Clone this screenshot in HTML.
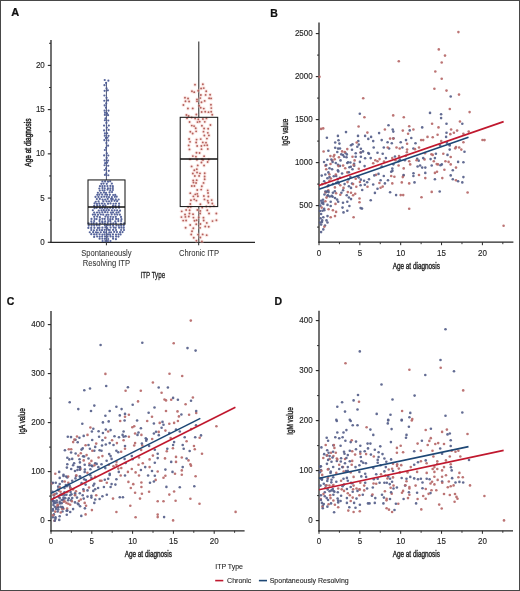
<!DOCTYPE html>
<html><head><meta charset="utf-8"><style>
html,body{margin:0;padding:0;background:#fff;}
body{width:520px;height:591px;overflow:hidden;}
svg{display:block;font-family:"Liberation Sans", sans-serif;filter:blur(0.3px);}
</style></head><body>
<svg width="520" height="591" viewBox="0 0 520 591">
<rect x="0" y="0" width="520" height="591" fill="#fff"/>
<text x="15.20" y="16.30" font-size="11" text-anchor="middle" fill="#111" stroke="#111" stroke-width="0.22" font-weight="bold">A</text>
<line x1="51.00" y1="40.00" x2="51.00" y2="242.95" stroke="#262626" stroke-width="1.3" stroke-linecap="butt"/>
<line x1="50.35" y1="242.30" x2="255.00" y2="242.30" stroke="#262626" stroke-width="1.3" stroke-linecap="butt"/>
<line x1="47.80" y1="242.30" x2="51.00" y2="242.30" stroke="#262626" stroke-width="1.1" stroke-linecap="butt"/>
<text x="0" y="0" transform="translate(44.80,244.80) rotate(0) scale(0.9,1)" font-size="8.9" text-anchor="end" fill="#262626" stroke="#262626" stroke-width="0.15" font-weight="normal">0</text>
<line x1="47.80" y1="198.08" x2="51.00" y2="198.08" stroke="#262626" stroke-width="1.1" stroke-linecap="butt"/>
<text x="0" y="0" transform="translate(44.80,200.58) rotate(0) scale(0.9,1)" font-size="8.9" text-anchor="end" fill="#262626" stroke="#262626" stroke-width="0.15" font-weight="normal">5</text>
<line x1="47.80" y1="153.85" x2="51.00" y2="153.85" stroke="#262626" stroke-width="1.1" stroke-linecap="butt"/>
<text x="0" y="0" transform="translate(44.80,156.35) rotate(0) scale(0.9,1)" font-size="8.9" text-anchor="end" fill="#262626" stroke="#262626" stroke-width="0.15" font-weight="normal">10</text>
<line x1="47.80" y1="109.62" x2="51.00" y2="109.62" stroke="#262626" stroke-width="1.1" stroke-linecap="butt"/>
<text x="0" y="0" transform="translate(44.80,112.12) rotate(0) scale(0.9,1)" font-size="8.9" text-anchor="end" fill="#262626" stroke="#262626" stroke-width="0.15" font-weight="normal">15</text>
<line x1="47.80" y1="65.40" x2="51.00" y2="65.40" stroke="#262626" stroke-width="1.1" stroke-linecap="butt"/>
<text x="0" y="0" transform="translate(44.80,67.90) rotate(0) scale(0.9,1)" font-size="8.9" text-anchor="end" fill="#262626" stroke="#262626" stroke-width="0.15" font-weight="normal">20</text>
<line x1="49.00" y1="220.19" x2="51.00" y2="220.19" stroke="#262626" stroke-width="0.9" stroke-linecap="butt"/>
<line x1="49.00" y1="175.96" x2="51.00" y2="175.96" stroke="#262626" stroke-width="0.9" stroke-linecap="butt"/>
<line x1="49.00" y1="131.74" x2="51.00" y2="131.74" stroke="#262626" stroke-width="0.9" stroke-linecap="butt"/>
<line x1="49.00" y1="87.51" x2="51.00" y2="87.51" stroke="#262626" stroke-width="0.9" stroke-linecap="butt"/>
<line x1="49.00" y1="43.29" x2="51.00" y2="43.29" stroke="#262626" stroke-width="0.9" stroke-linecap="butt"/>
<text x="0" y="0" transform="translate(30.60,142.60) rotate(-90) scale(0.74,1)" font-size="8.8" text-anchor="middle" fill="#262626" stroke="#262626" stroke-width="0.5" font-weight="normal">Age at diagnosis</text>
<line x1="106.40" y1="242.30" x2="106.40" y2="245.30" stroke="#262626" stroke-width="1.0" stroke-linecap="butt"/>
<line x1="198.70" y1="242.30" x2="198.70" y2="245.30" stroke="#262626" stroke-width="1.0" stroke-linecap="butt"/>
<text x="0" y="0" transform="translate(106.40,256.30) rotate(0) scale(0.93,1)" font-size="8.2" text-anchor="middle" fill="#333" stroke="#333" stroke-width="0.05" font-weight="normal">Spontaneously</text>
<text x="0" y="0" transform="translate(106.40,265.50) rotate(0) scale(0.93,1)" font-size="8.2" text-anchor="middle" fill="#333" stroke="#333" stroke-width="0.05" font-weight="normal">Resolving ITP</text>
<text x="0" y="0" transform="translate(199.00,256.00) rotate(0) scale(0.93,1)" font-size="8.2" text-anchor="middle" fill="#333" stroke="#333" stroke-width="0.05" font-weight="normal">Chronic ITP</text>
<text x="0" y="0" transform="translate(152.80,277.60) rotate(0) scale(0.7,1)" font-size="8.9" text-anchor="middle" fill="#262626" stroke="#262626" stroke-width="0.3" font-weight="normal">ITP Type</text>
<line x1="106.40" y1="224.17" x2="106.40" y2="242.30" stroke="#4a5478" stroke-width="1.0" stroke-linecap="butt"/>
<line x1="106.40" y1="179.94" x2="106.40" y2="82.00" stroke="#4a5478" stroke-width="1.0" stroke-linecap="butt"/>
<line x1="198.70" y1="206.57" x2="198.70" y2="242.30" stroke="#606060" stroke-width="1.45" stroke-linecap="butt"/>
<line x1="198.70" y1="117.32" x2="198.70" y2="41.50" stroke="#606060" stroke-width="1.45" stroke-linecap="butt"/>
<circle cx="102.60" cy="241.06" r="1.1" fill="#4d5c96" fill-opacity="0.95"/>
<circle cx="105.32" cy="241.08" r="1.1" fill="#4d5c96" fill-opacity="0.95"/>
<circle cx="107.92" cy="241.07" r="1.1" fill="#4d5c96" fill-opacity="0.95"/>
<circle cx="110.46" cy="241.10" r="1.1" fill="#4d5c96" fill-opacity="0.95"/>
<circle cx="99.60" cy="238.71" r="1.1" fill="#4d5c96" fill-opacity="0.95"/>
<circle cx="102.36" cy="238.75" r="1.1" fill="#4d5c96" fill-opacity="0.95"/>
<circle cx="104.97" cy="238.80" r="1.1" fill="#4d5c96" fill-opacity="0.95"/>
<circle cx="108.14" cy="238.98" r="1.1" fill="#4d5c96" fill-opacity="0.95"/>
<circle cx="113.10" cy="238.72" r="1.1" fill="#4d5c96" fill-opacity="0.95"/>
<circle cx="115.92" cy="239.18" r="1.1" fill="#4d5c96" fill-opacity="0.95"/>
<circle cx="94.14" cy="236.97" r="1.1" fill="#4d5c96" fill-opacity="0.95"/>
<circle cx="97.15" cy="236.51" r="1.1" fill="#4d5c96" fill-opacity="0.95"/>
<circle cx="99.70" cy="236.62" r="1.1" fill="#4d5c96" fill-opacity="0.95"/>
<circle cx="102.15" cy="236.59" r="1.1" fill="#4d5c96" fill-opacity="0.95"/>
<circle cx="105.02" cy="236.62" r="1.1" fill="#4d5c96" fill-opacity="0.95"/>
<circle cx="107.60" cy="236.71" r="1.1" fill="#4d5c96" fill-opacity="0.95"/>
<circle cx="110.55" cy="236.45" r="1.1" fill="#4d5c96" fill-opacity="0.95"/>
<circle cx="113.00" cy="236.76" r="1.1" fill="#4d5c96" fill-opacity="0.95"/>
<circle cx="116.12" cy="236.60" r="1.1" fill="#4d5c96" fill-opacity="0.95"/>
<circle cx="118.46" cy="236.61" r="1.1" fill="#4d5c96" fill-opacity="0.95"/>
<circle cx="91.26" cy="234.20" r="1.1" fill="#4d5c96" fill-opacity="0.95"/>
<circle cx="94.11" cy="234.44" r="1.1" fill="#4d5c96" fill-opacity="0.95"/>
<circle cx="96.46" cy="234.45" r="1.1" fill="#4d5c96" fill-opacity="0.95"/>
<circle cx="99.56" cy="234.25" r="1.1" fill="#4d5c96" fill-opacity="0.95"/>
<circle cx="102.43" cy="234.56" r="1.1" fill="#4d5c96" fill-opacity="0.95"/>
<circle cx="104.61" cy="234.38" r="1.1" fill="#4d5c96" fill-opacity="0.95"/>
<circle cx="107.98" cy="234.43" r="1.1" fill="#4d5c96" fill-opacity="0.95"/>
<circle cx="110.09" cy="234.56" r="1.1" fill="#4d5c96" fill-opacity="0.95"/>
<circle cx="112.96" cy="234.40" r="1.1" fill="#4d5c96" fill-opacity="0.95"/>
<circle cx="115.99" cy="234.56" r="1.1" fill="#4d5c96" fill-opacity="0.95"/>
<circle cx="118.52" cy="234.35" r="1.1" fill="#4d5c96" fill-opacity="0.95"/>
<circle cx="120.57" cy="234.38" r="1.1" fill="#4d5c96" fill-opacity="0.95"/>
<circle cx="89.77" cy="232.26" r="1.1" fill="#4d5c96" fill-opacity="0.95"/>
<circle cx="93.16" cy="232.18" r="1.1" fill="#4d5c96" fill-opacity="0.95"/>
<circle cx="95.97" cy="232.27" r="1.1" fill="#4d5c96" fill-opacity="0.95"/>
<circle cx="97.85" cy="232.52" r="1.1" fill="#4d5c96" fill-opacity="0.95"/>
<circle cx="100.79" cy="232.23" r="1.1" fill="#4d5c96" fill-opacity="0.95"/>
<circle cx="103.96" cy="232.21" r="1.1" fill="#4d5c96" fill-opacity="0.95"/>
<circle cx="106.19" cy="232.28" r="1.1" fill="#4d5c96" fill-opacity="0.95"/>
<circle cx="109.30" cy="232.47" r="1.1" fill="#4d5c96" fill-opacity="0.95"/>
<circle cx="111.06" cy="232.31" r="1.1" fill="#4d5c96" fill-opacity="0.95"/>
<circle cx="114.20" cy="231.97" r="1.1" fill="#4d5c96" fill-opacity="0.95"/>
<circle cx="116.95" cy="232.11" r="1.1" fill="#4d5c96" fill-opacity="0.95"/>
<circle cx="120.06" cy="232.13" r="1.1" fill="#4d5c96" fill-opacity="0.95"/>
<circle cx="122.55" cy="232.05" r="1.1" fill="#4d5c96" fill-opacity="0.95"/>
<circle cx="91.26" cy="230.00" r="1.1" fill="#4d5c96" fill-opacity="0.95"/>
<circle cx="93.92" cy="230.26" r="1.1" fill="#4d5c96" fill-opacity="0.95"/>
<circle cx="96.93" cy="230.09" r="1.1" fill="#4d5c96" fill-opacity="0.95"/>
<circle cx="99.58" cy="230.08" r="1.1" fill="#4d5c96" fill-opacity="0.95"/>
<circle cx="102.00" cy="230.15" r="1.1" fill="#4d5c96" fill-opacity="0.95"/>
<circle cx="104.73" cy="229.84" r="1.1" fill="#4d5c96" fill-opacity="0.95"/>
<circle cx="108.24" cy="229.79" r="1.1" fill="#4d5c96" fill-opacity="0.95"/>
<circle cx="109.81" cy="230.00" r="1.1" fill="#4d5c96" fill-opacity="0.95"/>
<circle cx="113.08" cy="229.89" r="1.1" fill="#4d5c96" fill-opacity="0.95"/>
<circle cx="116.06" cy="230.12" r="1.1" fill="#4d5c96" fill-opacity="0.95"/>
<circle cx="121.07" cy="229.98" r="1.1" fill="#4d5c96" fill-opacity="0.95"/>
<circle cx="123.98" cy="229.99" r="1.1" fill="#4d5c96" fill-opacity="0.95"/>
<circle cx="88.35" cy="227.95" r="1.1" fill="#4d5c96" fill-opacity="0.95"/>
<circle cx="91.20" cy="227.91" r="1.1" fill="#4d5c96" fill-opacity="0.95"/>
<circle cx="94.40" cy="227.83" r="1.1" fill="#4d5c96" fill-opacity="0.95"/>
<circle cx="97.81" cy="227.96" r="1.1" fill="#4d5c96" fill-opacity="0.95"/>
<circle cx="99.42" cy="227.82" r="1.1" fill="#4d5c96" fill-opacity="0.95"/>
<circle cx="102.40" cy="227.72" r="1.1" fill="#4d5c96" fill-opacity="0.95"/>
<circle cx="105.34" cy="227.31" r="1.1" fill="#4d5c96" fill-opacity="0.95"/>
<circle cx="107.26" cy="228.00" r="1.1" fill="#4d5c96" fill-opacity="0.95"/>
<circle cx="110.61" cy="227.61" r="1.1" fill="#4d5c96" fill-opacity="0.95"/>
<circle cx="113.76" cy="227.61" r="1.1" fill="#4d5c96" fill-opacity="0.95"/>
<circle cx="115.65" cy="227.80" r="1.1" fill="#4d5c96" fill-opacity="0.95"/>
<circle cx="119.11" cy="227.63" r="1.1" fill="#4d5c96" fill-opacity="0.95"/>
<circle cx="121.40" cy="227.68" r="1.1" fill="#4d5c96" fill-opacity="0.95"/>
<circle cx="123.78" cy="227.78" r="1.1" fill="#4d5c96" fill-opacity="0.95"/>
<circle cx="88.72" cy="225.56" r="1.1" fill="#4d5c96" fill-opacity="0.95"/>
<circle cx="91.57" cy="225.55" r="1.1" fill="#4d5c96" fill-opacity="0.95"/>
<circle cx="94.15" cy="225.58" r="1.1" fill="#4d5c96" fill-opacity="0.95"/>
<circle cx="96.79" cy="225.37" r="1.1" fill="#4d5c96" fill-opacity="0.95"/>
<circle cx="99.31" cy="225.47" r="1.1" fill="#4d5c96" fill-opacity="0.95"/>
<circle cx="104.93" cy="225.24" r="1.1" fill="#4d5c96" fill-opacity="0.95"/>
<circle cx="107.83" cy="225.35" r="1.1" fill="#4d5c96" fill-opacity="0.95"/>
<circle cx="110.24" cy="225.40" r="1.1" fill="#4d5c96" fill-opacity="0.95"/>
<circle cx="113.10" cy="225.64" r="1.1" fill="#4d5c96" fill-opacity="0.95"/>
<circle cx="116.39" cy="225.49" r="1.1" fill="#4d5c96" fill-opacity="0.95"/>
<circle cx="118.74" cy="225.54" r="1.1" fill="#4d5c96" fill-opacity="0.95"/>
<circle cx="121.15" cy="225.59" r="1.1" fill="#4d5c96" fill-opacity="0.95"/>
<circle cx="123.73" cy="225.72" r="1.1" fill="#4d5c96" fill-opacity="0.95"/>
<circle cx="88.59" cy="223.41" r="1.1" fill="#4d5c96" fill-opacity="0.95"/>
<circle cx="91.48" cy="223.24" r="1.1" fill="#4d5c96" fill-opacity="0.95"/>
<circle cx="93.72" cy="223.21" r="1.1" fill="#4d5c96" fill-opacity="0.95"/>
<circle cx="96.54" cy="223.41" r="1.1" fill="#4d5c96" fill-opacity="0.95"/>
<circle cx="99.92" cy="223.24" r="1.1" fill="#4d5c96" fill-opacity="0.95"/>
<circle cx="102.45" cy="222.96" r="1.1" fill="#4d5c96" fill-opacity="0.95"/>
<circle cx="104.84" cy="223.27" r="1.1" fill="#4d5c96" fill-opacity="0.95"/>
<circle cx="107.74" cy="223.08" r="1.1" fill="#4d5c96" fill-opacity="0.95"/>
<circle cx="110.71" cy="223.32" r="1.1" fill="#4d5c96" fill-opacity="0.95"/>
<circle cx="113.30" cy="223.24" r="1.1" fill="#4d5c96" fill-opacity="0.95"/>
<circle cx="115.91" cy="223.28" r="1.1" fill="#4d5c96" fill-opacity="0.95"/>
<circle cx="120.99" cy="223.58" r="1.1" fill="#4d5c96" fill-opacity="0.95"/>
<circle cx="124.18" cy="223.42" r="1.1" fill="#4d5c96" fill-opacity="0.95"/>
<circle cx="91.32" cy="221.32" r="1.1" fill="#4d5c96" fill-opacity="0.95"/>
<circle cx="94.16" cy="221.09" r="1.1" fill="#4d5c96" fill-opacity="0.95"/>
<circle cx="99.51" cy="221.07" r="1.1" fill="#4d5c96" fill-opacity="0.95"/>
<circle cx="102.26" cy="221.46" r="1.1" fill="#4d5c96" fill-opacity="0.95"/>
<circle cx="105.15" cy="221.37" r="1.1" fill="#4d5c96" fill-opacity="0.95"/>
<circle cx="108.18" cy="221.09" r="1.1" fill="#4d5c96" fill-opacity="0.95"/>
<circle cx="110.34" cy="221.18" r="1.1" fill="#4d5c96" fill-opacity="0.95"/>
<circle cx="115.35" cy="221.45" r="1.1" fill="#4d5c96" fill-opacity="0.95"/>
<circle cx="118.36" cy="221.04" r="1.1" fill="#4d5c96" fill-opacity="0.95"/>
<circle cx="121.18" cy="221.01" r="1.1" fill="#4d5c96" fill-opacity="0.95"/>
<circle cx="91.49" cy="218.91" r="1.1" fill="#4d5c96" fill-opacity="0.95"/>
<circle cx="94.59" cy="219.00" r="1.1" fill="#4d5c96" fill-opacity="0.95"/>
<circle cx="96.55" cy="219.11" r="1.1" fill="#4d5c96" fill-opacity="0.95"/>
<circle cx="99.80" cy="219.29" r="1.1" fill="#4d5c96" fill-opacity="0.95"/>
<circle cx="102.43" cy="218.80" r="1.1" fill="#4d5c96" fill-opacity="0.95"/>
<circle cx="104.66" cy="218.91" r="1.1" fill="#4d5c96" fill-opacity="0.95"/>
<circle cx="107.93" cy="219.01" r="1.1" fill="#4d5c96" fill-opacity="0.95"/>
<circle cx="110.28" cy="219.16" r="1.1" fill="#4d5c96" fill-opacity="0.95"/>
<circle cx="112.64" cy="219.15" r="1.1" fill="#4d5c96" fill-opacity="0.95"/>
<circle cx="116.11" cy="218.94" r="1.1" fill="#4d5c96" fill-opacity="0.95"/>
<circle cx="118.23" cy="219.10" r="1.1" fill="#4d5c96" fill-opacity="0.95"/>
<circle cx="121.45" cy="219.18" r="1.1" fill="#4d5c96" fill-opacity="0.95"/>
<circle cx="94.23" cy="216.81" r="1.1" fill="#4d5c96" fill-opacity="0.95"/>
<circle cx="97.16" cy="216.58" r="1.1" fill="#4d5c96" fill-opacity="0.95"/>
<circle cx="99.87" cy="217.18" r="1.1" fill="#4d5c96" fill-opacity="0.95"/>
<circle cx="105.45" cy="216.56" r="1.1" fill="#4d5c96" fill-opacity="0.95"/>
<circle cx="107.91" cy="216.98" r="1.1" fill="#4d5c96" fill-opacity="0.95"/>
<circle cx="110.61" cy="216.82" r="1.1" fill="#4d5c96" fill-opacity="0.95"/>
<circle cx="113.15" cy="216.98" r="1.1" fill="#4d5c96" fill-opacity="0.95"/>
<circle cx="115.79" cy="216.78" r="1.1" fill="#4d5c96" fill-opacity="0.95"/>
<circle cx="121.02" cy="216.92" r="1.1" fill="#4d5c96" fill-opacity="0.95"/>
<circle cx="92.87" cy="214.55" r="1.1" fill="#4d5c96" fill-opacity="0.95"/>
<circle cx="95.09" cy="214.63" r="1.1" fill="#4d5c96" fill-opacity="0.95"/>
<circle cx="98.04" cy="214.73" r="1.1" fill="#4d5c96" fill-opacity="0.95"/>
<circle cx="100.83" cy="214.51" r="1.1" fill="#4d5c96" fill-opacity="0.95"/>
<circle cx="103.22" cy="214.70" r="1.1" fill="#4d5c96" fill-opacity="0.95"/>
<circle cx="106.51" cy="214.81" r="1.1" fill="#4d5c96" fill-opacity="0.95"/>
<circle cx="108.42" cy="214.74" r="1.1" fill="#4d5c96" fill-opacity="0.95"/>
<circle cx="111.70" cy="214.39" r="1.1" fill="#4d5c96" fill-opacity="0.95"/>
<circle cx="114.76" cy="214.47" r="1.1" fill="#4d5c96" fill-opacity="0.95"/>
<circle cx="117.24" cy="214.57" r="1.1" fill="#4d5c96" fill-opacity="0.95"/>
<circle cx="119.84" cy="214.71" r="1.1" fill="#4d5c96" fill-opacity="0.95"/>
<circle cx="94.15" cy="212.58" r="1.1" fill="#4d5c96" fill-opacity="0.95"/>
<circle cx="97.04" cy="212.48" r="1.1" fill="#4d5c96" fill-opacity="0.95"/>
<circle cx="99.50" cy="212.71" r="1.1" fill="#4d5c96" fill-opacity="0.95"/>
<circle cx="102.29" cy="212.28" r="1.1" fill="#4d5c96" fill-opacity="0.95"/>
<circle cx="105.06" cy="212.20" r="1.1" fill="#4d5c96" fill-opacity="0.95"/>
<circle cx="107.58" cy="212.28" r="1.1" fill="#4d5c96" fill-opacity="0.95"/>
<circle cx="110.86" cy="212.56" r="1.1" fill="#4d5c96" fill-opacity="0.95"/>
<circle cx="113.02" cy="212.41" r="1.1" fill="#4d5c96" fill-opacity="0.95"/>
<circle cx="116.49" cy="212.56" r="1.1" fill="#4d5c96" fill-opacity="0.95"/>
<circle cx="118.56" cy="212.31" r="1.1" fill="#4d5c96" fill-opacity="0.95"/>
<circle cx="92.84" cy="210.24" r="1.1" fill="#4d5c96" fill-opacity="0.95"/>
<circle cx="98.71" cy="210.52" r="1.1" fill="#4d5c96" fill-opacity="0.95"/>
<circle cx="101.48" cy="210.33" r="1.1" fill="#4d5c96" fill-opacity="0.95"/>
<circle cx="103.78" cy="210.20" r="1.1" fill="#4d5c96" fill-opacity="0.95"/>
<circle cx="106.34" cy="210.23" r="1.1" fill="#4d5c96" fill-opacity="0.95"/>
<circle cx="108.83" cy="210.20" r="1.1" fill="#4d5c96" fill-opacity="0.95"/>
<circle cx="111.88" cy="210.31" r="1.1" fill="#4d5c96" fill-opacity="0.95"/>
<circle cx="114.59" cy="210.31" r="1.1" fill="#4d5c96" fill-opacity="0.95"/>
<circle cx="117.13" cy="210.29" r="1.1" fill="#4d5c96" fill-opacity="0.95"/>
<circle cx="120.02" cy="210.66" r="1.1" fill="#4d5c96" fill-opacity="0.95"/>
<circle cx="94.55" cy="208.23" r="1.1" fill="#4d5c96" fill-opacity="0.95"/>
<circle cx="96.70" cy="207.79" r="1.1" fill="#4d5c96" fill-opacity="0.95"/>
<circle cx="99.98" cy="208.05" r="1.1" fill="#4d5c96" fill-opacity="0.95"/>
<circle cx="102.24" cy="208.10" r="1.1" fill="#4d5c96" fill-opacity="0.95"/>
<circle cx="104.92" cy="208.04" r="1.1" fill="#4d5c96" fill-opacity="0.95"/>
<circle cx="107.34" cy="208.39" r="1.1" fill="#4d5c96" fill-opacity="0.95"/>
<circle cx="110.13" cy="207.78" r="1.1" fill="#4d5c96" fill-opacity="0.95"/>
<circle cx="112.88" cy="208.12" r="1.1" fill="#4d5c96" fill-opacity="0.95"/>
<circle cx="115.93" cy="207.76" r="1.1" fill="#4d5c96" fill-opacity="0.95"/>
<circle cx="119.05" cy="207.77" r="1.1" fill="#4d5c96" fill-opacity="0.95"/>
<circle cx="94.20" cy="205.95" r="1.1" fill="#4d5c96" fill-opacity="0.95"/>
<circle cx="97.17" cy="205.61" r="1.1" fill="#4d5c96" fill-opacity="0.95"/>
<circle cx="99.82" cy="205.51" r="1.1" fill="#4d5c96" fill-opacity="0.95"/>
<circle cx="103.04" cy="205.66" r="1.1" fill="#4d5c96" fill-opacity="0.95"/>
<circle cx="105.47" cy="205.53" r="1.1" fill="#4d5c96" fill-opacity="0.95"/>
<circle cx="112.98" cy="205.91" r="1.1" fill="#4d5c96" fill-opacity="0.95"/>
<circle cx="115.48" cy="205.90" r="1.1" fill="#4d5c96" fill-opacity="0.95"/>
<circle cx="118.91" cy="205.98" r="1.1" fill="#4d5c96" fill-opacity="0.95"/>
<circle cx="94.55" cy="203.43" r="1.1" fill="#4d5c96" fill-opacity="0.95"/>
<circle cx="96.92" cy="203.80" r="1.1" fill="#4d5c96" fill-opacity="0.95"/>
<circle cx="99.32" cy="203.62" r="1.1" fill="#4d5c96" fill-opacity="0.95"/>
<circle cx="102.01" cy="203.50" r="1.1" fill="#4d5c96" fill-opacity="0.95"/>
<circle cx="104.60" cy="203.77" r="1.1" fill="#4d5c96" fill-opacity="0.95"/>
<circle cx="107.99" cy="203.64" r="1.1" fill="#4d5c96" fill-opacity="0.95"/>
<circle cx="110.52" cy="203.47" r="1.1" fill="#4d5c96" fill-opacity="0.95"/>
<circle cx="113.46" cy="203.77" r="1.1" fill="#4d5c96" fill-opacity="0.95"/>
<circle cx="115.90" cy="203.61" r="1.1" fill="#4d5c96" fill-opacity="0.95"/>
<circle cx="119.09" cy="203.63" r="1.1" fill="#4d5c96" fill-opacity="0.95"/>
<circle cx="95.72" cy="201.74" r="1.1" fill="#4d5c96" fill-opacity="0.95"/>
<circle cx="98.56" cy="201.41" r="1.1" fill="#4d5c96" fill-opacity="0.95"/>
<circle cx="103.33" cy="201.38" r="1.1" fill="#4d5c96" fill-opacity="0.95"/>
<circle cx="106.61" cy="201.34" r="1.1" fill="#4d5c96" fill-opacity="0.95"/>
<circle cx="109.02" cy="201.27" r="1.1" fill="#4d5c96" fill-opacity="0.95"/>
<circle cx="111.53" cy="200.91" r="1.1" fill="#4d5c96" fill-opacity="0.95"/>
<circle cx="114.53" cy="200.85" r="1.1" fill="#4d5c96" fill-opacity="0.95"/>
<circle cx="117.10" cy="201.14" r="1.1" fill="#4d5c96" fill-opacity="0.95"/>
<circle cx="96.81" cy="199.10" r="1.1" fill="#4d5c96" fill-opacity="0.95"/>
<circle cx="99.76" cy="198.92" r="1.1" fill="#4d5c96" fill-opacity="0.95"/>
<circle cx="102.56" cy="199.54" r="1.1" fill="#4d5c96" fill-opacity="0.95"/>
<circle cx="105.14" cy="199.53" r="1.1" fill="#4d5c96" fill-opacity="0.95"/>
<circle cx="107.66" cy="198.95" r="1.1" fill="#4d5c96" fill-opacity="0.95"/>
<circle cx="111.10" cy="198.94" r="1.1" fill="#4d5c96" fill-opacity="0.95"/>
<circle cx="112.73" cy="199.22" r="1.1" fill="#4d5c96" fill-opacity="0.95"/>
<circle cx="115.78" cy="199.33" r="1.1" fill="#4d5c96" fill-opacity="0.95"/>
<circle cx="118.68" cy="199.51" r="1.1" fill="#4d5c96" fill-opacity="0.95"/>
<circle cx="95.51" cy="196.88" r="1.1" fill="#4d5c96" fill-opacity="0.95"/>
<circle cx="98.44" cy="196.94" r="1.1" fill="#4d5c96" fill-opacity="0.95"/>
<circle cx="101.55" cy="196.96" r="1.1" fill="#4d5c96" fill-opacity="0.95"/>
<circle cx="104.21" cy="196.66" r="1.1" fill="#4d5c96" fill-opacity="0.95"/>
<circle cx="106.69" cy="196.84" r="1.1" fill="#4d5c96" fill-opacity="0.95"/>
<circle cx="108.99" cy="197.12" r="1.1" fill="#4d5c96" fill-opacity="0.95"/>
<circle cx="111.92" cy="197.11" r="1.1" fill="#4d5c96" fill-opacity="0.95"/>
<circle cx="114.83" cy="196.87" r="1.1" fill="#4d5c96" fill-opacity="0.95"/>
<circle cx="116.67" cy="196.71" r="1.1" fill="#4d5c96" fill-opacity="0.95"/>
<circle cx="97.26" cy="194.83" r="1.1" fill="#4d5c96" fill-opacity="0.95"/>
<circle cx="99.33" cy="194.70" r="1.1" fill="#4d5c96" fill-opacity="0.95"/>
<circle cx="102.18" cy="194.54" r="1.1" fill="#4d5c96" fill-opacity="0.95"/>
<circle cx="105.36" cy="194.41" r="1.1" fill="#4d5c96" fill-opacity="0.95"/>
<circle cx="107.11" cy="194.83" r="1.1" fill="#4d5c96" fill-opacity="0.95"/>
<circle cx="109.82" cy="194.82" r="1.1" fill="#4d5c96" fill-opacity="0.95"/>
<circle cx="113.18" cy="195.01" r="1.1" fill="#4d5c96" fill-opacity="0.95"/>
<circle cx="115.20" cy="194.89" r="1.1" fill="#4d5c96" fill-opacity="0.95"/>
<circle cx="97.86" cy="192.74" r="1.1" fill="#4d5c96" fill-opacity="0.95"/>
<circle cx="100.84" cy="192.76" r="1.1" fill="#4d5c96" fill-opacity="0.95"/>
<circle cx="103.89" cy="192.43" r="1.1" fill="#4d5c96" fill-opacity="0.95"/>
<circle cx="106.07" cy="192.87" r="1.1" fill="#4d5c96" fill-opacity="0.95"/>
<circle cx="109.53" cy="192.45" r="1.1" fill="#4d5c96" fill-opacity="0.95"/>
<circle cx="112.05" cy="192.11" r="1.1" fill="#4d5c96" fill-opacity="0.95"/>
<circle cx="99.79" cy="190.58" r="1.1" fill="#4d5c96" fill-opacity="0.95"/>
<circle cx="102.52" cy="190.27" r="1.1" fill="#4d5c96" fill-opacity="0.95"/>
<circle cx="104.54" cy="190.30" r="1.1" fill="#4d5c96" fill-opacity="0.95"/>
<circle cx="107.56" cy="189.76" r="1.1" fill="#4d5c96" fill-opacity="0.95"/>
<circle cx="110.29" cy="190.45" r="1.1" fill="#4d5c96" fill-opacity="0.95"/>
<circle cx="112.89" cy="189.98" r="1.1" fill="#4d5c96" fill-opacity="0.95"/>
<circle cx="99.32" cy="188.50" r="1.1" fill="#4d5c96" fill-opacity="0.95"/>
<circle cx="102.43" cy="188.10" r="1.1" fill="#4d5c96" fill-opacity="0.95"/>
<circle cx="104.70" cy="188.25" r="1.1" fill="#4d5c96" fill-opacity="0.95"/>
<circle cx="107.91" cy="188.37" r="1.1" fill="#4d5c96" fill-opacity="0.95"/>
<circle cx="110.33" cy="188.39" r="1.1" fill="#4d5c96" fill-opacity="0.95"/>
<circle cx="112.88" cy="188.09" r="1.1" fill="#4d5c96" fill-opacity="0.95"/>
<circle cx="99.94" cy="186.17" r="1.1" fill="#4d5c96" fill-opacity="0.95"/>
<circle cx="102.34" cy="186.05" r="1.1" fill="#4d5c96" fill-opacity="0.95"/>
<circle cx="104.70" cy="186.08" r="1.1" fill="#4d5c96" fill-opacity="0.95"/>
<circle cx="107.42" cy="186.11" r="1.1" fill="#4d5c96" fill-opacity="0.95"/>
<circle cx="110.40" cy="185.89" r="1.1" fill="#4d5c96" fill-opacity="0.95"/>
<circle cx="112.82" cy="186.17" r="1.1" fill="#4d5c96" fill-opacity="0.95"/>
<circle cx="101.36" cy="183.82" r="1.1" fill="#4d5c96" fill-opacity="0.95"/>
<circle cx="103.59" cy="183.59" r="1.1" fill="#4d5c96" fill-opacity="0.95"/>
<circle cx="106.76" cy="183.86" r="1.1" fill="#4d5c96" fill-opacity="0.95"/>
<circle cx="111.86" cy="183.54" r="1.1" fill="#4d5c96" fill-opacity="0.95"/>
<circle cx="102.41" cy="181.50" r="1.1" fill="#4d5c96" fill-opacity="0.95"/>
<circle cx="105.10" cy="181.45" r="1.1" fill="#4d5c96" fill-opacity="0.95"/>
<circle cx="107.98" cy="181.64" r="1.1" fill="#4d5c96" fill-opacity="0.95"/>
<circle cx="110.15" cy="181.28" r="1.1" fill="#4d5c96" fill-opacity="0.95"/>
<circle cx="104.95" cy="174.96" r="1.1" fill="#4d5c96" fill-opacity="0.95"/>
<circle cx="108.29" cy="175.26" r="1.1" fill="#4d5c96" fill-opacity="0.95"/>
<circle cx="106.33" cy="173.25" r="1.1" fill="#4d5c96" fill-opacity="0.95"/>
<circle cx="104.69" cy="169.99" r="1.1" fill="#4d5c96" fill-opacity="0.95"/>
<circle cx="108.77" cy="170.79" r="1.1" fill="#4d5c96" fill-opacity="0.95"/>
<circle cx="106.09" cy="168.39" r="1.1" fill="#4d5c96" fill-opacity="0.95"/>
<circle cx="104.56" cy="165.25" r="1.1" fill="#4d5c96" fill-opacity="0.95"/>
<circle cx="108.26" cy="165.77" r="1.1" fill="#4d5c96" fill-opacity="0.95"/>
<circle cx="105.17" cy="163.14" r="1.1" fill="#4d5c96" fill-opacity="0.95"/>
<circle cx="107.14" cy="162.65" r="1.1" fill="#4d5c96" fill-opacity="0.95"/>
<circle cx="104.66" cy="160.45" r="1.1" fill="#4d5c96" fill-opacity="0.95"/>
<circle cx="108.10" cy="160.57" r="1.1" fill="#4d5c96" fill-opacity="0.95"/>
<circle cx="106.70" cy="157.90" r="1.1" fill="#4d5c96" fill-opacity="0.95"/>
<circle cx="104.19" cy="155.41" r="1.1" fill="#4d5c96" fill-opacity="0.95"/>
<circle cx="108.27" cy="155.52" r="1.1" fill="#4d5c96" fill-opacity="0.95"/>
<circle cx="106.80" cy="153.43" r="1.1" fill="#4d5c96" fill-opacity="0.95"/>
<circle cx="104.85" cy="149.98" r="1.1" fill="#4d5c96" fill-opacity="0.95"/>
<circle cx="106.09" cy="147.78" r="1.1" fill="#4d5c96" fill-opacity="0.95"/>
<circle cx="108.11" cy="145.70" r="1.1" fill="#4d5c96" fill-opacity="0.95"/>
<circle cx="106.41" cy="142.99" r="1.1" fill="#4d5c96" fill-opacity="0.95"/>
<circle cx="104.35" cy="140.19" r="1.1" fill="#4d5c96" fill-opacity="0.95"/>
<circle cx="108.27" cy="140.46" r="1.1" fill="#4d5c96" fill-opacity="0.95"/>
<circle cx="105.83" cy="137.92" r="1.1" fill="#4d5c96" fill-opacity="0.95"/>
<circle cx="107.46" cy="137.75" r="1.1" fill="#4d5c96" fill-opacity="0.95"/>
<circle cx="104.78" cy="135.71" r="1.1" fill="#4d5c96" fill-opacity="0.95"/>
<circle cx="108.52" cy="135.82" r="1.1" fill="#4d5c96" fill-opacity="0.95"/>
<circle cx="104.89" cy="133.28" r="1.1" fill="#4d5c96" fill-opacity="0.95"/>
<circle cx="107.15" cy="133.27" r="1.1" fill="#4d5c96" fill-opacity="0.95"/>
<circle cx="104.07" cy="130.47" r="1.1" fill="#4d5c96" fill-opacity="0.95"/>
<circle cx="108.60" cy="129.93" r="1.1" fill="#4d5c96" fill-opacity="0.95"/>
<circle cx="106.83" cy="127.67" r="1.1" fill="#4d5c96" fill-opacity="0.95"/>
<circle cx="104.08" cy="125.58" r="1.1" fill="#4d5c96" fill-opacity="0.95"/>
<circle cx="108.82" cy="125.62" r="1.1" fill="#4d5c96" fill-opacity="0.95"/>
<circle cx="106.40" cy="122.94" r="1.1" fill="#4d5c96" fill-opacity="0.95"/>
<circle cx="104.88" cy="120.23" r="1.1" fill="#4d5c96" fill-opacity="0.95"/>
<circle cx="108.28" cy="120.48" r="1.1" fill="#4d5c96" fill-opacity="0.95"/>
<circle cx="105.51" cy="118.40" r="1.1" fill="#4d5c96" fill-opacity="0.95"/>
<circle cx="104.87" cy="114.90" r="1.1" fill="#4d5c96" fill-opacity="0.95"/>
<circle cx="108.09" cy="115.14" r="1.1" fill="#4d5c96" fill-opacity="0.95"/>
<circle cx="105.01" cy="112.87" r="1.1" fill="#4d5c96" fill-opacity="0.95"/>
<circle cx="107.11" cy="113.40" r="1.1" fill="#4d5c96" fill-opacity="0.95"/>
<circle cx="104.60" cy="110.71" r="1.1" fill="#4d5c96" fill-opacity="0.95"/>
<circle cx="108.47" cy="110.56" r="1.1" fill="#4d5c96" fill-opacity="0.95"/>
<circle cx="105.97" cy="107.69" r="1.1" fill="#4d5c96" fill-opacity="0.95"/>
<circle cx="104.66" cy="105.44" r="1.1" fill="#4d5c96" fill-opacity="0.95"/>
<circle cx="106.23" cy="103.45" r="1.1" fill="#4d5c96" fill-opacity="0.95"/>
<circle cx="104.32" cy="100.76" r="1.1" fill="#4d5c96" fill-opacity="0.95"/>
<circle cx="108.04" cy="100.47" r="1.1" fill="#4d5c96" fill-opacity="0.95"/>
<circle cx="106.56" cy="97.79" r="1.1" fill="#4d5c96" fill-opacity="0.95"/>
<circle cx="104.39" cy="95.48" r="1.1" fill="#4d5c96" fill-opacity="0.95"/>
<circle cx="104.63" cy="90.83" r="1.1" fill="#4d5c96" fill-opacity="0.95"/>
<circle cx="107.86" cy="90.35" r="1.1" fill="#4d5c96" fill-opacity="0.95"/>
<circle cx="106.57" cy="88.24" r="1.1" fill="#4d5c96" fill-opacity="0.95"/>
<circle cx="104.47" cy="85.20" r="1.1" fill="#4d5c96" fill-opacity="0.95"/>
<circle cx="106.07" cy="82.88" r="1.1" fill="#4d5c96" fill-opacity="0.95"/>
<circle cx="104.73" cy="79.99" r="1.1" fill="#4d5c96" fill-opacity="0.95"/>
<circle cx="108.38" cy="80.69" r="1.1" fill="#4d5c96" fill-opacity="0.95"/>
<circle cx="196.46" cy="240.81" r="2.0" fill="#f4c8c0" fill-opacity="0.4"/>
<circle cx="201.90" cy="241.51" r="2.0" fill="#f4c8c0" fill-opacity="0.4"/>
<circle cx="193.73" cy="237.73" r="2.0" fill="#f4c8c0" fill-opacity="0.4"/>
<circle cx="200.32" cy="237.45" r="2.0" fill="#f4c8c0" fill-opacity="0.4"/>
<circle cx="191.23" cy="234.45" r="2.0" fill="#f4c8c0" fill-opacity="0.4"/>
<circle cx="198.03" cy="234.58" r="2.0" fill="#f4c8c0" fill-opacity="0.4"/>
<circle cx="202.65" cy="234.38" r="2.0" fill="#f4c8c0" fill-opacity="0.4"/>
<circle cx="206.69" cy="235.13" r="2.0" fill="#f4c8c0" fill-opacity="0.4"/>
<circle cx="192.02" cy="231.18" r="2.0" fill="#f4c8c0" fill-opacity="0.4"/>
<circle cx="185.62" cy="227.79" r="2.0" fill="#f4c8c0" fill-opacity="0.4"/>
<circle cx="193.33" cy="228.21" r="2.0" fill="#f4c8c0" fill-opacity="0.4"/>
<circle cx="200.13" cy="227.84" r="2.0" fill="#f4c8c0" fill-opacity="0.4"/>
<circle cx="205.24" cy="226.56" r="2.0" fill="#f4c8c0" fill-opacity="0.4"/>
<circle cx="208.73" cy="226.76" r="2.0" fill="#f4c8c0" fill-opacity="0.4"/>
<circle cx="190.20" cy="225.07" r="2.0" fill="#f4c8c0" fill-opacity="0.4"/>
<circle cx="196.27" cy="224.29" r="2.0" fill="#f4c8c0" fill-opacity="0.4"/>
<circle cx="200.42" cy="223.95" r="2.0" fill="#f4c8c0" fill-opacity="0.4"/>
<circle cx="206.80" cy="222.90" r="2.0" fill="#f4c8c0" fill-opacity="0.4"/>
<circle cx="183.18" cy="220.60" r="2.0" fill="#f4c8c0" fill-opacity="0.4"/>
<circle cx="186.11" cy="220.57" r="2.0" fill="#f4c8c0" fill-opacity="0.4"/>
<circle cx="194.48" cy="220.76" r="2.0" fill="#f4c8c0" fill-opacity="0.4"/>
<circle cx="196.64" cy="220.29" r="2.0" fill="#f4c8c0" fill-opacity="0.4"/>
<circle cx="203.68" cy="220.54" r="2.0" fill="#f4c8c0" fill-opacity="0.4"/>
<circle cx="212.51" cy="221.11" r="2.0" fill="#f4c8c0" fill-opacity="0.4"/>
<circle cx="216.42" cy="220.30" r="2.0" fill="#f4c8c0" fill-opacity="0.4"/>
<circle cx="181.42" cy="217.10" r="2.0" fill="#f4c8c0" fill-opacity="0.4"/>
<circle cx="185.42" cy="216.88" r="2.0" fill="#f4c8c0" fill-opacity="0.4"/>
<circle cx="188.83" cy="216.49" r="2.0" fill="#f4c8c0" fill-opacity="0.4"/>
<circle cx="193.45" cy="217.61" r="2.0" fill="#f4c8c0" fill-opacity="0.4"/>
<circle cx="198.69" cy="217.34" r="2.0" fill="#f4c8c0" fill-opacity="0.4"/>
<circle cx="203.46" cy="217.64" r="2.0" fill="#f4c8c0" fill-opacity="0.4"/>
<circle cx="185.02" cy="214.56" r="2.0" fill="#f4c8c0" fill-opacity="0.4"/>
<circle cx="189.48" cy="213.46" r="2.0" fill="#f4c8c0" fill-opacity="0.4"/>
<circle cx="193.03" cy="214.13" r="2.0" fill="#f4c8c0" fill-opacity="0.4"/>
<circle cx="200.14" cy="213.56" r="2.0" fill="#f4c8c0" fill-opacity="0.4"/>
<circle cx="209.04" cy="213.53" r="2.0" fill="#f4c8c0" fill-opacity="0.4"/>
<circle cx="216.34" cy="213.44" r="2.0" fill="#f4c8c0" fill-opacity="0.4"/>
<circle cx="181.72" cy="211.33" r="2.0" fill="#f4c8c0" fill-opacity="0.4"/>
<circle cx="186.13" cy="209.98" r="2.0" fill="#f4c8c0" fill-opacity="0.4"/>
<circle cx="189.60" cy="210.23" r="2.0" fill="#f4c8c0" fill-opacity="0.4"/>
<circle cx="197.35" cy="210.00" r="2.0" fill="#f4c8c0" fill-opacity="0.4"/>
<circle cx="200.33" cy="210.89" r="2.0" fill="#f4c8c0" fill-opacity="0.4"/>
<circle cx="207.28" cy="210.18" r="2.0" fill="#f4c8c0" fill-opacity="0.4"/>
<circle cx="188.09" cy="206.96" r="2.0" fill="#f4c8c0" fill-opacity="0.4"/>
<circle cx="190.70" cy="206.91" r="2.0" fill="#f4c8c0" fill-opacity="0.4"/>
<circle cx="202.21" cy="207.43" r="2.0" fill="#f4c8c0" fill-opacity="0.4"/>
<circle cx="206.27" cy="206.55" r="2.0" fill="#f4c8c0" fill-opacity="0.4"/>
<circle cx="210.06" cy="206.60" r="2.0" fill="#f4c8c0" fill-opacity="0.4"/>
<circle cx="213.88" cy="206.11" r="2.0" fill="#f4c8c0" fill-opacity="0.4"/>
<circle cx="190.30" cy="203.96" r="2.0" fill="#f4c8c0" fill-opacity="0.4"/>
<circle cx="200.37" cy="204.29" r="2.0" fill="#f4c8c0" fill-opacity="0.4"/>
<circle cx="208.38" cy="202.69" r="2.0" fill="#f4c8c0" fill-opacity="0.4"/>
<circle cx="212.30" cy="203.52" r="2.0" fill="#f4c8c0" fill-opacity="0.4"/>
<circle cx="190.92" cy="200.29" r="2.0" fill="#f4c8c0" fill-opacity="0.4"/>
<circle cx="194.23" cy="199.35" r="2.0" fill="#f4c8c0" fill-opacity="0.4"/>
<circle cx="196.41" cy="200.62" r="2.0" fill="#f4c8c0" fill-opacity="0.4"/>
<circle cx="204.48" cy="199.42" r="2.0" fill="#f4c8c0" fill-opacity="0.4"/>
<circle cx="207.71" cy="200.78" r="2.0" fill="#f4c8c0" fill-opacity="0.4"/>
<circle cx="211.70" cy="200.09" r="2.0" fill="#f4c8c0" fill-opacity="0.4"/>
<circle cx="193.36" cy="196.36" r="2.0" fill="#f4c8c0" fill-opacity="0.4"/>
<circle cx="197.87" cy="196.21" r="2.0" fill="#f4c8c0" fill-opacity="0.4"/>
<circle cx="203.88" cy="195.94" r="2.0" fill="#f4c8c0" fill-opacity="0.4"/>
<circle cx="208.37" cy="196.53" r="2.0" fill="#f4c8c0" fill-opacity="0.4"/>
<circle cx="190.29" cy="193.14" r="2.0" fill="#f4c8c0" fill-opacity="0.4"/>
<circle cx="195.28" cy="194.36" r="2.0" fill="#f4c8c0" fill-opacity="0.4"/>
<circle cx="197.29" cy="193.83" r="2.0" fill="#f4c8c0" fill-opacity="0.4"/>
<circle cx="208.03" cy="193.06" r="2.0" fill="#f4c8c0" fill-opacity="0.4"/>
<circle cx="197.24" cy="190.04" r="2.0" fill="#f4c8c0" fill-opacity="0.4"/>
<circle cx="201.18" cy="189.62" r="2.0" fill="#f4c8c0" fill-opacity="0.4"/>
<circle cx="207.70" cy="190.34" r="2.0" fill="#f4c8c0" fill-opacity="0.4"/>
<circle cx="191.78" cy="186.07" r="2.0" fill="#f4c8c0" fill-opacity="0.4"/>
<circle cx="194.43" cy="186.04" r="2.0" fill="#f4c8c0" fill-opacity="0.4"/>
<circle cx="201.83" cy="186.26" r="2.0" fill="#f4c8c0" fill-opacity="0.4"/>
<circle cx="193.48" cy="182.62" r="2.0" fill="#f4c8c0" fill-opacity="0.4"/>
<circle cx="196.08" cy="182.98" r="2.0" fill="#f4c8c0" fill-opacity="0.4"/>
<circle cx="203.53" cy="182.89" r="2.0" fill="#f4c8c0" fill-opacity="0.4"/>
<circle cx="193.20" cy="180.49" r="2.0" fill="#f4c8c0" fill-opacity="0.4"/>
<circle cx="196.66" cy="180.13" r="2.0" fill="#f4c8c0" fill-opacity="0.4"/>
<circle cx="204.66" cy="179.19" r="2.0" fill="#f4c8c0" fill-opacity="0.4"/>
<circle cx="194.84" cy="176.06" r="2.0" fill="#f4c8c0" fill-opacity="0.4"/>
<circle cx="199.10" cy="175.92" r="2.0" fill="#f4c8c0" fill-opacity="0.4"/>
<circle cx="204.63" cy="176.54" r="2.0" fill="#f4c8c0" fill-opacity="0.4"/>
<circle cx="192.85" cy="173.52" r="2.0" fill="#f4c8c0" fill-opacity="0.4"/>
<circle cx="197.05" cy="172.48" r="2.0" fill="#f4c8c0" fill-opacity="0.4"/>
<circle cx="199.97" cy="173.34" r="2.0" fill="#f4c8c0" fill-opacity="0.4"/>
<circle cx="204.70" cy="173.22" r="2.0" fill="#f4c8c0" fill-opacity="0.4"/>
<circle cx="194.30" cy="170.20" r="2.0" fill="#f4c8c0" fill-opacity="0.4"/>
<circle cx="196.82" cy="169.15" r="2.0" fill="#f4c8c0" fill-opacity="0.4"/>
<circle cx="191.61" cy="166.40" r="2.0" fill="#f4c8c0" fill-opacity="0.4"/>
<circle cx="197.74" cy="165.42" r="2.0" fill="#f4c8c0" fill-opacity="0.4"/>
<circle cx="204.06" cy="165.44" r="2.0" fill="#f4c8c0" fill-opacity="0.4"/>
<circle cx="201.45" cy="162.53" r="2.0" fill="#f4c8c0" fill-opacity="0.4"/>
<circle cx="207.63" cy="161.99" r="2.0" fill="#f4c8c0" fill-opacity="0.4"/>
<circle cx="190.02" cy="159.36" r="2.0" fill="#f4c8c0" fill-opacity="0.4"/>
<circle cx="196.96" cy="159.73" r="2.0" fill="#f4c8c0" fill-opacity="0.4"/>
<circle cx="201.98" cy="159.31" r="2.0" fill="#f4c8c0" fill-opacity="0.4"/>
<circle cx="203.04" cy="159.92" r="2.0" fill="#f4c8c0" fill-opacity="0.4"/>
<circle cx="208.71" cy="159.61" r="2.0" fill="#f4c8c0" fill-opacity="0.4"/>
<circle cx="192.87" cy="156.12" r="2.0" fill="#f4c8c0" fill-opacity="0.4"/>
<circle cx="195.92" cy="156.65" r="2.0" fill="#f4c8c0" fill-opacity="0.4"/>
<circle cx="204.10" cy="156.14" r="2.0" fill="#f4c8c0" fill-opacity="0.4"/>
<circle cx="196.48" cy="152.73" r="2.0" fill="#f4c8c0" fill-opacity="0.4"/>
<circle cx="199.57" cy="153.02" r="2.0" fill="#f4c8c0" fill-opacity="0.4"/>
<circle cx="189.46" cy="149.40" r="2.0" fill="#f4c8c0" fill-opacity="0.4"/>
<circle cx="201.49" cy="149.15" r="2.0" fill="#f4c8c0" fill-opacity="0.4"/>
<circle cx="207.81" cy="149.00" r="2.0" fill="#f4c8c0" fill-opacity="0.4"/>
<circle cx="188.71" cy="145.42" r="2.0" fill="#f4c8c0" fill-opacity="0.4"/>
<circle cx="197.14" cy="145.94" r="2.0" fill="#f4c8c0" fill-opacity="0.4"/>
<circle cx="201.37" cy="146.04" r="2.0" fill="#f4c8c0" fill-opacity="0.4"/>
<circle cx="204.50" cy="145.37" r="2.0" fill="#f4c8c0" fill-opacity="0.4"/>
<circle cx="207.21" cy="145.24" r="2.0" fill="#f4c8c0" fill-opacity="0.4"/>
<circle cx="190.06" cy="141.84" r="2.0" fill="#f4c8c0" fill-opacity="0.4"/>
<circle cx="196.13" cy="142.57" r="2.0" fill="#f4c8c0" fill-opacity="0.4"/>
<circle cx="202.79" cy="142.42" r="2.0" fill="#f4c8c0" fill-opacity="0.4"/>
<circle cx="206.02" cy="142.65" r="2.0" fill="#f4c8c0" fill-opacity="0.4"/>
<circle cx="189.10" cy="139.05" r="2.0" fill="#f4c8c0" fill-opacity="0.4"/>
<circle cx="196.58" cy="139.61" r="2.0" fill="#f4c8c0" fill-opacity="0.4"/>
<circle cx="200.73" cy="139.08" r="2.0" fill="#f4c8c0" fill-opacity="0.4"/>
<circle cx="206.90" cy="138.62" r="2.0" fill="#f4c8c0" fill-opacity="0.4"/>
<circle cx="204.35" cy="135.50" r="2.0" fill="#f4c8c0" fill-opacity="0.4"/>
<circle cx="208.93" cy="135.38" r="2.0" fill="#f4c8c0" fill-opacity="0.4"/>
<circle cx="190.31" cy="131.73" r="2.0" fill="#f4c8c0" fill-opacity="0.4"/>
<circle cx="192.66" cy="133.43" r="2.0" fill="#f4c8c0" fill-opacity="0.4"/>
<circle cx="196.14" cy="131.34" r="2.0" fill="#f4c8c0" fill-opacity="0.4"/>
<circle cx="203.50" cy="131.65" r="2.0" fill="#f4c8c0" fill-opacity="0.4"/>
<circle cx="207.80" cy="132.85" r="2.0" fill="#f4c8c0" fill-opacity="0.4"/>
<circle cx="195.71" cy="128.23" r="2.0" fill="#f4c8c0" fill-opacity="0.4"/>
<circle cx="204.10" cy="128.56" r="2.0" fill="#f4c8c0" fill-opacity="0.4"/>
<circle cx="208.16" cy="128.70" r="2.0" fill="#f4c8c0" fill-opacity="0.4"/>
<circle cx="191.77" cy="125.61" r="2.0" fill="#f4c8c0" fill-opacity="0.4"/>
<circle cx="194.09" cy="126.08" r="2.0" fill="#f4c8c0" fill-opacity="0.4"/>
<circle cx="201.91" cy="125.78" r="2.0" fill="#f4c8c0" fill-opacity="0.4"/>
<circle cx="210.43" cy="125.04" r="2.0" fill="#f4c8c0" fill-opacity="0.4"/>
<circle cx="189.57" cy="122.05" r="2.0" fill="#f4c8c0" fill-opacity="0.4"/>
<circle cx="197.48" cy="122.12" r="2.0" fill="#f4c8c0" fill-opacity="0.4"/>
<circle cx="199.70" cy="121.67" r="2.0" fill="#f4c8c0" fill-opacity="0.4"/>
<circle cx="204.76" cy="121.84" r="2.0" fill="#f4c8c0" fill-opacity="0.4"/>
<circle cx="187.00" cy="118.26" r="2.0" fill="#f4c8c0" fill-opacity="0.4"/>
<circle cx="191.65" cy="117.51" r="2.0" fill="#f4c8c0" fill-opacity="0.4"/>
<circle cx="195.13" cy="118.44" r="2.0" fill="#f4c8c0" fill-opacity="0.4"/>
<circle cx="198.29" cy="119.22" r="2.0" fill="#f4c8c0" fill-opacity="0.4"/>
<circle cx="202.93" cy="118.96" r="2.0" fill="#f4c8c0" fill-opacity="0.4"/>
<circle cx="206.43" cy="118.40" r="2.0" fill="#f4c8c0" fill-opacity="0.4"/>
<circle cx="186.41" cy="115.02" r="2.0" fill="#f4c8c0" fill-opacity="0.4"/>
<circle cx="188.60" cy="116.01" r="2.0" fill="#f4c8c0" fill-opacity="0.4"/>
<circle cx="196.33" cy="114.51" r="2.0" fill="#f4c8c0" fill-opacity="0.4"/>
<circle cx="212.23" cy="114.77" r="2.0" fill="#f4c8c0" fill-opacity="0.4"/>
<circle cx="201.66" cy="111.94" r="2.0" fill="#f4c8c0" fill-opacity="0.4"/>
<circle cx="205.19" cy="111.71" r="2.0" fill="#f4c8c0" fill-opacity="0.4"/>
<circle cx="208.50" cy="112.15" r="2.0" fill="#f4c8c0" fill-opacity="0.4"/>
<circle cx="211.19" cy="111.82" r="2.0" fill="#f4c8c0" fill-opacity="0.4"/>
<circle cx="187.93" cy="108.44" r="2.0" fill="#f4c8c0" fill-opacity="0.4"/>
<circle cx="192.73" cy="108.38" r="2.0" fill="#f4c8c0" fill-opacity="0.4"/>
<circle cx="200.70" cy="107.76" r="2.0" fill="#f4c8c0" fill-opacity="0.4"/>
<circle cx="203.80" cy="108.58" r="2.0" fill="#f4c8c0" fill-opacity="0.4"/>
<circle cx="211.27" cy="108.12" r="2.0" fill="#f4c8c0" fill-opacity="0.4"/>
<circle cx="183.40" cy="104.99" r="2.0" fill="#f4c8c0" fill-opacity="0.4"/>
<circle cx="199.10" cy="105.72" r="2.0" fill="#f4c8c0" fill-opacity="0.4"/>
<circle cx="210.95" cy="104.79" r="2.0" fill="#f4c8c0" fill-opacity="0.4"/>
<circle cx="185.48" cy="101.20" r="2.0" fill="#f4c8c0" fill-opacity="0.4"/>
<circle cx="189.09" cy="101.53" r="2.0" fill="#f4c8c0" fill-opacity="0.4"/>
<circle cx="197.02" cy="101.35" r="2.0" fill="#f4c8c0" fill-opacity="0.4"/>
<circle cx="201.48" cy="102.24" r="2.0" fill="#f4c8c0" fill-opacity="0.4"/>
<circle cx="204.67" cy="100.91" r="2.0" fill="#f4c8c0" fill-opacity="0.4"/>
<circle cx="184.97" cy="97.82" r="2.0" fill="#f4c8c0" fill-opacity="0.4"/>
<circle cx="188.03" cy="98.49" r="2.0" fill="#f4c8c0" fill-opacity="0.4"/>
<circle cx="196.99" cy="99.38" r="2.0" fill="#f4c8c0" fill-opacity="0.4"/>
<circle cx="200.31" cy="98.09" r="2.0" fill="#f4c8c0" fill-opacity="0.4"/>
<circle cx="209.14" cy="98.30" r="2.0" fill="#f4c8c0" fill-opacity="0.4"/>
<circle cx="211.12" cy="98.38" r="2.0" fill="#f4c8c0" fill-opacity="0.4"/>
<circle cx="200.84" cy="94.98" r="2.0" fill="#f4c8c0" fill-opacity="0.4"/>
<circle cx="205.64" cy="94.90" r="2.0" fill="#f4c8c0" fill-opacity="0.4"/>
<circle cx="210.10" cy="94.73" r="2.0" fill="#f4c8c0" fill-opacity="0.4"/>
<circle cx="191.95" cy="91.32" r="2.0" fill="#f4c8c0" fill-opacity="0.4"/>
<circle cx="194.23" cy="92.16" r="2.0" fill="#f4c8c0" fill-opacity="0.4"/>
<circle cx="198.24" cy="90.77" r="2.0" fill="#f4c8c0" fill-opacity="0.4"/>
<circle cx="206.22" cy="91.21" r="2.0" fill="#f4c8c0" fill-opacity="0.4"/>
<circle cx="201.09" cy="88.57" r="2.0" fill="#f4c8c0" fill-opacity="0.4"/>
<circle cx="203.77" cy="88.09" r="2.0" fill="#f4c8c0" fill-opacity="0.4"/>
<circle cx="195.00" cy="84.66" r="2.0" fill="#f4c8c0" fill-opacity="0.4"/>
<circle cx="202.87" cy="84.28" r="2.0" fill="#f4c8c0" fill-opacity="0.4"/>
<circle cx="196.46" cy="240.81" r="0.95" fill="#b05a55" fill-opacity="0.95"/>
<circle cx="201.90" cy="241.51" r="0.95" fill="#b05a55" fill-opacity="0.95"/>
<circle cx="193.73" cy="237.73" r="0.95" fill="#b05a55" fill-opacity="0.95"/>
<circle cx="200.32" cy="237.45" r="0.95" fill="#b05a55" fill-opacity="0.95"/>
<circle cx="191.23" cy="234.45" r="0.95" fill="#b05a55" fill-opacity="0.95"/>
<circle cx="198.03" cy="234.58" r="0.95" fill="#b05a55" fill-opacity="0.95"/>
<circle cx="202.65" cy="234.38" r="0.95" fill="#b05a55" fill-opacity="0.95"/>
<circle cx="206.69" cy="235.13" r="0.95" fill="#b05a55" fill-opacity="0.95"/>
<circle cx="192.02" cy="231.18" r="0.95" fill="#b05a55" fill-opacity="0.95"/>
<circle cx="185.62" cy="227.79" r="0.95" fill="#b05a55" fill-opacity="0.95"/>
<circle cx="193.33" cy="228.21" r="0.95" fill="#b05a55" fill-opacity="0.95"/>
<circle cx="200.13" cy="227.84" r="0.95" fill="#b05a55" fill-opacity="0.95"/>
<circle cx="205.24" cy="226.56" r="0.95" fill="#b05a55" fill-opacity="0.95"/>
<circle cx="208.73" cy="226.76" r="0.95" fill="#b05a55" fill-opacity="0.95"/>
<circle cx="190.20" cy="225.07" r="0.95" fill="#b05a55" fill-opacity="0.95"/>
<circle cx="196.27" cy="224.29" r="0.95" fill="#b05a55" fill-opacity="0.95"/>
<circle cx="200.42" cy="223.95" r="0.95" fill="#b05a55" fill-opacity="0.95"/>
<circle cx="206.80" cy="222.90" r="0.95" fill="#b05a55" fill-opacity="0.95"/>
<circle cx="183.18" cy="220.60" r="0.95" fill="#b05a55" fill-opacity="0.95"/>
<circle cx="186.11" cy="220.57" r="0.95" fill="#b05a55" fill-opacity="0.95"/>
<circle cx="194.48" cy="220.76" r="0.95" fill="#b05a55" fill-opacity="0.95"/>
<circle cx="196.64" cy="220.29" r="0.95" fill="#b05a55" fill-opacity="0.95"/>
<circle cx="203.68" cy="220.54" r="0.95" fill="#b05a55" fill-opacity="0.95"/>
<circle cx="212.51" cy="221.11" r="0.95" fill="#b05a55" fill-opacity="0.95"/>
<circle cx="216.42" cy="220.30" r="0.95" fill="#b05a55" fill-opacity="0.95"/>
<circle cx="181.42" cy="217.10" r="0.95" fill="#b05a55" fill-opacity="0.95"/>
<circle cx="185.42" cy="216.88" r="0.95" fill="#b05a55" fill-opacity="0.95"/>
<circle cx="188.83" cy="216.49" r="0.95" fill="#b05a55" fill-opacity="0.95"/>
<circle cx="193.45" cy="217.61" r="0.95" fill="#b05a55" fill-opacity="0.95"/>
<circle cx="198.69" cy="217.34" r="0.95" fill="#b05a55" fill-opacity="0.95"/>
<circle cx="203.46" cy="217.64" r="0.95" fill="#b05a55" fill-opacity="0.95"/>
<circle cx="185.02" cy="214.56" r="0.95" fill="#b05a55" fill-opacity="0.95"/>
<circle cx="189.48" cy="213.46" r="0.95" fill="#b05a55" fill-opacity="0.95"/>
<circle cx="193.03" cy="214.13" r="0.95" fill="#b05a55" fill-opacity="0.95"/>
<circle cx="200.14" cy="213.56" r="0.95" fill="#b05a55" fill-opacity="0.95"/>
<circle cx="209.04" cy="213.53" r="0.95" fill="#b05a55" fill-opacity="0.95"/>
<circle cx="216.34" cy="213.44" r="0.95" fill="#b05a55" fill-opacity="0.95"/>
<circle cx="181.72" cy="211.33" r="0.95" fill="#b05a55" fill-opacity="0.95"/>
<circle cx="186.13" cy="209.98" r="0.95" fill="#b05a55" fill-opacity="0.95"/>
<circle cx="189.60" cy="210.23" r="0.95" fill="#b05a55" fill-opacity="0.95"/>
<circle cx="197.35" cy="210.00" r="0.95" fill="#b05a55" fill-opacity="0.95"/>
<circle cx="200.33" cy="210.89" r="0.95" fill="#b05a55" fill-opacity="0.95"/>
<circle cx="207.28" cy="210.18" r="0.95" fill="#b05a55" fill-opacity="0.95"/>
<circle cx="188.09" cy="206.96" r="0.95" fill="#b05a55" fill-opacity="0.95"/>
<circle cx="190.70" cy="206.91" r="0.95" fill="#b05a55" fill-opacity="0.95"/>
<circle cx="202.21" cy="207.43" r="0.95" fill="#b05a55" fill-opacity="0.95"/>
<circle cx="206.27" cy="206.55" r="0.95" fill="#b05a55" fill-opacity="0.95"/>
<circle cx="210.06" cy="206.60" r="0.95" fill="#b05a55" fill-opacity="0.95"/>
<circle cx="213.88" cy="206.11" r="0.95" fill="#b05a55" fill-opacity="0.95"/>
<circle cx="190.30" cy="203.96" r="0.95" fill="#b05a55" fill-opacity="0.95"/>
<circle cx="200.37" cy="204.29" r="0.95" fill="#b05a55" fill-opacity="0.95"/>
<circle cx="208.38" cy="202.69" r="0.95" fill="#b05a55" fill-opacity="0.95"/>
<circle cx="212.30" cy="203.52" r="0.95" fill="#b05a55" fill-opacity="0.95"/>
<circle cx="190.92" cy="200.29" r="0.95" fill="#b05a55" fill-opacity="0.95"/>
<circle cx="194.23" cy="199.35" r="0.95" fill="#b05a55" fill-opacity="0.95"/>
<circle cx="196.41" cy="200.62" r="0.95" fill="#b05a55" fill-opacity="0.95"/>
<circle cx="204.48" cy="199.42" r="0.95" fill="#b05a55" fill-opacity="0.95"/>
<circle cx="207.71" cy="200.78" r="0.95" fill="#b05a55" fill-opacity="0.95"/>
<circle cx="211.70" cy="200.09" r="0.95" fill="#b05a55" fill-opacity="0.95"/>
<circle cx="193.36" cy="196.36" r="0.95" fill="#b05a55" fill-opacity="0.95"/>
<circle cx="197.87" cy="196.21" r="0.95" fill="#b05a55" fill-opacity="0.95"/>
<circle cx="203.88" cy="195.94" r="0.95" fill="#b05a55" fill-opacity="0.95"/>
<circle cx="208.37" cy="196.53" r="0.95" fill="#b05a55" fill-opacity="0.95"/>
<circle cx="190.29" cy="193.14" r="0.95" fill="#b05a55" fill-opacity="0.95"/>
<circle cx="195.28" cy="194.36" r="0.95" fill="#b05a55" fill-opacity="0.95"/>
<circle cx="197.29" cy="193.83" r="0.95" fill="#b05a55" fill-opacity="0.95"/>
<circle cx="208.03" cy="193.06" r="0.95" fill="#b05a55" fill-opacity="0.95"/>
<circle cx="197.24" cy="190.04" r="0.95" fill="#b05a55" fill-opacity="0.95"/>
<circle cx="201.18" cy="189.62" r="0.95" fill="#b05a55" fill-opacity="0.95"/>
<circle cx="207.70" cy="190.34" r="0.95" fill="#b05a55" fill-opacity="0.95"/>
<circle cx="191.78" cy="186.07" r="0.95" fill="#b05a55" fill-opacity="0.95"/>
<circle cx="194.43" cy="186.04" r="0.95" fill="#b05a55" fill-opacity="0.95"/>
<circle cx="201.83" cy="186.26" r="0.95" fill="#b05a55" fill-opacity="0.95"/>
<circle cx="193.48" cy="182.62" r="0.95" fill="#b05a55" fill-opacity="0.95"/>
<circle cx="196.08" cy="182.98" r="0.95" fill="#b05a55" fill-opacity="0.95"/>
<circle cx="203.53" cy="182.89" r="0.95" fill="#b05a55" fill-opacity="0.95"/>
<circle cx="193.20" cy="180.49" r="0.95" fill="#b05a55" fill-opacity="0.95"/>
<circle cx="196.66" cy="180.13" r="0.95" fill="#b05a55" fill-opacity="0.95"/>
<circle cx="204.66" cy="179.19" r="0.95" fill="#b05a55" fill-opacity="0.95"/>
<circle cx="194.84" cy="176.06" r="0.95" fill="#b05a55" fill-opacity="0.95"/>
<circle cx="199.10" cy="175.92" r="0.95" fill="#b05a55" fill-opacity="0.95"/>
<circle cx="204.63" cy="176.54" r="0.95" fill="#b05a55" fill-opacity="0.95"/>
<circle cx="192.85" cy="173.52" r="0.95" fill="#b05a55" fill-opacity="0.95"/>
<circle cx="197.05" cy="172.48" r="0.95" fill="#b05a55" fill-opacity="0.95"/>
<circle cx="199.97" cy="173.34" r="0.95" fill="#b05a55" fill-opacity="0.95"/>
<circle cx="204.70" cy="173.22" r="0.95" fill="#b05a55" fill-opacity="0.95"/>
<circle cx="194.30" cy="170.20" r="0.95" fill="#b05a55" fill-opacity="0.95"/>
<circle cx="196.82" cy="169.15" r="0.95" fill="#b05a55" fill-opacity="0.95"/>
<circle cx="191.61" cy="166.40" r="0.95" fill="#b05a55" fill-opacity="0.95"/>
<circle cx="197.74" cy="165.42" r="0.95" fill="#b05a55" fill-opacity="0.95"/>
<circle cx="204.06" cy="165.44" r="0.95" fill="#b05a55" fill-opacity="0.95"/>
<circle cx="201.45" cy="162.53" r="0.95" fill="#b05a55" fill-opacity="0.95"/>
<circle cx="207.63" cy="161.99" r="0.95" fill="#b05a55" fill-opacity="0.95"/>
<circle cx="190.02" cy="159.36" r="0.95" fill="#b05a55" fill-opacity="0.95"/>
<circle cx="196.96" cy="159.73" r="0.95" fill="#b05a55" fill-opacity="0.95"/>
<circle cx="201.98" cy="159.31" r="0.95" fill="#b05a55" fill-opacity="0.95"/>
<circle cx="203.04" cy="159.92" r="0.95" fill="#b05a55" fill-opacity="0.95"/>
<circle cx="208.71" cy="159.61" r="0.95" fill="#b05a55" fill-opacity="0.95"/>
<circle cx="192.87" cy="156.12" r="0.95" fill="#b05a55" fill-opacity="0.95"/>
<circle cx="195.92" cy="156.65" r="0.95" fill="#b05a55" fill-opacity="0.95"/>
<circle cx="204.10" cy="156.14" r="0.95" fill="#b05a55" fill-opacity="0.95"/>
<circle cx="196.48" cy="152.73" r="0.95" fill="#b05a55" fill-opacity="0.95"/>
<circle cx="199.57" cy="153.02" r="0.95" fill="#b05a55" fill-opacity="0.95"/>
<circle cx="189.46" cy="149.40" r="0.95" fill="#b05a55" fill-opacity="0.95"/>
<circle cx="201.49" cy="149.15" r="0.95" fill="#b05a55" fill-opacity="0.95"/>
<circle cx="207.81" cy="149.00" r="0.95" fill="#b05a55" fill-opacity="0.95"/>
<circle cx="188.71" cy="145.42" r="0.95" fill="#b05a55" fill-opacity="0.95"/>
<circle cx="197.14" cy="145.94" r="0.95" fill="#b05a55" fill-opacity="0.95"/>
<circle cx="201.37" cy="146.04" r="0.95" fill="#b05a55" fill-opacity="0.95"/>
<circle cx="204.50" cy="145.37" r="0.95" fill="#b05a55" fill-opacity="0.95"/>
<circle cx="207.21" cy="145.24" r="0.95" fill="#b05a55" fill-opacity="0.95"/>
<circle cx="190.06" cy="141.84" r="0.95" fill="#b05a55" fill-opacity="0.95"/>
<circle cx="196.13" cy="142.57" r="0.95" fill="#b05a55" fill-opacity="0.95"/>
<circle cx="202.79" cy="142.42" r="0.95" fill="#b05a55" fill-opacity="0.95"/>
<circle cx="206.02" cy="142.65" r="0.95" fill="#b05a55" fill-opacity="0.95"/>
<circle cx="189.10" cy="139.05" r="0.95" fill="#b05a55" fill-opacity="0.95"/>
<circle cx="196.58" cy="139.61" r="0.95" fill="#b05a55" fill-opacity="0.95"/>
<circle cx="200.73" cy="139.08" r="0.95" fill="#b05a55" fill-opacity="0.95"/>
<circle cx="206.90" cy="138.62" r="0.95" fill="#b05a55" fill-opacity="0.95"/>
<circle cx="204.35" cy="135.50" r="0.95" fill="#b05a55" fill-opacity="0.95"/>
<circle cx="208.93" cy="135.38" r="0.95" fill="#b05a55" fill-opacity="0.95"/>
<circle cx="190.31" cy="131.73" r="0.95" fill="#b05a55" fill-opacity="0.95"/>
<circle cx="192.66" cy="133.43" r="0.95" fill="#b05a55" fill-opacity="0.95"/>
<circle cx="196.14" cy="131.34" r="0.95" fill="#b05a55" fill-opacity="0.95"/>
<circle cx="203.50" cy="131.65" r="0.95" fill="#b05a55" fill-opacity="0.95"/>
<circle cx="207.80" cy="132.85" r="0.95" fill="#b05a55" fill-opacity="0.95"/>
<circle cx="195.71" cy="128.23" r="0.95" fill="#b05a55" fill-opacity="0.95"/>
<circle cx="204.10" cy="128.56" r="0.95" fill="#b05a55" fill-opacity="0.95"/>
<circle cx="208.16" cy="128.70" r="0.95" fill="#b05a55" fill-opacity="0.95"/>
<circle cx="191.77" cy="125.61" r="0.95" fill="#b05a55" fill-opacity="0.95"/>
<circle cx="194.09" cy="126.08" r="0.95" fill="#b05a55" fill-opacity="0.95"/>
<circle cx="201.91" cy="125.78" r="0.95" fill="#b05a55" fill-opacity="0.95"/>
<circle cx="210.43" cy="125.04" r="0.95" fill="#b05a55" fill-opacity="0.95"/>
<circle cx="189.57" cy="122.05" r="0.95" fill="#b05a55" fill-opacity="0.95"/>
<circle cx="197.48" cy="122.12" r="0.95" fill="#b05a55" fill-opacity="0.95"/>
<circle cx="199.70" cy="121.67" r="0.95" fill="#b05a55" fill-opacity="0.95"/>
<circle cx="204.76" cy="121.84" r="0.95" fill="#b05a55" fill-opacity="0.95"/>
<circle cx="187.00" cy="118.26" r="0.95" fill="#b05a55" fill-opacity="0.95"/>
<circle cx="191.65" cy="117.51" r="0.95" fill="#b05a55" fill-opacity="0.95"/>
<circle cx="195.13" cy="118.44" r="0.95" fill="#b05a55" fill-opacity="0.95"/>
<circle cx="198.29" cy="119.22" r="0.95" fill="#b05a55" fill-opacity="0.95"/>
<circle cx="202.93" cy="118.96" r="0.95" fill="#b05a55" fill-opacity="0.95"/>
<circle cx="206.43" cy="118.40" r="0.95" fill="#b05a55" fill-opacity="0.95"/>
<circle cx="186.41" cy="115.02" r="0.95" fill="#b05a55" fill-opacity="0.95"/>
<circle cx="188.60" cy="116.01" r="0.95" fill="#b05a55" fill-opacity="0.95"/>
<circle cx="196.33" cy="114.51" r="0.95" fill="#b05a55" fill-opacity="0.95"/>
<circle cx="212.23" cy="114.77" r="0.95" fill="#b05a55" fill-opacity="0.95"/>
<circle cx="201.66" cy="111.94" r="0.95" fill="#b05a55" fill-opacity="0.95"/>
<circle cx="205.19" cy="111.71" r="0.95" fill="#b05a55" fill-opacity="0.95"/>
<circle cx="208.50" cy="112.15" r="0.95" fill="#b05a55" fill-opacity="0.95"/>
<circle cx="211.19" cy="111.82" r="0.95" fill="#b05a55" fill-opacity="0.95"/>
<circle cx="187.93" cy="108.44" r="0.95" fill="#b05a55" fill-opacity="0.95"/>
<circle cx="192.73" cy="108.38" r="0.95" fill="#b05a55" fill-opacity="0.95"/>
<circle cx="200.70" cy="107.76" r="0.95" fill="#b05a55" fill-opacity="0.95"/>
<circle cx="203.80" cy="108.58" r="0.95" fill="#b05a55" fill-opacity="0.95"/>
<circle cx="211.27" cy="108.12" r="0.95" fill="#b05a55" fill-opacity="0.95"/>
<circle cx="183.40" cy="104.99" r="0.95" fill="#b05a55" fill-opacity="0.95"/>
<circle cx="199.10" cy="105.72" r="0.95" fill="#b05a55" fill-opacity="0.95"/>
<circle cx="210.95" cy="104.79" r="0.95" fill="#b05a55" fill-opacity="0.95"/>
<circle cx="185.48" cy="101.20" r="0.95" fill="#b05a55" fill-opacity="0.95"/>
<circle cx="189.09" cy="101.53" r="0.95" fill="#b05a55" fill-opacity="0.95"/>
<circle cx="197.02" cy="101.35" r="0.95" fill="#b05a55" fill-opacity="0.95"/>
<circle cx="201.48" cy="102.24" r="0.95" fill="#b05a55" fill-opacity="0.95"/>
<circle cx="204.67" cy="100.91" r="0.95" fill="#b05a55" fill-opacity="0.95"/>
<circle cx="184.97" cy="97.82" r="0.95" fill="#b05a55" fill-opacity="0.95"/>
<circle cx="188.03" cy="98.49" r="0.95" fill="#b05a55" fill-opacity="0.95"/>
<circle cx="196.99" cy="99.38" r="0.95" fill="#b05a55" fill-opacity="0.95"/>
<circle cx="200.31" cy="98.09" r="0.95" fill="#b05a55" fill-opacity="0.95"/>
<circle cx="209.14" cy="98.30" r="0.95" fill="#b05a55" fill-opacity="0.95"/>
<circle cx="211.12" cy="98.38" r="0.95" fill="#b05a55" fill-opacity="0.95"/>
<circle cx="200.84" cy="94.98" r="0.95" fill="#b05a55" fill-opacity="0.95"/>
<circle cx="205.64" cy="94.90" r="0.95" fill="#b05a55" fill-opacity="0.95"/>
<circle cx="210.10" cy="94.73" r="0.95" fill="#b05a55" fill-opacity="0.95"/>
<circle cx="191.95" cy="91.32" r="0.95" fill="#b05a55" fill-opacity="0.95"/>
<circle cx="194.23" cy="92.16" r="0.95" fill="#b05a55" fill-opacity="0.95"/>
<circle cx="198.24" cy="90.77" r="0.95" fill="#b05a55" fill-opacity="0.95"/>
<circle cx="206.22" cy="91.21" r="0.95" fill="#b05a55" fill-opacity="0.95"/>
<circle cx="201.09" cy="88.57" r="0.95" fill="#b05a55" fill-opacity="0.95"/>
<circle cx="203.77" cy="88.09" r="0.95" fill="#b05a55" fill-opacity="0.95"/>
<circle cx="195.00" cy="84.66" r="0.95" fill="#b05a55" fill-opacity="0.95"/>
<circle cx="202.87" cy="84.28" r="0.95" fill="#b05a55" fill-opacity="0.95"/>
<rect x="88.00" y="179.94" width="37.00" height="44.22" fill="none" stroke="#1a1a1a" stroke-width="1.05"/>
<line x1="88.00" y1="206.92" x2="125.00" y2="206.92" stroke="#111" stroke-width="1.5" stroke-linecap="butt"/>
<rect x="180.20" y="117.32" width="37.50" height="89.25" fill="none" stroke="#1a1a1a" stroke-width="1.05"/>
<line x1="180.20" y1="158.89" x2="217.70" y2="158.89" stroke="#111" stroke-width="1.5" stroke-linecap="butt"/>
<text x="274.00" y="17.30" font-size="10.5" text-anchor="middle" fill="#111" stroke="#111" stroke-width="0.22" font-weight="bold">B</text>
<line x1="319.00" y1="22.60" x2="319.00" y2="242.85" stroke="#262626" stroke-width="1.3" stroke-linecap="butt"/>
<line x1="318.35" y1="242.20" x2="513.40" y2="242.20" stroke="#262626" stroke-width="1.3" stroke-linecap="butt"/>
<line x1="315.80" y1="205.60" x2="319.00" y2="205.60" stroke="#262626" stroke-width="1.1" stroke-linecap="butt"/>
<text x="0" y="0" transform="translate(312.70,208.10) rotate(0) scale(0.9,1)" font-size="8.9" text-anchor="end" fill="#262626" stroke="#262626" stroke-width="0.15" font-weight="normal">500</text>
<line x1="315.80" y1="162.60" x2="319.00" y2="162.60" stroke="#262626" stroke-width="1.1" stroke-linecap="butt"/>
<text x="0" y="0" transform="translate(312.70,165.10) rotate(0) scale(0.9,1)" font-size="8.9" text-anchor="end" fill="#262626" stroke="#262626" stroke-width="0.15" font-weight="normal">1000</text>
<line x1="315.80" y1="119.60" x2="319.00" y2="119.60" stroke="#262626" stroke-width="1.1" stroke-linecap="butt"/>
<text x="0" y="0" transform="translate(312.70,122.10) rotate(0) scale(0.9,1)" font-size="8.9" text-anchor="end" fill="#262626" stroke="#262626" stroke-width="0.15" font-weight="normal">1500</text>
<line x1="315.80" y1="76.60" x2="319.00" y2="76.60" stroke="#262626" stroke-width="1.1" stroke-linecap="butt"/>
<text x="0" y="0" transform="translate(312.70,79.10) rotate(0) scale(0.9,1)" font-size="8.9" text-anchor="end" fill="#262626" stroke="#262626" stroke-width="0.15" font-weight="normal">2000</text>
<line x1="315.80" y1="33.60" x2="319.00" y2="33.60" stroke="#262626" stroke-width="1.1" stroke-linecap="butt"/>
<text x="0" y="0" transform="translate(312.70,36.10) rotate(0) scale(0.9,1)" font-size="8.9" text-anchor="end" fill="#262626" stroke="#262626" stroke-width="0.15" font-weight="normal">2500</text>
<line x1="317.00" y1="227.10" x2="319.00" y2="227.10" stroke="#262626" stroke-width="0.9" stroke-linecap="butt"/>
<line x1="317.00" y1="184.10" x2="319.00" y2="184.10" stroke="#262626" stroke-width="0.9" stroke-linecap="butt"/>
<line x1="317.00" y1="141.10" x2="319.00" y2="141.10" stroke="#262626" stroke-width="0.9" stroke-linecap="butt"/>
<line x1="317.00" y1="98.10" x2="319.00" y2="98.10" stroke="#262626" stroke-width="0.9" stroke-linecap="butt"/>
<line x1="317.00" y1="55.10" x2="319.00" y2="55.10" stroke="#262626" stroke-width="0.9" stroke-linecap="butt"/>
<line x1="319.00" y1="242.20" x2="319.00" y2="245.20" stroke="#262626" stroke-width="1.0" stroke-linecap="butt"/>
<text x="0" y="0" transform="translate(319.00,255.80) rotate(0) scale(0.9,1)" font-size="8.9" text-anchor="middle" fill="#262626" stroke="#262626" stroke-width="0.15" font-weight="normal">0</text>
<line x1="359.85" y1="242.20" x2="359.85" y2="245.20" stroke="#262626" stroke-width="1.0" stroke-linecap="butt"/>
<text x="0" y="0" transform="translate(359.85,255.80) rotate(0) scale(0.9,1)" font-size="8.9" text-anchor="middle" fill="#262626" stroke="#262626" stroke-width="0.15" font-weight="normal">5</text>
<line x1="400.70" y1="242.20" x2="400.70" y2="245.20" stroke="#262626" stroke-width="1.0" stroke-linecap="butt"/>
<text x="0" y="0" transform="translate(400.70,255.80) rotate(0) scale(0.9,1)" font-size="8.9" text-anchor="middle" fill="#262626" stroke="#262626" stroke-width="0.15" font-weight="normal">10</text>
<line x1="441.55" y1="242.20" x2="441.55" y2="245.20" stroke="#262626" stroke-width="1.0" stroke-linecap="butt"/>
<text x="0" y="0" transform="translate(441.55,255.80) rotate(0) scale(0.9,1)" font-size="8.9" text-anchor="middle" fill="#262626" stroke="#262626" stroke-width="0.15" font-weight="normal">15</text>
<line x1="482.40" y1="242.20" x2="482.40" y2="245.20" stroke="#262626" stroke-width="1.0" stroke-linecap="butt"/>
<text x="0" y="0" transform="translate(482.40,255.80) rotate(0) scale(0.9,1)" font-size="8.9" text-anchor="middle" fill="#262626" stroke="#262626" stroke-width="0.15" font-weight="normal">20</text>
<line x1="339.43" y1="242.20" x2="339.43" y2="244.20" stroke="#262626" stroke-width="0.9" stroke-linecap="butt"/>
<line x1="380.27" y1="242.20" x2="380.27" y2="244.20" stroke="#262626" stroke-width="0.9" stroke-linecap="butt"/>
<line x1="421.12" y1="242.20" x2="421.12" y2="244.20" stroke="#262626" stroke-width="0.9" stroke-linecap="butt"/>
<line x1="461.98" y1="242.20" x2="461.98" y2="244.20" stroke="#262626" stroke-width="0.9" stroke-linecap="butt"/>
<line x1="502.82" y1="242.20" x2="502.82" y2="244.20" stroke="#262626" stroke-width="0.9" stroke-linecap="butt"/>
<text x="0" y="0" transform="translate(288.20,132.20) rotate(-90) scale(0.72,1)" font-size="8.8" text-anchor="middle" fill="#262626" stroke="#262626" stroke-width="0.4" font-weight="normal">IgG value</text>
<text x="0" y="0" transform="translate(416.30,268.50) rotate(0) scale(0.727,1)" font-size="8.8" text-anchor="middle" fill="#262626" stroke="#262626" stroke-width="0.4" font-weight="normal">Age at diagnosis</text>
<circle cx="434.90" cy="158.10" r="1.3" fill="#56608a" fill-opacity="0.92"/>
<circle cx="326.90" cy="137.80" r="1.3" fill="#56608a" fill-opacity="0.92"/>
<circle cx="503.60" cy="225.70" r="1.3" fill="#b66868" fill-opacity="0.92"/>
<circle cx="368.30" cy="153.00" r="1.3" fill="#56608a" fill-opacity="0.92"/>
<circle cx="352.04" cy="183.47" r="1.3" fill="#56608a" fill-opacity="0.92"/>
<circle cx="364.40" cy="117.30" r="1.3" fill="#b66868" fill-opacity="0.92"/>
<circle cx="392.30" cy="168.60" r="1.3" fill="#56608a" fill-opacity="0.92"/>
<circle cx="343.05" cy="155.12" r="1.3" fill="#56608a" fill-opacity="0.92"/>
<circle cx="391.20" cy="171.80" r="1.3" fill="#56608a" fill-opacity="0.92"/>
<circle cx="458.10" cy="161.90" r="1.3" fill="#56608a" fill-opacity="0.92"/>
<circle cx="413.40" cy="148.50" r="1.3" fill="#56608a" fill-opacity="0.92"/>
<circle cx="339.40" cy="143.60" r="1.3" fill="#56608a" fill-opacity="0.92"/>
<circle cx="446.10" cy="136.90" r="1.3" fill="#56608a" fill-opacity="0.92"/>
<circle cx="362.00" cy="208.60" r="1.3" fill="#56608a" fill-opacity="0.92"/>
<circle cx="346.00" cy="132.10" r="1.3" fill="#56608a" fill-opacity="0.92"/>
<circle cx="327.50" cy="195.90" r="1.3" fill="#56608a" fill-opacity="0.92"/>
<circle cx="417.17" cy="158.80" r="1.3" fill="#56608a" fill-opacity="0.92"/>
<circle cx="337.30" cy="152.00" r="1.3" fill="#56608a" fill-opacity="0.92"/>
<circle cx="359.90" cy="161.90" r="1.3" fill="#56608a" fill-opacity="0.92"/>
<circle cx="413.40" cy="176.00" r="1.3" fill="#56608a" fill-opacity="0.92"/>
<circle cx="328.37" cy="190.30" r="1.3" fill="#b66868" fill-opacity="0.92"/>
<circle cx="360.90" cy="148.80" r="1.3" fill="#56608a" fill-opacity="0.92"/>
<circle cx="338.25" cy="171.39" r="1.3" fill="#56608a" fill-opacity="0.92"/>
<circle cx="446.50" cy="132.70" r="1.3" fill="#56608a" fill-opacity="0.92"/>
<circle cx="393.36" cy="164.36" r="1.3" fill="#56608a" fill-opacity="0.92"/>
<circle cx="348.42" cy="179.38" r="1.3" fill="#56608a" fill-opacity="0.92"/>
<circle cx="362.20" cy="190.00" r="1.3" fill="#56608a" fill-opacity="0.92"/>
<circle cx="322.99" cy="199.68" r="1.3" fill="#56608a" fill-opacity="0.92"/>
<circle cx="459.94" cy="121.48" r="1.3" fill="#b66868" fill-opacity="0.92"/>
<circle cx="353.10" cy="195.30" r="1.3" fill="#b66868" fill-opacity="0.92"/>
<circle cx="321.70" cy="207.60" r="1.3" fill="#b66868" fill-opacity="0.92"/>
<circle cx="330.70" cy="201.70" r="1.3" fill="#56608a" fill-opacity="0.92"/>
<circle cx="374.90" cy="192.90" r="1.3" fill="#56608a" fill-opacity="0.92"/>
<circle cx="380.60" cy="187.70" r="1.3" fill="#b66868" fill-opacity="0.92"/>
<circle cx="319.50" cy="76.70" r="1.3" fill="#b66868" fill-opacity="0.92"/>
<circle cx="399.70" cy="148.50" r="1.3" fill="#b66868" fill-opacity="0.92"/>
<circle cx="403.60" cy="175.45" r="1.3" fill="#b66868" fill-opacity="0.92"/>
<circle cx="452.80" cy="179.20" r="1.3" fill="#56608a" fill-opacity="0.92"/>
<circle cx="338.90" cy="157.20" r="1.3" fill="#b66868" fill-opacity="0.92"/>
<circle cx="351.00" cy="199.10" r="1.3" fill="#56608a" fill-opacity="0.92"/>
<circle cx="395.40" cy="160.20" r="1.3" fill="#b66868" fill-opacity="0.92"/>
<circle cx="337.75" cy="181.75" r="1.3" fill="#56608a" fill-opacity="0.92"/>
<circle cx="373.20" cy="141.10" r="1.3" fill="#56608a" fill-opacity="0.92"/>
<circle cx="449.70" cy="149.60" r="1.3" fill="#56608a" fill-opacity="0.92"/>
<circle cx="323.30" cy="217.20" r="1.3" fill="#56608a" fill-opacity="0.92"/>
<circle cx="388.50" cy="125.30" r="1.3" fill="#56608a" fill-opacity="0.92"/>
<circle cx="341.40" cy="192.70" r="1.3" fill="#56608a" fill-opacity="0.92"/>
<circle cx="328.60" cy="209.20" r="1.3" fill="#b66868" fill-opacity="0.92"/>
<circle cx="367.40" cy="132.60" r="1.3" fill="#b66868" fill-opacity="0.92"/>
<circle cx="340.50" cy="160.40" r="1.3" fill="#56608a" fill-opacity="0.92"/>
<circle cx="324.30" cy="210.30" r="1.3" fill="#56608a" fill-opacity="0.92"/>
<circle cx="453.90" cy="132.70" r="1.3" fill="#b66868" fill-opacity="0.92"/>
<circle cx="327.62" cy="186.33" r="1.3" fill="#b66868" fill-opacity="0.92"/>
<circle cx="363.00" cy="151.40" r="1.3" fill="#56608a" fill-opacity="0.92"/>
<circle cx="354.20" cy="165.66" r="1.3" fill="#56608a" fill-opacity="0.92"/>
<circle cx="325.40" cy="191.60" r="1.3" fill="#56608a" fill-opacity="0.92"/>
<circle cx="321.10" cy="214.00" r="1.3" fill="#56608a" fill-opacity="0.92"/>
<circle cx="445.00" cy="55.60" r="1.3" fill="#b66868" fill-opacity="0.92"/>
<circle cx="336.10" cy="193.20" r="1.3" fill="#b66868" fill-opacity="0.92"/>
<circle cx="369.00" cy="153.80" r="1.3" fill="#56608a" fill-opacity="0.92"/>
<circle cx="424.55" cy="159.40" r="1.3" fill="#b66868" fill-opacity="0.92"/>
<circle cx="385.90" cy="158.10" r="1.3" fill="#56608a" fill-opacity="0.92"/>
<circle cx="369.00" cy="179.20" r="1.3" fill="#56608a" fill-opacity="0.92"/>
<circle cx="381.70" cy="166.50" r="1.3" fill="#56608a" fill-opacity="0.92"/>
<circle cx="320.10" cy="222.50" r="1.3" fill="#56608a" fill-opacity="0.92"/>
<circle cx="450.70" cy="157.00" r="1.3" fill="#b66868" fill-opacity="0.92"/>
<circle cx="343.10" cy="165.60" r="1.3" fill="#b66868" fill-opacity="0.92"/>
<circle cx="355.70" cy="153.30" r="1.3" fill="#56608a" fill-opacity="0.92"/>
<circle cx="325.56" cy="192.53" r="1.3" fill="#b66868" fill-opacity="0.92"/>
<circle cx="405.83" cy="155.85" r="1.3" fill="#b66868" fill-opacity="0.92"/>
<circle cx="482.50" cy="140.00" r="1.3" fill="#b66868" fill-opacity="0.92"/>
<circle cx="359.92" cy="181.97" r="1.3" fill="#b66868" fill-opacity="0.92"/>
<circle cx="332.90" cy="210.30" r="1.3" fill="#b66868" fill-opacity="0.92"/>
<circle cx="353.10" cy="184.10" r="1.3" fill="#b66868" fill-opacity="0.92"/>
<circle cx="383.80" cy="147.50" r="1.3" fill="#56608a" fill-opacity="0.92"/>
<circle cx="343.50" cy="212.40" r="1.3" fill="#56608a" fill-opacity="0.92"/>
<circle cx="400.70" cy="195.10" r="1.3" fill="#b66868" fill-opacity="0.92"/>
<circle cx="358.30" cy="141.00" r="1.3" fill="#56608a" fill-opacity="0.92"/>
<circle cx="332.90" cy="192.70" r="1.3" fill="#56608a" fill-opacity="0.92"/>
<circle cx="338.13" cy="148.60" r="1.3" fill="#56608a" fill-opacity="0.92"/>
<circle cx="402.80" cy="130.60" r="1.3" fill="#b66868" fill-opacity="0.92"/>
<circle cx="352.50" cy="156.70" r="1.3" fill="#b66868" fill-opacity="0.92"/>
<circle cx="332.26" cy="160.46" r="1.3" fill="#b66868" fill-opacity="0.92"/>
<circle cx="343.00" cy="202.80" r="1.3" fill="#56608a" fill-opacity="0.92"/>
<circle cx="425.30" cy="167.60" r="1.3" fill="#56608a" fill-opacity="0.92"/>
<circle cx="441.70" cy="78.70" r="1.3" fill="#b66868" fill-opacity="0.92"/>
<circle cx="445.40" cy="161.20" r="1.3" fill="#b66868" fill-opacity="0.92"/>
<circle cx="396.50" cy="147.50" r="1.3" fill="#b66868" fill-opacity="0.92"/>
<circle cx="373.20" cy="163.30" r="1.3" fill="#b66868" fill-opacity="0.92"/>
<circle cx="359.50" cy="202.30" r="1.3" fill="#b66868" fill-opacity="0.92"/>
<circle cx="325.00" cy="225.52" r="1.3" fill="#56608a" fill-opacity="0.92"/>
<circle cx="404.90" cy="160.20" r="1.3" fill="#56608a" fill-opacity="0.92"/>
<circle cx="327.91" cy="195.18" r="1.3" fill="#56608a" fill-opacity="0.92"/>
<circle cx="332.90" cy="184.10" r="1.3" fill="#56608a" fill-opacity="0.92"/>
<circle cx="391.20" cy="176.00" r="1.3" fill="#b66868" fill-opacity="0.92"/>
<circle cx="373.20" cy="184.50" r="1.3" fill="#56608a" fill-opacity="0.92"/>
<circle cx="350.83" cy="166.80" r="1.3" fill="#56608a" fill-opacity="0.92"/>
<circle cx="342.10" cy="151.40" r="1.3" fill="#b66868" fill-opacity="0.92"/>
<circle cx="330.70" cy="206.00" r="1.3" fill="#56608a" fill-opacity="0.92"/>
<circle cx="464.50" cy="151.70" r="1.3" fill="#56608a" fill-opacity="0.92"/>
<circle cx="377.50" cy="161.20" r="1.3" fill="#b66868" fill-opacity="0.92"/>
<circle cx="338.20" cy="201.70" r="1.3" fill="#56608a" fill-opacity="0.92"/>
<circle cx="468.70" cy="131.60" r="1.3" fill="#b66868" fill-opacity="0.92"/>
<circle cx="322.45" cy="210.78" r="1.3" fill="#56608a" fill-opacity="0.92"/>
<circle cx="467.60" cy="192.50" r="1.3" fill="#b66868" fill-opacity="0.92"/>
<circle cx="321.74" cy="175.60" r="1.3" fill="#56608a" fill-opacity="0.92"/>
<circle cx="359.80" cy="113.80" r="1.3" fill="#56608a" fill-opacity="0.92"/>
<circle cx="410.20" cy="164.40" r="1.3" fill="#b66868" fill-opacity="0.92"/>
<circle cx="358.80" cy="144.60" r="1.3" fill="#56608a" fill-opacity="0.92"/>
<circle cx="456.00" cy="180.30" r="1.3" fill="#b66868" fill-opacity="0.92"/>
<circle cx="323.30" cy="203.90" r="1.3" fill="#56608a" fill-opacity="0.92"/>
<circle cx="347.52" cy="182.09" r="1.3" fill="#b66868" fill-opacity="0.92"/>
<circle cx="434.90" cy="172.90" r="1.3" fill="#b66868" fill-opacity="0.92"/>
<circle cx="378.50" cy="173.90" r="1.3" fill="#56608a" fill-opacity="0.92"/>
<circle cx="321.10" cy="232.10" r="1.3" fill="#56608a" fill-opacity="0.92"/>
<circle cx="391.80" cy="143.30" r="1.3" fill="#56608a" fill-opacity="0.92"/>
<circle cx="463.40" cy="162.30" r="1.3" fill="#56608a" fill-opacity="0.92"/>
<circle cx="458.40" cy="32.10" r="1.3" fill="#b66868" fill-opacity="0.92"/>
<circle cx="349.40" cy="167.20" r="1.3" fill="#56608a" fill-opacity="0.92"/>
<circle cx="347.30" cy="172.40" r="1.3" fill="#b66868" fill-opacity="0.92"/>
<circle cx="321.10" cy="224.60" r="1.3" fill="#56608a" fill-opacity="0.92"/>
<circle cx="370.70" cy="200.30" r="1.3" fill="#56608a" fill-opacity="0.92"/>
<circle cx="323.30" cy="229.40" r="1.3" fill="#56608a" fill-opacity="0.92"/>
<circle cx="394.40" cy="176.70" r="1.3" fill="#b66868" fill-opacity="0.92"/>
<circle cx="419.00" cy="147.50" r="1.3" fill="#b66868" fill-opacity="0.92"/>
<circle cx="326.50" cy="220.40" r="1.3" fill="#56608a" fill-opacity="0.92"/>
<circle cx="414.50" cy="182.40" r="1.3" fill="#56608a" fill-opacity="0.92"/>
<circle cx="450.32" cy="134.14" r="1.3" fill="#b66868" fill-opacity="0.92"/>
<circle cx="336.10" cy="211.90" r="1.3" fill="#b66868" fill-opacity="0.92"/>
<circle cx="334.70" cy="159.30" r="1.3" fill="#b66868" fill-opacity="0.92"/>
<circle cx="332.64" cy="196.70" r="1.3" fill="#56608a" fill-opacity="0.92"/>
<circle cx="431.39" cy="154.19" r="1.3" fill="#b66868" fill-opacity="0.92"/>
<circle cx="403.69" cy="168.40" r="1.3" fill="#b66868" fill-opacity="0.92"/>
<circle cx="446.50" cy="123.80" r="1.3" fill="#56608a" fill-opacity="0.92"/>
<circle cx="330.93" cy="178.55" r="1.3" fill="#b66868" fill-opacity="0.92"/>
<circle cx="450.70" cy="96.50" r="1.3" fill="#56608a" fill-opacity="0.92"/>
<circle cx="343.05" cy="190.18" r="1.3" fill="#56608a" fill-opacity="0.92"/>
<circle cx="408.10" cy="133.70" r="1.3" fill="#b66868" fill-opacity="0.92"/>
<circle cx="421.10" cy="140.10" r="1.3" fill="#b66868" fill-opacity="0.92"/>
<circle cx="352.00" cy="149.70" r="1.3" fill="#56608a" fill-opacity="0.92"/>
<circle cx="364.80" cy="184.70" r="1.3" fill="#56608a" fill-opacity="0.92"/>
<circle cx="350.40" cy="177.10" r="1.3" fill="#56608a" fill-opacity="0.92"/>
<circle cx="384.90" cy="183.40" r="1.3" fill="#56608a" fill-opacity="0.92"/>
<circle cx="322.20" cy="184.10" r="1.3" fill="#b66868" fill-opacity="0.92"/>
<circle cx="432.10" cy="123.80" r="1.3" fill="#b66868" fill-opacity="0.92"/>
<circle cx="422.20" cy="167.60" r="1.3" fill="#56608a" fill-opacity="0.92"/>
<circle cx="351.00" cy="187.90" r="1.3" fill="#56608a" fill-opacity="0.92"/>
<circle cx="409.71" cy="130.42" r="1.3" fill="#56608a" fill-opacity="0.92"/>
<circle cx="329.37" cy="174.33" r="1.3" fill="#b66868" fill-opacity="0.92"/>
<circle cx="360.90" cy="156.70" r="1.3" fill="#56608a" fill-opacity="0.92"/>
<circle cx="446.50" cy="90.60" r="1.3" fill="#b66868" fill-opacity="0.92"/>
<circle cx="387.60" cy="142.20" r="1.3" fill="#56608a" fill-opacity="0.92"/>
<circle cx="345.37" cy="152.85" r="1.3" fill="#56608a" fill-opacity="0.92"/>
<circle cx="354.60" cy="160.40" r="1.3" fill="#b66868" fill-opacity="0.92"/>
<circle cx="434.90" cy="179.20" r="1.3" fill="#56608a" fill-opacity="0.92"/>
<circle cx="382.70" cy="186.60" r="1.3" fill="#b66868" fill-opacity="0.92"/>
<circle cx="456.00" cy="147.10" r="1.3" fill="#b66868" fill-opacity="0.92"/>
<circle cx="377.50" cy="152.80" r="1.3" fill="#56608a" fill-opacity="0.92"/>
<circle cx="418.74" cy="160.65" r="1.3" fill="#56608a" fill-opacity="0.92"/>
<circle cx="452.80" cy="170.30" r="1.3" fill="#56608a" fill-opacity="0.92"/>
<circle cx="331.80" cy="195.90" r="1.3" fill="#56608a" fill-opacity="0.92"/>
<circle cx="324.15" cy="208.80" r="1.3" fill="#56608a" fill-opacity="0.92"/>
<circle cx="364.10" cy="180.80" r="1.3" fill="#56608a" fill-opacity="0.92"/>
<circle cx="392.46" cy="170.87" r="1.3" fill="#56608a" fill-opacity="0.92"/>
<circle cx="346.70" cy="195.30" r="1.3" fill="#56608a" fill-opacity="0.92"/>
<circle cx="458.10" cy="181.30" r="1.3" fill="#56608a" fill-opacity="0.92"/>
<circle cx="336.17" cy="175.88" r="1.3" fill="#56608a" fill-opacity="0.92"/>
<circle cx="376.10" cy="174.87" r="1.3" fill="#b66868" fill-opacity="0.92"/>
<circle cx="409.20" cy="161.20" r="1.3" fill="#b66868" fill-opacity="0.92"/>
<circle cx="330.70" cy="217.20" r="1.3" fill="#b66868" fill-opacity="0.92"/>
<circle cx="330.40" cy="156.11" r="1.3" fill="#b66868" fill-opacity="0.92"/>
<circle cx="321.96" cy="222.09" r="1.3" fill="#56608a" fill-opacity="0.92"/>
<circle cx="390.10" cy="192.30" r="1.3" fill="#56608a" fill-opacity="0.92"/>
<circle cx="425.30" cy="178.10" r="1.3" fill="#b66868" fill-opacity="0.92"/>
<circle cx="351.00" cy="192.70" r="1.3" fill="#b66868" fill-opacity="0.92"/>
<circle cx="351.00" cy="145.20" r="1.3" fill="#56608a" fill-opacity="0.92"/>
<circle cx="335.50" cy="203.90" r="1.3" fill="#b66868" fill-opacity="0.92"/>
<circle cx="377.50" cy="188.70" r="1.3" fill="#56608a" fill-opacity="0.92"/>
<circle cx="340.00" cy="148.50" r="1.3" fill="#56608a" fill-opacity="0.92"/>
<circle cx="336.10" cy="183.10" r="1.3" fill="#56608a" fill-opacity="0.92"/>
<circle cx="333.77" cy="176.24" r="1.3" fill="#56608a" fill-opacity="0.92"/>
<circle cx="400.70" cy="142.20" r="1.3" fill="#56608a" fill-opacity="0.92"/>
<circle cx="360.51" cy="152.57" r="1.3" fill="#b66868" fill-opacity="0.92"/>
<circle cx="432.70" cy="154.90" r="1.3" fill="#b66868" fill-opacity="0.92"/>
<circle cx="415.50" cy="143.30" r="1.3" fill="#56608a" fill-opacity="0.92"/>
<circle cx="329.44" cy="180.85" r="1.3" fill="#b66868" fill-opacity="0.92"/>
<circle cx="356.70" cy="142.50" r="1.3" fill="#b66868" fill-opacity="0.92"/>
<circle cx="342.50" cy="207.60" r="1.3" fill="#56608a" fill-opacity="0.92"/>
<circle cx="367.50" cy="186.80" r="1.3" fill="#b66868" fill-opacity="0.92"/>
<circle cx="423.20" cy="158.10" r="1.3" fill="#56608a" fill-opacity="0.92"/>
<circle cx="451.10" cy="129.50" r="1.3" fill="#b66868" fill-opacity="0.92"/>
<circle cx="409.20" cy="208.80" r="1.3" fill="#b66868" fill-opacity="0.92"/>
<circle cx="340.30" cy="185.20" r="1.3" fill="#b66868" fill-opacity="0.92"/>
<circle cx="423.20" cy="140.10" r="1.3" fill="#b66868" fill-opacity="0.92"/>
<circle cx="337.92" cy="164.87" r="1.3" fill="#56608a" fill-opacity="0.92"/>
<circle cx="327.50" cy="204.90" r="1.3" fill="#56608a" fill-opacity="0.92"/>
<circle cx="327.40" cy="178.20" r="1.3" fill="#56608a" fill-opacity="0.92"/>
<circle cx="432.70" cy="137.30" r="1.3" fill="#b66868" fill-opacity="0.92"/>
<circle cx="441.80" cy="164.40" r="1.3" fill="#56608a" fill-opacity="0.92"/>
<circle cx="321.10" cy="128.90" r="1.3" fill="#b66868" fill-opacity="0.92"/>
<circle cx="325.30" cy="174.50" r="1.3" fill="#56608a" fill-opacity="0.92"/>
<circle cx="441.10" cy="118.10" r="1.3" fill="#56608a" fill-opacity="0.92"/>
<circle cx="399.03" cy="155.93" r="1.3" fill="#b66868" fill-opacity="0.92"/>
<circle cx="328.60" cy="185.20" r="1.3" fill="#56608a" fill-opacity="0.92"/>
<circle cx="323.08" cy="202.30" r="1.3" fill="#56608a" fill-opacity="0.92"/>
<circle cx="448.60" cy="161.90" r="1.3" fill="#b66868" fill-opacity="0.92"/>
<circle cx="345.20" cy="168.20" r="1.3" fill="#b66868" fill-opacity="0.92"/>
<circle cx="323.20" cy="128.40" r="1.3" fill="#b66868" fill-opacity="0.92"/>
<circle cx="389.10" cy="148.50" r="1.3" fill="#56608a" fill-opacity="0.92"/>
<circle cx="431.70" cy="165.50" r="1.3" fill="#56608a" fill-opacity="0.92"/>
<circle cx="407.10" cy="143.70" r="1.3" fill="#b66868" fill-opacity="0.92"/>
<circle cx="431.70" cy="191.90" r="1.3" fill="#b66868" fill-opacity="0.92"/>
<circle cx="384.03" cy="161.54" r="1.3" fill="#b66868" fill-opacity="0.92"/>
<circle cx="449.30" cy="144.62" r="1.3" fill="#56608a" fill-opacity="0.92"/>
<circle cx="456.00" cy="167.60" r="1.3" fill="#b66868" fill-opacity="0.92"/>
<circle cx="399.90" cy="159.57" r="1.3" fill="#56608a" fill-opacity="0.92"/>
<circle cx="346.52" cy="157.29" r="1.3" fill="#56608a" fill-opacity="0.92"/>
<circle cx="331.37" cy="159.44" r="1.3" fill="#56608a" fill-opacity="0.92"/>
<circle cx="359.50" cy="198.50" r="1.3" fill="#b66868" fill-opacity="0.92"/>
<circle cx="461.30" cy="149.60" r="1.3" fill="#b66868" fill-opacity="0.92"/>
<circle cx="352.50" cy="144.30" r="1.3" fill="#56608a" fill-opacity="0.92"/>
<circle cx="438.50" cy="127.40" r="1.3" fill="#b66868" fill-opacity="0.92"/>
<circle cx="402.80" cy="177.10" r="1.3" fill="#b66868" fill-opacity="0.92"/>
<circle cx="342.10" cy="173.50" r="1.3" fill="#56608a" fill-opacity="0.92"/>
<circle cx="358.80" cy="168.70" r="1.3" fill="#b66868" fill-opacity="0.92"/>
<circle cx="403.20" cy="195.10" r="1.3" fill="#b66868" fill-opacity="0.92"/>
<circle cx="353.60" cy="217.20" r="1.3" fill="#b66868" fill-opacity="0.92"/>
<circle cx="332.60" cy="161.90" r="1.3" fill="#56608a" fill-opacity="0.92"/>
<circle cx="394.96" cy="156.50" r="1.3" fill="#56608a" fill-opacity="0.92"/>
<circle cx="430.60" cy="159.10" r="1.3" fill="#56608a" fill-opacity="0.92"/>
<circle cx="393.49" cy="138.34" r="1.3" fill="#56608a" fill-opacity="0.92"/>
<circle cx="335.80" cy="174.50" r="1.3" fill="#b66868" fill-opacity="0.92"/>
<circle cx="427.50" cy="136.90" r="1.3" fill="#b66868" fill-opacity="0.92"/>
<circle cx="365.10" cy="158.30" r="1.3" fill="#56608a" fill-opacity="0.92"/>
<circle cx="334.77" cy="191.24" r="1.3" fill="#56608a" fill-opacity="0.92"/>
<circle cx="443.30" cy="153.80" r="1.3" fill="#b66868" fill-opacity="0.92"/>
<circle cx="355.20" cy="193.70" r="1.3" fill="#b66868" fill-opacity="0.92"/>
<circle cx="469.60" cy="112.10" r="1.3" fill="#b66868" fill-opacity="0.92"/>
<circle cx="364.60" cy="166.10" r="1.3" fill="#56608a" fill-opacity="0.92"/>
<circle cx="332.10" cy="169.30" r="1.3" fill="#56608a" fill-opacity="0.92"/>
<circle cx="340.30" cy="194.80" r="1.3" fill="#b66868" fill-opacity="0.92"/>
<circle cx="390.10" cy="138.60" r="1.3" fill="#b66868" fill-opacity="0.92"/>
<circle cx="355.70" cy="178.70" r="1.3" fill="#b66868" fill-opacity="0.92"/>
<circle cx="392.30" cy="183.40" r="1.3" fill="#b66868" fill-opacity="0.92"/>
<circle cx="409.20" cy="126.30" r="1.3" fill="#b66868" fill-opacity="0.92"/>
<circle cx="438.80" cy="49.40" r="1.3" fill="#b66868" fill-opacity="0.92"/>
<circle cx="363.20" cy="98.30" r="1.3" fill="#b66868" fill-opacity="0.92"/>
<circle cx="393.30" cy="131.60" r="1.3" fill="#56608a" fill-opacity="0.92"/>
<circle cx="371.10" cy="136.90" r="1.3" fill="#56608a" fill-opacity="0.92"/>
<circle cx="384.90" cy="129.50" r="1.3" fill="#b66868" fill-opacity="0.92"/>
<circle cx="401.80" cy="182.40" r="1.3" fill="#b66868" fill-opacity="0.92"/>
<circle cx="434.40" cy="88.70" r="1.3" fill="#b66868" fill-opacity="0.92"/>
<circle cx="419.00" cy="175.00" r="1.3" fill="#b66868" fill-opacity="0.92"/>
<circle cx="328.60" cy="192.10" r="1.3" fill="#56608a" fill-opacity="0.92"/>
<circle cx="327.50" cy="216.10" r="1.3" fill="#56608a" fill-opacity="0.92"/>
<circle cx="365.10" cy="135.90" r="1.3" fill="#56608a" fill-opacity="0.92"/>
<circle cx="375.30" cy="160.20" r="1.3" fill="#b66868" fill-opacity="0.92"/>
<circle cx="449.80" cy="109.00" r="1.3" fill="#b66868" fill-opacity="0.92"/>
<circle cx="334.32" cy="155.05" r="1.3" fill="#b66868" fill-opacity="0.92"/>
<circle cx="356.30" cy="186.80" r="1.3" fill="#b66868" fill-opacity="0.92"/>
<circle cx="322.20" cy="220.40" r="1.3" fill="#56608a" fill-opacity="0.92"/>
<circle cx="347.30" cy="149.10" r="1.3" fill="#b66868" fill-opacity="0.92"/>
<circle cx="441.10" cy="114.20" r="1.3" fill="#56608a" fill-opacity="0.92"/>
<circle cx="329.80" cy="196.52" r="1.3" fill="#56608a" fill-opacity="0.92"/>
<circle cx="450.70" cy="164.40" r="1.3" fill="#b66868" fill-opacity="0.92"/>
<circle cx="444.40" cy="169.70" r="1.3" fill="#b66868" fill-opacity="0.92"/>
<circle cx="323.59" cy="151.48" r="1.3" fill="#b66868" fill-opacity="0.92"/>
<circle cx="440.10" cy="145.40" r="1.3" fill="#56608a" fill-opacity="0.92"/>
<circle cx="360.90" cy="152.50" r="1.3" fill="#56608a" fill-opacity="0.92"/>
<circle cx="326.50" cy="191.87" r="1.3" fill="#56608a" fill-opacity="0.92"/>
<circle cx="441.70" cy="62.50" r="1.3" fill="#b66868" fill-opacity="0.92"/>
<circle cx="357.30" cy="146.70" r="1.3" fill="#56608a" fill-opacity="0.92"/>
<circle cx="437.60" cy="134.80" r="1.3" fill="#b66868" fill-opacity="0.92"/>
<circle cx="335.20" cy="147.80" r="1.3" fill="#56608a" fill-opacity="0.92"/>
<circle cx="321.20" cy="200.75" r="1.3" fill="#56608a" fill-opacity="0.92"/>
<circle cx="329.50" cy="177.10" r="1.3" fill="#56608a" fill-opacity="0.92"/>
<circle cx="357.62" cy="176.36" r="1.3" fill="#56608a" fill-opacity="0.92"/>
<circle cx="388.00" cy="180.30" r="1.3" fill="#56608a" fill-opacity="0.92"/>
<circle cx="328.38" cy="150.81" r="1.3" fill="#56608a" fill-opacity="0.92"/>
<circle cx="360.60" cy="185.20" r="1.3" fill="#56608a" fill-opacity="0.92"/>
<circle cx="328.40" cy="172.40" r="1.3" fill="#56608a" fill-opacity="0.92"/>
<circle cx="422.20" cy="127.40" r="1.3" fill="#56608a" fill-opacity="0.92"/>
<circle cx="325.40" cy="183.10" r="1.3" fill="#b66868" fill-opacity="0.92"/>
<circle cx="416.60" cy="160.20" r="1.3" fill="#b66868" fill-opacity="0.92"/>
<circle cx="433.80" cy="161.20" r="1.3" fill="#b66868" fill-opacity="0.92"/>
<circle cx="402.40" cy="147.50" r="1.3" fill="#56608a" fill-opacity="0.92"/>
<circle cx="367.18" cy="182.27" r="1.3" fill="#56608a" fill-opacity="0.92"/>
<circle cx="340.00" cy="177.70" r="1.3" fill="#56608a" fill-opacity="0.92"/>
<circle cx="437.00" cy="171.80" r="1.3" fill="#b66868" fill-opacity="0.92"/>
<circle cx="347.30" cy="210.80" r="1.3" fill="#56608a" fill-opacity="0.92"/>
<circle cx="352.50" cy="169.30" r="1.3" fill="#56608a" fill-opacity="0.92"/>
<circle cx="330.50" cy="164.00" r="1.3" fill="#b66868" fill-opacity="0.92"/>
<circle cx="348.09" cy="162.29" r="1.3" fill="#56608a" fill-opacity="0.92"/>
<circle cx="441.20" cy="141.10" r="1.3" fill="#b66868" fill-opacity="0.92"/>
<circle cx="348.90" cy="186.30" r="1.3" fill="#56608a" fill-opacity="0.92"/>
<circle cx="387.71" cy="147.52" r="1.3" fill="#b66868" fill-opacity="0.92"/>
<circle cx="343.50" cy="187.90" r="1.3" fill="#b66868" fill-opacity="0.92"/>
<circle cx="341.27" cy="154.37" r="1.3" fill="#56608a" fill-opacity="0.92"/>
<circle cx="355.70" cy="156.70" r="1.3" fill="#56608a" fill-opacity="0.92"/>
<circle cx="392.30" cy="158.10" r="1.3" fill="#b66868" fill-opacity="0.92"/>
<circle cx="358.60" cy="126.50" r="1.3" fill="#b66868" fill-opacity="0.92"/>
<circle cx="344.60" cy="184.10" r="1.3" fill="#56608a" fill-opacity="0.92"/>
<circle cx="463.40" cy="133.70" r="1.3" fill="#b66868" fill-opacity="0.92"/>
<circle cx="344.20" cy="156.70" r="1.3" fill="#56608a" fill-opacity="0.92"/>
<circle cx="337.82" cy="178.94" r="1.3" fill="#56608a" fill-opacity="0.92"/>
<circle cx="350.40" cy="162.50" r="1.3" fill="#56608a" fill-opacity="0.92"/>
<circle cx="337.10" cy="199.60" r="1.3" fill="#56608a" fill-opacity="0.92"/>
<circle cx="462.30" cy="123.80" r="1.3" fill="#56608a" fill-opacity="0.92"/>
<circle cx="335.00" cy="216.10" r="1.3" fill="#b66868" fill-opacity="0.92"/>
<circle cx="337.90" cy="135.90" r="1.3" fill="#56608a" fill-opacity="0.92"/>
<circle cx="382.70" cy="153.80" r="1.3" fill="#56608a" fill-opacity="0.92"/>
<circle cx="339.92" cy="165.91" r="1.3" fill="#56608a" fill-opacity="0.92"/>
<circle cx="327.40" cy="159.80" r="1.3" fill="#56608a" fill-opacity="0.92"/>
<circle cx="324.04" cy="161.93" r="1.3" fill="#56608a" fill-opacity="0.92"/>
<circle cx="325.40" cy="201.20" r="1.3" fill="#b66868" fill-opacity="0.92"/>
<circle cx="406.88" cy="152.18" r="1.3" fill="#b66868" fill-opacity="0.92"/>
<circle cx="438.00" cy="164.40" r="1.3" fill="#b66868" fill-opacity="0.92"/>
<circle cx="411.30" cy="138.00" r="1.3" fill="#56608a" fill-opacity="0.92"/>
<circle cx="436.71" cy="164.09" r="1.3" fill="#b66868" fill-opacity="0.92"/>
<circle cx="484.50" cy="140.10" r="1.3" fill="#b66868" fill-opacity="0.92"/>
<circle cx="354.07" cy="163.73" r="1.3" fill="#56608a" fill-opacity="0.92"/>
<circle cx="393.30" cy="138.60" r="1.3" fill="#b66868" fill-opacity="0.92"/>
<circle cx="420.10" cy="165.50" r="1.3" fill="#56608a" fill-opacity="0.92"/>
<circle cx="435.30" cy="71.50" r="1.3" fill="#b66868" fill-opacity="0.92"/>
<circle cx="392.70" cy="129.50" r="1.3" fill="#56608a" fill-opacity="0.92"/>
<circle cx="450.70" cy="175.40" r="1.3" fill="#56608a" fill-opacity="0.92"/>
<circle cx="335.00" cy="198.00" r="1.3" fill="#56608a" fill-opacity="0.92"/>
<circle cx="462.30" cy="182.40" r="1.3" fill="#56608a" fill-opacity="0.92"/>
<circle cx="337.90" cy="170.30" r="1.3" fill="#56608a" fill-opacity="0.92"/>
<circle cx="407.10" cy="149.60" r="1.3" fill="#b66868" fill-opacity="0.92"/>
<circle cx="358.80" cy="177.56" r="1.3" fill="#56608a" fill-opacity="0.92"/>
<circle cx="398.60" cy="161.20" r="1.3" fill="#56608a" fill-opacity="0.92"/>
<circle cx="425.30" cy="172.90" r="1.3" fill="#56608a" fill-opacity="0.92"/>
<circle cx="440.48" cy="165.23" r="1.3" fill="#56608a" fill-opacity="0.92"/>
<circle cx="349.40" cy="206.00" r="1.3" fill="#56608a" fill-opacity="0.92"/>
<circle cx="396.10" cy="195.10" r="1.3" fill="#56608a" fill-opacity="0.92"/>
<circle cx="335.20" cy="142.50" r="1.3" fill="#56608a" fill-opacity="0.92"/>
<circle cx="358.00" cy="135.90" r="1.3" fill="#56608a" fill-opacity="0.92"/>
<circle cx="459.20" cy="147.50" r="1.3" fill="#b66868" fill-opacity="0.92"/>
<circle cx="393.20" cy="115.40" r="1.3" fill="#b66868" fill-opacity="0.92"/>
<circle cx="344.70" cy="152.00" r="1.3" fill="#b66868" fill-opacity="0.92"/>
<circle cx="373.70" cy="147.50" r="1.3" fill="#56608a" fill-opacity="0.92"/>
<circle cx="457.10" cy="130.60" r="1.3" fill="#b66868" fill-opacity="0.92"/>
<circle cx="403.80" cy="117.30" r="1.3" fill="#b66868" fill-opacity="0.92"/>
<circle cx="327.50" cy="222.50" r="1.3" fill="#56608a" fill-opacity="0.92"/>
<circle cx="379.10" cy="133.10" r="1.3" fill="#56608a" fill-opacity="0.92"/>
<circle cx="319.94" cy="211.00" r="1.3" fill="#56608a" fill-opacity="0.92"/>
<circle cx="338.52" cy="140.19" r="1.3" fill="#56608a" fill-opacity="0.92"/>
<circle cx="320.60" cy="218.20" r="1.3" fill="#56608a" fill-opacity="0.92"/>
<circle cx="380.60" cy="180.30" r="1.3" fill="#56608a" fill-opacity="0.92"/>
<circle cx="406.00" cy="140.10" r="1.3" fill="#56608a" fill-opacity="0.92"/>
<circle cx="413.47" cy="173.21" r="1.3" fill="#56608a" fill-opacity="0.92"/>
<circle cx="320.34" cy="205.63" r="1.3" fill="#56608a" fill-opacity="0.92"/>
<circle cx="374.30" cy="175.40" r="1.3" fill="#56608a" fill-opacity="0.92"/>
<circle cx="324.30" cy="226.80" r="1.3" fill="#b66868" fill-opacity="0.92"/>
<circle cx="353.60" cy="165.10" r="1.3" fill="#b66868" fill-opacity="0.92"/>
<circle cx="346.86" cy="154.42" r="1.3" fill="#56608a" fill-opacity="0.92"/>
<circle cx="325.42" cy="165.66" r="1.3" fill="#b66868" fill-opacity="0.92"/>
<circle cx="430.00" cy="112.90" r="1.3" fill="#56608a" fill-opacity="0.92"/>
<circle cx="327.67" cy="191.31" r="1.3" fill="#56608a" fill-opacity="0.92"/>
<circle cx="335.80" cy="163.00" r="1.3" fill="#56608a" fill-opacity="0.92"/>
<circle cx="379.40" cy="183.02" r="1.3" fill="#b66868" fill-opacity="0.92"/>
<circle cx="439.70" cy="191.50" r="1.3" fill="#56608a" fill-opacity="0.92"/>
<circle cx="348.90" cy="197.50" r="1.3" fill="#56608a" fill-opacity="0.92"/>
<circle cx="435.90" cy="153.80" r="1.3" fill="#56608a" fill-opacity="0.92"/>
<circle cx="334.93" cy="187.39" r="1.3" fill="#b66868" fill-opacity="0.92"/>
<circle cx="417.60" cy="166.50" r="1.3" fill="#56608a" fill-opacity="0.92"/>
<circle cx="321.68" cy="203.00" r="1.3" fill="#56608a" fill-opacity="0.92"/>
<circle cx="360.60" cy="208.10" r="1.3" fill="#56608a" fill-opacity="0.92"/>
<circle cx="449.70" cy="145.40" r="1.3" fill="#56608a" fill-opacity="0.92"/>
<circle cx="324.48" cy="194.52" r="1.3" fill="#56608a" fill-opacity="0.92"/>
<circle cx="398.80" cy="61.30" r="1.3" fill="#b66868" fill-opacity="0.92"/>
<circle cx="455.23" cy="148.33" r="1.3" fill="#b66868" fill-opacity="0.92"/>
<circle cx="413.40" cy="129.50" r="1.3" fill="#b66868" fill-opacity="0.92"/>
<circle cx="409.20" cy="183.40" r="1.3" fill="#b66868" fill-opacity="0.92"/>
<circle cx="347.80" cy="192.10" r="1.3" fill="#b66868" fill-opacity="0.92"/>
<circle cx="368.30" cy="138.90" r="1.3" fill="#56608a" fill-opacity="0.92"/>
<circle cx="442.30" cy="178.10" r="1.3" fill="#b66868" fill-opacity="0.92"/>
<circle cx="347.30" cy="163.00" r="1.3" fill="#56608a" fill-opacity="0.92"/>
<circle cx="403.62" cy="174.93" r="1.3" fill="#56608a" fill-opacity="0.92"/>
<circle cx="379.60" cy="159.10" r="1.3" fill="#b66868" fill-opacity="0.92"/>
<circle cx="463.40" cy="142.20" r="1.3" fill="#b66868" fill-opacity="0.92"/>
<circle cx="446.86" cy="142.64" r="1.3" fill="#56608a" fill-opacity="0.92"/>
<circle cx="347.30" cy="201.70" r="1.3" fill="#56608a" fill-opacity="0.92"/>
<circle cx="324.13" cy="181.23" r="1.3" fill="#56608a" fill-opacity="0.92"/>
<circle cx="338.40" cy="166.10" r="1.3" fill="#b66868" fill-opacity="0.92"/>
<circle cx="329.50" cy="168.20" r="1.3" fill="#56608a" fill-opacity="0.92"/>
<circle cx="326.23" cy="169.23" r="1.3" fill="#b66868" fill-opacity="0.92"/>
<circle cx="348.88" cy="172.28" r="1.3" fill="#56608a" fill-opacity="0.92"/>
<circle cx="383.80" cy="176.00" r="1.3" fill="#56608a" fill-opacity="0.92"/>
<circle cx="338.65" cy="183.56" r="1.3" fill="#56608a" fill-opacity="0.92"/>
<circle cx="333.67" cy="156.46" r="1.3" fill="#b66868" fill-opacity="0.92"/>
<circle cx="421.50" cy="197.20" r="1.3" fill="#b66868" fill-opacity="0.92"/>
<circle cx="425.04" cy="153.13" r="1.3" fill="#b66868" fill-opacity="0.92"/>
<circle cx="326.50" cy="197.60" r="1.3" fill="#b66868" fill-opacity="0.92"/>
<circle cx="447.50" cy="154.90" r="1.3" fill="#56608a" fill-opacity="0.92"/>
<circle cx="326.30" cy="165.10" r="1.3" fill="#56608a" fill-opacity="0.92"/>
<circle cx="360.81" cy="179.67" r="1.3" fill="#56608a" fill-opacity="0.92"/>
<circle cx="414.99" cy="149.13" r="1.3" fill="#b66868" fill-opacity="0.92"/>
<circle cx="370.70" cy="158.10" r="1.3" fill="#56608a" fill-opacity="0.92"/>
<circle cx="398.60" cy="165.50" r="1.3" fill="#b66868" fill-opacity="0.92"/>
<circle cx="381.70" cy="140.10" r="1.3" fill="#56608a" fill-opacity="0.92"/>
<circle cx="459.00" cy="94.60" r="1.3" fill="#b66868" fill-opacity="0.92"/>
<circle cx="463.40" cy="177.10" r="1.3" fill="#56608a" fill-opacity="0.92"/>
<line x1="319.00" y1="185.57" x2="503.64" y2="121.63" stroke="#c0182e" stroke-width="1.6" stroke-linecap="butt"/>
<line x1="319.00" y1="189.19" x2="468.51" y2="137.25" stroke="#1d4775" stroke-width="1.6" stroke-linecap="butt"/>
<text x="10.60" y="304.80" font-size="10.5" text-anchor="middle" fill="#111" stroke="#111" stroke-width="0.22" font-weight="bold">C</text>
<line x1="51.00" y1="311.00" x2="51.00" y2="531.45" stroke="#262626" stroke-width="1.3" stroke-linecap="butt"/>
<line x1="50.35" y1="530.80" x2="244.60" y2="530.80" stroke="#262626" stroke-width="1.3" stroke-linecap="butt"/>
<line x1="47.80" y1="520.60" x2="51.00" y2="520.60" stroke="#262626" stroke-width="1.1" stroke-linecap="butt"/>
<text x="0" y="0" transform="translate(44.70,523.10) rotate(0) scale(0.9,1)" font-size="8.9" text-anchor="end" fill="#262626" stroke="#262626" stroke-width="0.15" font-weight="normal">0</text>
<line x1="47.80" y1="471.60" x2="51.00" y2="471.60" stroke="#262626" stroke-width="1.1" stroke-linecap="butt"/>
<text x="0" y="0" transform="translate(44.70,474.10) rotate(0) scale(0.9,1)" font-size="8.9" text-anchor="end" fill="#262626" stroke="#262626" stroke-width="0.15" font-weight="normal">100</text>
<line x1="47.80" y1="422.60" x2="51.00" y2="422.60" stroke="#262626" stroke-width="1.1" stroke-linecap="butt"/>
<text x="0" y="0" transform="translate(44.70,425.10) rotate(0) scale(0.9,1)" font-size="8.9" text-anchor="end" fill="#262626" stroke="#262626" stroke-width="0.15" font-weight="normal">200</text>
<line x1="47.80" y1="373.60" x2="51.00" y2="373.60" stroke="#262626" stroke-width="1.1" stroke-linecap="butt"/>
<text x="0" y="0" transform="translate(44.70,376.10) rotate(0) scale(0.9,1)" font-size="8.9" text-anchor="end" fill="#262626" stroke="#262626" stroke-width="0.15" font-weight="normal">300</text>
<line x1="47.80" y1="324.60" x2="51.00" y2="324.60" stroke="#262626" stroke-width="1.1" stroke-linecap="butt"/>
<text x="0" y="0" transform="translate(44.70,327.10) rotate(0) scale(0.9,1)" font-size="8.9" text-anchor="end" fill="#262626" stroke="#262626" stroke-width="0.15" font-weight="normal">400</text>
<line x1="49.00" y1="496.10" x2="51.00" y2="496.10" stroke="#262626" stroke-width="0.9" stroke-linecap="butt"/>
<line x1="49.00" y1="447.10" x2="51.00" y2="447.10" stroke="#262626" stroke-width="0.9" stroke-linecap="butt"/>
<line x1="49.00" y1="398.10" x2="51.00" y2="398.10" stroke="#262626" stroke-width="0.9" stroke-linecap="butt"/>
<line x1="49.00" y1="349.10" x2="51.00" y2="349.10" stroke="#262626" stroke-width="0.9" stroke-linecap="butt"/>
<line x1="51.00" y1="530.80" x2="51.00" y2="533.80" stroke="#262626" stroke-width="1.0" stroke-linecap="butt"/>
<text x="0" y="0" transform="translate(51.00,544.40) rotate(0) scale(0.9,1)" font-size="8.9" text-anchor="middle" fill="#262626" stroke="#262626" stroke-width="0.15" font-weight="normal">0</text>
<line x1="91.80" y1="530.80" x2="91.80" y2="533.80" stroke="#262626" stroke-width="1.0" stroke-linecap="butt"/>
<text x="0" y="0" transform="translate(91.80,544.40) rotate(0) scale(0.9,1)" font-size="8.9" text-anchor="middle" fill="#262626" stroke="#262626" stroke-width="0.15" font-weight="normal">5</text>
<line x1="132.60" y1="530.80" x2="132.60" y2="533.80" stroke="#262626" stroke-width="1.0" stroke-linecap="butt"/>
<text x="0" y="0" transform="translate(132.60,544.40) rotate(0) scale(0.9,1)" font-size="8.9" text-anchor="middle" fill="#262626" stroke="#262626" stroke-width="0.15" font-weight="normal">10</text>
<line x1="173.40" y1="530.80" x2="173.40" y2="533.80" stroke="#262626" stroke-width="1.0" stroke-linecap="butt"/>
<text x="0" y="0" transform="translate(173.40,544.40) rotate(0) scale(0.9,1)" font-size="8.9" text-anchor="middle" fill="#262626" stroke="#262626" stroke-width="0.15" font-weight="normal">15</text>
<line x1="214.20" y1="530.80" x2="214.20" y2="533.80" stroke="#262626" stroke-width="1.0" stroke-linecap="butt"/>
<text x="0" y="0" transform="translate(214.20,544.40) rotate(0) scale(0.9,1)" font-size="8.9" text-anchor="middle" fill="#262626" stroke="#262626" stroke-width="0.15" font-weight="normal">20</text>
<line x1="71.40" y1="530.80" x2="71.40" y2="532.80" stroke="#262626" stroke-width="0.9" stroke-linecap="butt"/>
<line x1="112.20" y1="530.80" x2="112.20" y2="532.80" stroke="#262626" stroke-width="0.9" stroke-linecap="butt"/>
<line x1="153.00" y1="530.80" x2="153.00" y2="532.80" stroke="#262626" stroke-width="0.9" stroke-linecap="butt"/>
<line x1="193.80" y1="530.80" x2="193.80" y2="532.80" stroke="#262626" stroke-width="0.9" stroke-linecap="butt"/>
<line x1="234.60" y1="530.80" x2="234.60" y2="532.80" stroke="#262626" stroke-width="0.9" stroke-linecap="butt"/>
<text x="0" y="0" transform="translate(25.20,421.20) rotate(-90) scale(0.72,1)" font-size="8.8" text-anchor="middle" fill="#262626" stroke="#262626" stroke-width="0.4" font-weight="normal">IgA value</text>
<text x="0" y="0" transform="translate(148.30,557.00) rotate(0) scale(0.727,1)" font-size="8.8" text-anchor="middle" fill="#262626" stroke="#262626" stroke-width="0.4" font-weight="normal">Age at diagnosis</text>
<circle cx="123.60" cy="436.80" r="1.3" fill="#56608a" fill-opacity="0.92"/>
<circle cx="164.10" cy="517.10" r="1.3" fill="#56608a" fill-opacity="0.92"/>
<circle cx="64.44" cy="495.06" r="1.3" fill="#56608a" fill-opacity="0.92"/>
<circle cx="55.22" cy="511.65" r="1.3" fill="#b66868" fill-opacity="0.92"/>
<circle cx="158.70" cy="431.90" r="1.3" fill="#b66868" fill-opacity="0.92"/>
<circle cx="93.30" cy="485.60" r="1.3" fill="#56608a" fill-opacity="0.92"/>
<circle cx="84.89" cy="508.34" r="1.3" fill="#56608a" fill-opacity="0.92"/>
<circle cx="167.90" cy="387.50" r="1.3" fill="#56608a" fill-opacity="0.92"/>
<circle cx="176.00" cy="456.90" r="1.3" fill="#b66868" fill-opacity="0.92"/>
<circle cx="153.90" cy="423.50" r="1.3" fill="#56608a" fill-opacity="0.92"/>
<circle cx="69.70" cy="402.30" r="1.3" fill="#56608a" fill-opacity="0.92"/>
<circle cx="53.90" cy="495.20" r="1.3" fill="#56608a" fill-opacity="0.92"/>
<circle cx="149.60" cy="459.40" r="1.3" fill="#b66868" fill-opacity="0.92"/>
<circle cx="106.20" cy="386.00" r="1.3" fill="#56608a" fill-opacity="0.92"/>
<circle cx="56.85" cy="502.47" r="1.3" fill="#56608a" fill-opacity="0.92"/>
<circle cx="141.40" cy="487.00" r="1.3" fill="#b66868" fill-opacity="0.92"/>
<circle cx="194.80" cy="449.20" r="1.3" fill="#b66868" fill-opacity="0.92"/>
<circle cx="169.30" cy="423.80" r="1.3" fill="#b66868" fill-opacity="0.92"/>
<circle cx="165.40" cy="430.60" r="1.3" fill="#b66868" fill-opacity="0.92"/>
<circle cx="132.56" cy="459.19" r="1.3" fill="#56608a" fill-opacity="0.92"/>
<circle cx="98.10" cy="488.00" r="1.3" fill="#56608a" fill-opacity="0.92"/>
<circle cx="128.40" cy="481.90" r="1.3" fill="#b66868" fill-opacity="0.92"/>
<circle cx="201.00" cy="435.40" r="1.3" fill="#56608a" fill-opacity="0.92"/>
<circle cx="123.60" cy="431.50" r="1.3" fill="#56608a" fill-opacity="0.92"/>
<circle cx="102.40" cy="496.30" r="1.3" fill="#56608a" fill-opacity="0.92"/>
<circle cx="81.30" cy="515.90" r="1.3" fill="#56608a" fill-opacity="0.92"/>
<circle cx="87.50" cy="434.90" r="1.3" fill="#b66868" fill-opacity="0.92"/>
<circle cx="82.30" cy="423.80" r="1.3" fill="#56608a" fill-opacity="0.92"/>
<circle cx="68.15" cy="500.24" r="1.3" fill="#56608a" fill-opacity="0.92"/>
<circle cx="149.10" cy="446.00" r="1.3" fill="#56608a" fill-opacity="0.92"/>
<circle cx="148.64" cy="412.80" r="1.3" fill="#56608a" fill-opacity="0.92"/>
<circle cx="58.16" cy="486.67" r="1.3" fill="#56608a" fill-opacity="0.92"/>
<circle cx="130.30" cy="505.80" r="1.3" fill="#b66868" fill-opacity="0.92"/>
<circle cx="235.60" cy="511.90" r="1.3" fill="#b66868" fill-opacity="0.92"/>
<circle cx="125.00" cy="475.50" r="1.3" fill="#56608a" fill-opacity="0.92"/>
<circle cx="138.03" cy="401.40" r="1.3" fill="#b66868" fill-opacity="0.92"/>
<circle cx="67.13" cy="508.61" r="1.3" fill="#b66868" fill-opacity="0.92"/>
<circle cx="181.80" cy="457.50" r="1.3" fill="#b66868" fill-opacity="0.92"/>
<circle cx="53.43" cy="504.97" r="1.3" fill="#56608a" fill-opacity="0.92"/>
<circle cx="141.40" cy="482.50" r="1.3" fill="#b66868" fill-opacity="0.92"/>
<circle cx="103.90" cy="487.00" r="1.3" fill="#56608a" fill-opacity="0.92"/>
<circle cx="56.58" cy="507.19" r="1.3" fill="#b66868" fill-opacity="0.92"/>
<circle cx="199.50" cy="503.70" r="1.3" fill="#b66868" fill-opacity="0.92"/>
<circle cx="91.67" cy="465.59" r="1.3" fill="#56608a" fill-opacity="0.92"/>
<circle cx="135.10" cy="492.80" r="1.3" fill="#b66868" fill-opacity="0.92"/>
<circle cx="165.40" cy="469.60" r="1.3" fill="#56608a" fill-opacity="0.92"/>
<circle cx="191.12" cy="429.11" r="1.3" fill="#b66868" fill-opacity="0.92"/>
<circle cx="79.97" cy="467.13" r="1.3" fill="#56608a" fill-opacity="0.92"/>
<circle cx="87.50" cy="496.60" r="1.3" fill="#56608a" fill-opacity="0.92"/>
<circle cx="79.93" cy="462.39" r="1.3" fill="#56608a" fill-opacity="0.92"/>
<circle cx="87.50" cy="490.40" r="1.3" fill="#56608a" fill-opacity="0.92"/>
<circle cx="116.40" cy="512.00" r="1.3" fill="#b66868" fill-opacity="0.92"/>
<circle cx="102.40" cy="456.10" r="1.3" fill="#b66868" fill-opacity="0.92"/>
<circle cx="148.10" cy="475.50" r="1.3" fill="#56608a" fill-opacity="0.92"/>
<circle cx="105.80" cy="429.60" r="1.3" fill="#56608a" fill-opacity="0.92"/>
<circle cx="152.90" cy="455.60" r="1.3" fill="#b66868" fill-opacity="0.92"/>
<circle cx="189.67" cy="450.93" r="1.3" fill="#56608a" fill-opacity="0.92"/>
<circle cx="92.20" cy="440.00" r="1.3" fill="#56608a" fill-opacity="0.92"/>
<circle cx="87.41" cy="472.71" r="1.3" fill="#b66868" fill-opacity="0.92"/>
<circle cx="82.70" cy="448.40" r="1.3" fill="#56608a" fill-opacity="0.92"/>
<circle cx="105.30" cy="468.10" r="1.3" fill="#56608a" fill-opacity="0.92"/>
<circle cx="163.50" cy="501.20" r="1.3" fill="#b66868" fill-opacity="0.92"/>
<circle cx="100.00" cy="480.80" r="1.3" fill="#b66868" fill-opacity="0.92"/>
<circle cx="94.30" cy="502.90" r="1.3" fill="#56608a" fill-opacity="0.92"/>
<circle cx="146.20" cy="440.70" r="1.3" fill="#56608a" fill-opacity="0.92"/>
<circle cx="52.19" cy="483.33" r="1.3" fill="#b66868" fill-opacity="0.92"/>
<circle cx="96.20" cy="495.20" r="1.3" fill="#b66868" fill-opacity="0.92"/>
<circle cx="135.10" cy="433.50" r="1.3" fill="#b66868" fill-opacity="0.92"/>
<circle cx="62.94" cy="494.21" r="1.3" fill="#56608a" fill-opacity="0.92"/>
<circle cx="91.00" cy="411.00" r="1.3" fill="#56608a" fill-opacity="0.92"/>
<circle cx="173.10" cy="520.40" r="1.3" fill="#b66868" fill-opacity="0.92"/>
<circle cx="93.30" cy="490.90" r="1.3" fill="#56608a" fill-opacity="0.92"/>
<circle cx="177.90" cy="399.80" r="1.3" fill="#56608a" fill-opacity="0.92"/>
<circle cx="127.90" cy="387.30" r="1.3" fill="#56608a" fill-opacity="0.92"/>
<circle cx="175.00" cy="473.80" r="1.3" fill="#b66868" fill-opacity="0.92"/>
<circle cx="141.16" cy="449.99" r="1.3" fill="#b66868" fill-opacity="0.92"/>
<circle cx="91.40" cy="460.90" r="1.3" fill="#b66868" fill-opacity="0.92"/>
<circle cx="82.70" cy="495.20" r="1.3" fill="#56608a" fill-opacity="0.92"/>
<circle cx="59.25" cy="519.89" r="1.3" fill="#56608a" fill-opacity="0.92"/>
<circle cx="56.47" cy="493.47" r="1.3" fill="#56608a" fill-opacity="0.92"/>
<circle cx="181.80" cy="474.80" r="1.3" fill="#b66868" fill-opacity="0.92"/>
<circle cx="175.60" cy="500.80" r="1.3" fill="#b66868" fill-opacity="0.92"/>
<circle cx="122.60" cy="434.90" r="1.3" fill="#56608a" fill-opacity="0.92"/>
<circle cx="182.70" cy="445.00" r="1.3" fill="#56608a" fill-opacity="0.92"/>
<circle cx="62.50" cy="511.50" r="1.3" fill="#56608a" fill-opacity="0.92"/>
<circle cx="66.40" cy="494.70" r="1.3" fill="#56608a" fill-opacity="0.92"/>
<circle cx="169.30" cy="494.60" r="1.3" fill="#b66868" fill-opacity="0.92"/>
<circle cx="134.20" cy="445.50" r="1.3" fill="#b66868" fill-opacity="0.92"/>
<circle cx="164.50" cy="399.50" r="1.3" fill="#b66868" fill-opacity="0.92"/>
<circle cx="66.78" cy="514.77" r="1.3" fill="#56608a" fill-opacity="0.92"/>
<circle cx="155.67" cy="479.88" r="1.3" fill="#b66868" fill-opacity="0.92"/>
<circle cx="55.78" cy="482.78" r="1.3" fill="#56608a" fill-opacity="0.92"/>
<circle cx="95.14" cy="489.31" r="1.3" fill="#56608a" fill-opacity="0.92"/>
<circle cx="166.00" cy="400.40" r="1.3" fill="#b66868" fill-opacity="0.92"/>
<circle cx="85.60" cy="514.40" r="1.3" fill="#b66868" fill-opacity="0.92"/>
<circle cx="116.40" cy="464.70" r="1.3" fill="#b66868" fill-opacity="0.92"/>
<circle cx="75.50" cy="439.70" r="1.3" fill="#56608a" fill-opacity="0.92"/>
<circle cx="196.23" cy="412.96" r="1.3" fill="#b66868" fill-opacity="0.92"/>
<circle cx="158.70" cy="387.50" r="1.3" fill="#56608a" fill-opacity="0.92"/>
<circle cx="83.70" cy="460.40" r="1.3" fill="#b66868" fill-opacity="0.92"/>
<circle cx="79.40" cy="437.80" r="1.3" fill="#56608a" fill-opacity="0.92"/>
<circle cx="66.90" cy="467.60" r="1.3" fill="#56608a" fill-opacity="0.92"/>
<circle cx="84.20" cy="456.50" r="1.3" fill="#56608a" fill-opacity="0.92"/>
<circle cx="108.70" cy="421.40" r="1.3" fill="#56608a" fill-opacity="0.92"/>
<circle cx="74.10" cy="463.30" r="1.3" fill="#56608a" fill-opacity="0.92"/>
<circle cx="54.38" cy="520.80" r="1.3" fill="#b66868" fill-opacity="0.92"/>
<circle cx="118.98" cy="437.23" r="1.3" fill="#56608a" fill-opacity="0.92"/>
<circle cx="179.80" cy="431.50" r="1.3" fill="#56608a" fill-opacity="0.92"/>
<circle cx="59.70" cy="484.10" r="1.3" fill="#56608a" fill-opacity="0.92"/>
<circle cx="52.90" cy="501.00" r="1.3" fill="#56608a" fill-opacity="0.92"/>
<circle cx="62.58" cy="494.23" r="1.3" fill="#56608a" fill-opacity="0.92"/>
<circle cx="75.65" cy="453.54" r="1.3" fill="#56608a" fill-opacity="0.92"/>
<circle cx="132.30" cy="427.20" r="1.3" fill="#b66868" fill-opacity="0.92"/>
<circle cx="77.00" cy="436.50" r="1.3" fill="#b66868" fill-opacity="0.92"/>
<circle cx="70.20" cy="487.50" r="1.3" fill="#56608a" fill-opacity="0.92"/>
<circle cx="177.90" cy="421.00" r="1.3" fill="#b66868" fill-opacity="0.92"/>
<circle cx="67.30" cy="510.60" r="1.3" fill="#56608a" fill-opacity="0.92"/>
<circle cx="171.20" cy="399.80" r="1.3" fill="#b66868" fill-opacity="0.92"/>
<circle cx="182.70" cy="467.10" r="1.3" fill="#56608a" fill-opacity="0.92"/>
<circle cx="59.70" cy="501.90" r="1.3" fill="#56608a" fill-opacity="0.92"/>
<circle cx="142.30" cy="445.52" r="1.3" fill="#b66868" fill-opacity="0.92"/>
<circle cx="77.40" cy="470.00" r="1.3" fill="#56608a" fill-opacity="0.92"/>
<circle cx="70.57" cy="492.11" r="1.3" fill="#56608a" fill-opacity="0.92"/>
<circle cx="92.30" cy="466.20" r="1.3" fill="#56608a" fill-opacity="0.92"/>
<circle cx="152.19" cy="439.02" r="1.3" fill="#b66868" fill-opacity="0.92"/>
<circle cx="157.70" cy="458.10" r="1.3" fill="#56608a" fill-opacity="0.92"/>
<circle cx="105.80" cy="444.50" r="1.3" fill="#56608a" fill-opacity="0.92"/>
<circle cx="118.80" cy="471.90" r="1.3" fill="#56608a" fill-opacity="0.92"/>
<circle cx="71.20" cy="469.00" r="1.3" fill="#56608a" fill-opacity="0.92"/>
<circle cx="60.60" cy="491.80" r="1.3" fill="#b66868" fill-opacity="0.92"/>
<circle cx="116.90" cy="443.10" r="1.3" fill="#b66868" fill-opacity="0.92"/>
<circle cx="114.50" cy="436.30" r="1.3" fill="#56608a" fill-opacity="0.92"/>
<circle cx="154.80" cy="449.80" r="1.3" fill="#56608a" fill-opacity="0.92"/>
<circle cx="106.63" cy="460.80" r="1.3" fill="#56608a" fill-opacity="0.92"/>
<circle cx="76.00" cy="491.30" r="1.3" fill="#b66868" fill-opacity="0.92"/>
<circle cx="110.60" cy="456.10" r="1.3" fill="#56608a" fill-opacity="0.92"/>
<circle cx="54.80" cy="520.70" r="1.3" fill="#56608a" fill-opacity="0.92"/>
<circle cx="183.70" cy="448.80" r="1.3" fill="#56608a" fill-opacity="0.92"/>
<circle cx="141.40" cy="434.90" r="1.3" fill="#b66868" fill-opacity="0.92"/>
<circle cx="109.70" cy="473.80" r="1.3" fill="#56608a" fill-opacity="0.92"/>
<circle cx="75.05" cy="493.28" r="1.3" fill="#56608a" fill-opacity="0.92"/>
<circle cx="122.90" cy="497.30" r="1.3" fill="#56608a" fill-opacity="0.92"/>
<circle cx="216.40" cy="426.20" r="1.3" fill="#b66868" fill-opacity="0.92"/>
<circle cx="66.79" cy="486.29" r="1.3" fill="#56608a" fill-opacity="0.92"/>
<circle cx="185.60" cy="404.30" r="1.3" fill="#b66868" fill-opacity="0.92"/>
<circle cx="193.96" cy="446.01" r="1.3" fill="#b66868" fill-opacity="0.92"/>
<circle cx="57.92" cy="506.90" r="1.3" fill="#56608a" fill-opacity="0.92"/>
<circle cx="93.30" cy="428.70" r="1.3" fill="#56608a" fill-opacity="0.92"/>
<circle cx="53.70" cy="503.05" r="1.3" fill="#56608a" fill-opacity="0.92"/>
<circle cx="146.70" cy="439.20" r="1.3" fill="#56608a" fill-opacity="0.92"/>
<circle cx="131.80" cy="469.00" r="1.3" fill="#b66868" fill-opacity="0.92"/>
<circle cx="176.00" cy="429.60" r="1.3" fill="#56608a" fill-opacity="0.92"/>
<circle cx="84.70" cy="464.70" r="1.3" fill="#56608a" fill-opacity="0.92"/>
<circle cx="157.70" cy="501.20" r="1.3" fill="#b66868" fill-opacity="0.92"/>
<circle cx="56.06" cy="508.83" r="1.3" fill="#56608a" fill-opacity="0.92"/>
<circle cx="105.40" cy="373.90" r="1.3" fill="#b66868" fill-opacity="0.92"/>
<circle cx="157.70" cy="453.70" r="1.3" fill="#56608a" fill-opacity="0.92"/>
<circle cx="90.27" cy="475.32" r="1.3" fill="#56608a" fill-opacity="0.92"/>
<circle cx="141.90" cy="493.80" r="1.3" fill="#b66868" fill-opacity="0.92"/>
<circle cx="174.10" cy="442.10" r="1.3" fill="#56608a" fill-opacity="0.92"/>
<circle cx="124.60" cy="458.90" r="1.3" fill="#56608a" fill-opacity="0.92"/>
<circle cx="80.80" cy="453.20" r="1.3" fill="#b66868" fill-opacity="0.92"/>
<circle cx="63.50" cy="497.60" r="1.3" fill="#56608a" fill-opacity="0.92"/>
<circle cx="59.75" cy="487.38" r="1.3" fill="#b66868" fill-opacity="0.92"/>
<circle cx="96.20" cy="443.60" r="1.3" fill="#b66868" fill-opacity="0.92"/>
<circle cx="125.60" cy="390.80" r="1.3" fill="#b66868" fill-opacity="0.92"/>
<circle cx="83.70" cy="498.60" r="1.3" fill="#56608a" fill-opacity="0.92"/>
<circle cx="139.00" cy="457.50" r="1.3" fill="#b66868" fill-opacity="0.92"/>
<circle cx="52.93" cy="509.00" r="1.3" fill="#56608a" fill-opacity="0.92"/>
<circle cx="159.70" cy="422.90" r="1.3" fill="#b66868" fill-opacity="0.92"/>
<circle cx="71.16" cy="500.23" r="1.3" fill="#56608a" fill-opacity="0.92"/>
<circle cx="152.00" cy="416.80" r="1.3" fill="#b66868" fill-opacity="0.92"/>
<circle cx="75.15" cy="494.84" r="1.3" fill="#56608a" fill-opacity="0.92"/>
<circle cx="63.50" cy="508.70" r="1.3" fill="#b66868" fill-opacity="0.92"/>
<circle cx="142.80" cy="463.30" r="1.3" fill="#b66868" fill-opacity="0.92"/>
<circle cx="172.94" cy="448.27" r="1.3" fill="#b66868" fill-opacity="0.92"/>
<circle cx="101.50" cy="450.80" r="1.3" fill="#56608a" fill-opacity="0.92"/>
<circle cx="77.70" cy="442.30" r="1.3" fill="#56608a" fill-opacity="0.92"/>
<circle cx="141.90" cy="443.60" r="1.3" fill="#56608a" fill-opacity="0.92"/>
<circle cx="58.05" cy="489.84" r="1.3" fill="#56608a" fill-opacity="0.92"/>
<circle cx="139.00" cy="475.50" r="1.3" fill="#b66868" fill-opacity="0.92"/>
<circle cx="166.80" cy="451.20" r="1.3" fill="#b66868" fill-opacity="0.92"/>
<circle cx="196.02" cy="425.31" r="1.3" fill="#56608a" fill-opacity="0.92"/>
<circle cx="199.66" cy="437.74" r="1.3" fill="#b66868" fill-opacity="0.92"/>
<circle cx="195.60" cy="350.60" r="1.3" fill="#56608a" fill-opacity="0.92"/>
<circle cx="125.00" cy="446.00" r="1.3" fill="#56608a" fill-opacity="0.92"/>
<circle cx="195.60" cy="476.20" r="1.3" fill="#b66868" fill-opacity="0.92"/>
<circle cx="121.60" cy="409.10" r="1.3" fill="#56608a" fill-opacity="0.92"/>
<circle cx="119.80" cy="497.30" r="1.3" fill="#56608a" fill-opacity="0.92"/>
<circle cx="125.64" cy="462.94" r="1.3" fill="#56608a" fill-opacity="0.92"/>
<circle cx="109.70" cy="475.00" r="1.3" fill="#56608a" fill-opacity="0.92"/>
<circle cx="63.50" cy="474.80" r="1.3" fill="#56608a" fill-opacity="0.92"/>
<circle cx="192.90" cy="397.50" r="1.3" fill="#b66868" fill-opacity="0.92"/>
<circle cx="113.00" cy="498.60" r="1.3" fill="#b66868" fill-opacity="0.92"/>
<circle cx="58.69" cy="490.62" r="1.3" fill="#b66868" fill-opacity="0.92"/>
<circle cx="79.52" cy="459.32" r="1.3" fill="#56608a" fill-opacity="0.92"/>
<circle cx="63.50" cy="476.00" r="1.3" fill="#56608a" fill-opacity="0.92"/>
<circle cx="131.80" cy="456.10" r="1.3" fill="#56608a" fill-opacity="0.92"/>
<circle cx="166.40" cy="486.90" r="1.3" fill="#56608a" fill-opacity="0.92"/>
<circle cx="70.20" cy="504.80" r="1.3" fill="#b66868" fill-opacity="0.92"/>
<circle cx="60.60" cy="506.70" r="1.3" fill="#56608a" fill-opacity="0.92"/>
<circle cx="119.80" cy="415.40" r="1.3" fill="#56608a" fill-opacity="0.92"/>
<circle cx="173.70" cy="343.30" r="1.3" fill="#b66868" fill-opacity="0.92"/>
<circle cx="71.20" cy="449.30" r="1.3" fill="#b66868" fill-opacity="0.92"/>
<circle cx="109.70" cy="411.00" r="1.3" fill="#56608a" fill-opacity="0.92"/>
<circle cx="173.10" cy="445.00" r="1.3" fill="#56608a" fill-opacity="0.92"/>
<circle cx="165.40" cy="475.80" r="1.3" fill="#b66868" fill-opacity="0.92"/>
<circle cx="70.56" cy="488.20" r="1.3" fill="#b66868" fill-opacity="0.92"/>
<circle cx="80.53" cy="469.12" r="1.3" fill="#b66868" fill-opacity="0.92"/>
<circle cx="125.00" cy="416.80" r="1.3" fill="#b66868" fill-opacity="0.92"/>
<circle cx="72.20" cy="480.80" r="1.3" fill="#56608a" fill-opacity="0.92"/>
<circle cx="116.40" cy="406.80" r="1.3" fill="#56608a" fill-opacity="0.92"/>
<circle cx="147.20" cy="421.00" r="1.3" fill="#b66868" fill-opacity="0.92"/>
<circle cx="74.39" cy="439.67" r="1.3" fill="#b66868" fill-opacity="0.92"/>
<circle cx="64.90" cy="450.30" r="1.3" fill="#56608a" fill-opacity="0.92"/>
<circle cx="77.71" cy="503.55" r="1.3" fill="#56608a" fill-opacity="0.92"/>
<circle cx="69.30" cy="459.40" r="1.3" fill="#56608a" fill-opacity="0.92"/>
<circle cx="118.30" cy="468.60" r="1.3" fill="#b66868" fill-opacity="0.92"/>
<circle cx="181.40" cy="414.50" r="1.3" fill="#56608a" fill-opacity="0.92"/>
<circle cx="128.90" cy="436.80" r="1.3" fill="#b66868" fill-opacity="0.92"/>
<circle cx="176.00" cy="461.90" r="1.3" fill="#b66868" fill-opacity="0.92"/>
<circle cx="91.40" cy="497.60" r="1.3" fill="#56608a" fill-opacity="0.92"/>
<circle cx="94.30" cy="450.80" r="1.3" fill="#56608a" fill-opacity="0.92"/>
<circle cx="181.80" cy="470.40" r="1.3" fill="#b66868" fill-opacity="0.92"/>
<circle cx="65.88" cy="485.00" r="1.3" fill="#56608a" fill-opacity="0.92"/>
<circle cx="63.34" cy="500.07" r="1.3" fill="#56608a" fill-opacity="0.92"/>
<circle cx="116.48" cy="461.74" r="1.3" fill="#b66868" fill-opacity="0.92"/>
<circle cx="54.83" cy="494.06" r="1.3" fill="#b66868" fill-opacity="0.92"/>
<circle cx="95.20" cy="463.30" r="1.3" fill="#56608a" fill-opacity="0.92"/>
<circle cx="191.00" cy="465.80" r="1.3" fill="#b66868" fill-opacity="0.92"/>
<circle cx="95.20" cy="476.90" r="1.3" fill="#b66868" fill-opacity="0.92"/>
<circle cx="58.59" cy="496.64" r="1.3" fill="#56608a" fill-opacity="0.92"/>
<circle cx="62.81" cy="507.92" r="1.3" fill="#56608a" fill-opacity="0.92"/>
<circle cx="90.40" cy="427.50" r="1.3" fill="#b66868" fill-opacity="0.92"/>
<circle cx="98.34" cy="467.13" r="1.3" fill="#56608a" fill-opacity="0.92"/>
<circle cx="113.50" cy="445.00" r="1.3" fill="#56608a" fill-opacity="0.92"/>
<circle cx="53.08" cy="500.43" r="1.3" fill="#56608a" fill-opacity="0.92"/>
<circle cx="80.28" cy="476.79" r="1.3" fill="#56608a" fill-opacity="0.92"/>
<circle cx="71.87" cy="501.26" r="1.3" fill="#b66868" fill-opacity="0.92"/>
<circle cx="63.46" cy="493.47" r="1.3" fill="#b66868" fill-opacity="0.92"/>
<circle cx="135.60" cy="472.40" r="1.3" fill="#b66868" fill-opacity="0.92"/>
<circle cx="108.20" cy="478.80" r="1.3" fill="#56608a" fill-opacity="0.92"/>
<circle cx="94.30" cy="483.70" r="1.3" fill="#56608a" fill-opacity="0.92"/>
<circle cx="69.64" cy="485.71" r="1.3" fill="#56608a" fill-opacity="0.92"/>
<circle cx="98.60" cy="457.50" r="1.3" fill="#b66868" fill-opacity="0.92"/>
<circle cx="142.30" cy="342.70" r="1.3" fill="#56608a" fill-opacity="0.92"/>
<circle cx="130.80" cy="488.00" r="1.3" fill="#b66868" fill-opacity="0.92"/>
<circle cx="153.90" cy="481.50" r="1.3" fill="#56608a" fill-opacity="0.92"/>
<circle cx="138.50" cy="464.70" r="1.3" fill="#b66868" fill-opacity="0.92"/>
<circle cx="106.80" cy="482.70" r="1.3" fill="#b66868" fill-opacity="0.92"/>
<circle cx="90.43" cy="469.24" r="1.3" fill="#56608a" fill-opacity="0.92"/>
<circle cx="167.30" cy="448.80" r="1.3" fill="#56608a" fill-opacity="0.92"/>
<circle cx="54.50" cy="501.31" r="1.3" fill="#56608a" fill-opacity="0.92"/>
<circle cx="134.20" cy="426.30" r="1.3" fill="#b66868" fill-opacity="0.92"/>
<circle cx="52.90" cy="517.30" r="1.3" fill="#56608a" fill-opacity="0.92"/>
<circle cx="62.29" cy="481.42" r="1.3" fill="#56608a" fill-opacity="0.92"/>
<circle cx="98.60" cy="431.30" r="1.3" fill="#56608a" fill-opacity="0.92"/>
<circle cx="110.60" cy="430.10" r="1.3" fill="#56608a" fill-opacity="0.92"/>
<circle cx="71.10" cy="452.44" r="1.3" fill="#56608a" fill-opacity="0.92"/>
<circle cx="89.00" cy="487.50" r="1.3" fill="#b66868" fill-opacity="0.92"/>
<circle cx="157.70" cy="514.60" r="1.3" fill="#b66868" fill-opacity="0.92"/>
<circle cx="61.12" cy="494.65" r="1.3" fill="#56608a" fill-opacity="0.92"/>
<circle cx="77.00" cy="497.60" r="1.3" fill="#56608a" fill-opacity="0.92"/>
<circle cx="182.20" cy="376.00" r="1.3" fill="#b66868" fill-opacity="0.92"/>
<circle cx="67.30" cy="477.40" r="1.3" fill="#56608a" fill-opacity="0.92"/>
<circle cx="152.00" cy="471.00" r="1.3" fill="#56608a" fill-opacity="0.92"/>
<circle cx="84.90" cy="469.49" r="1.3" fill="#56608a" fill-opacity="0.92"/>
<circle cx="83.12" cy="456.26" r="1.3" fill="#56608a" fill-opacity="0.92"/>
<circle cx="95.20" cy="446.90" r="1.3" fill="#56608a" fill-opacity="0.92"/>
<circle cx="79.80" cy="476.40" r="1.3" fill="#56608a" fill-opacity="0.92"/>
<circle cx="83.70" cy="435.90" r="1.3" fill="#56608a" fill-opacity="0.92"/>
<circle cx="187.50" cy="348.10" r="1.3" fill="#56608a" fill-opacity="0.92"/>
<circle cx="76.00" cy="476.00" r="1.3" fill="#56608a" fill-opacity="0.92"/>
<circle cx="89.90" cy="448.80" r="1.3" fill="#56608a" fill-opacity="0.92"/>
<circle cx="75.47" cy="478.42" r="1.3" fill="#56608a" fill-opacity="0.92"/>
<circle cx="64.50" cy="488.00" r="1.3" fill="#56608a" fill-opacity="0.92"/>
<circle cx="95.20" cy="499.50" r="1.3" fill="#56608a" fill-opacity="0.92"/>
<circle cx="86.10" cy="505.80" r="1.3" fill="#b66868" fill-opacity="0.92"/>
<circle cx="59.70" cy="477.90" r="1.3" fill="#56608a" fill-opacity="0.92"/>
<circle cx="70.20" cy="512.00" r="1.3" fill="#56608a" fill-opacity="0.92"/>
<circle cx="108.85" cy="464.69" r="1.3" fill="#b66868" fill-opacity="0.92"/>
<circle cx="191.03" cy="400.80" r="1.3" fill="#56608a" fill-opacity="0.92"/>
<circle cx="53.90" cy="514.40" r="1.3" fill="#56608a" fill-opacity="0.92"/>
<circle cx="72.20" cy="498.10" r="1.3" fill="#56608a" fill-opacity="0.92"/>
<circle cx="85.91" cy="479.93" r="1.3" fill="#56608a" fill-opacity="0.92"/>
<circle cx="67.80" cy="436.80" r="1.3" fill="#56608a" fill-opacity="0.92"/>
<circle cx="161.60" cy="427.70" r="1.3" fill="#56608a" fill-opacity="0.92"/>
<circle cx="57.70" cy="504.80" r="1.3" fill="#b66868" fill-opacity="0.92"/>
<circle cx="125.53" cy="436.25" r="1.3" fill="#56608a" fill-opacity="0.92"/>
<circle cx="124.60" cy="420.50" r="1.3" fill="#56608a" fill-opacity="0.92"/>
<circle cx="110.60" cy="487.00" r="1.3" fill="#56608a" fill-opacity="0.92"/>
<circle cx="127.90" cy="471.90" r="1.3" fill="#b66868" fill-opacity="0.92"/>
<circle cx="59.20" cy="471.90" r="1.3" fill="#56608a" fill-opacity="0.92"/>
<circle cx="140.80" cy="390.80" r="1.3" fill="#b66868" fill-opacity="0.92"/>
<circle cx="149.10" cy="491.80" r="1.3" fill="#b66868" fill-opacity="0.92"/>
<circle cx="84.70" cy="471.90" r="1.3" fill="#56608a" fill-opacity="0.92"/>
<circle cx="102.90" cy="422.40" r="1.3" fill="#56608a" fill-opacity="0.92"/>
<circle cx="77.90" cy="467.10" r="1.3" fill="#56608a" fill-opacity="0.92"/>
<circle cx="145.20" cy="467.10" r="1.3" fill="#56608a" fill-opacity="0.92"/>
<circle cx="162.50" cy="421.90" r="1.3" fill="#56608a" fill-opacity="0.92"/>
<circle cx="53.02" cy="515.21" r="1.3" fill="#b66868" fill-opacity="0.92"/>
<circle cx="112.10" cy="440.20" r="1.3" fill="#b66868" fill-opacity="0.92"/>
<circle cx="105.40" cy="415.80" r="1.3" fill="#56608a" fill-opacity="0.92"/>
<circle cx="78.60" cy="504.52" r="1.3" fill="#56608a" fill-opacity="0.92"/>
<circle cx="171.20" cy="461.90" r="1.3" fill="#56608a" fill-opacity="0.92"/>
<circle cx="111.60" cy="484.10" r="1.3" fill="#56608a" fill-opacity="0.92"/>
<circle cx="55.44" cy="518.83" r="1.3" fill="#56608a" fill-opacity="0.92"/>
<circle cx="64.50" cy="492.30" r="1.3" fill="#56608a" fill-opacity="0.92"/>
<circle cx="63.19" cy="499.51" r="1.3" fill="#56608a" fill-opacity="0.92"/>
<circle cx="128.90" cy="414.80" r="1.3" fill="#b66868" fill-opacity="0.92"/>
<circle cx="79.78" cy="469.82" r="1.3" fill="#56608a" fill-opacity="0.92"/>
<circle cx="85.60" cy="445.20" r="1.3" fill="#b66868" fill-opacity="0.92"/>
<circle cx="92.30" cy="450.80" r="1.3" fill="#b66868" fill-opacity="0.92"/>
<circle cx="64.71" cy="481.49" r="1.3" fill="#b66868" fill-opacity="0.92"/>
<circle cx="189.10" cy="414.80" r="1.3" fill="#b66868" fill-opacity="0.92"/>
<circle cx="75.00" cy="495.20" r="1.3" fill="#b66868" fill-opacity="0.92"/>
<circle cx="121.26" cy="468.03" r="1.3" fill="#b66868" fill-opacity="0.92"/>
<circle cx="104.80" cy="479.82" r="1.3" fill="#56608a" fill-opacity="0.92"/>
<circle cx="78.30" cy="409.10" r="1.3" fill="#56608a" fill-opacity="0.92"/>
<circle cx="169.30" cy="433.10" r="1.3" fill="#56608a" fill-opacity="0.92"/>
<circle cx="195.20" cy="437.30" r="1.3" fill="#56608a" fill-opacity="0.92"/>
<circle cx="83.70" cy="490.90" r="1.3" fill="#b66868" fill-opacity="0.92"/>
<circle cx="173.10" cy="397.90" r="1.3" fill="#56608a" fill-opacity="0.92"/>
<circle cx="73.10" cy="489.40" r="1.3" fill="#b66868" fill-opacity="0.92"/>
<circle cx="68.10" cy="476.48" r="1.3" fill="#b66868" fill-opacity="0.92"/>
<circle cx="91.90" cy="510.10" r="1.3" fill="#b66868" fill-opacity="0.92"/>
<circle cx="80.11" cy="506.23" r="1.3" fill="#56608a" fill-opacity="0.92"/>
<circle cx="113.50" cy="466.20" r="1.3" fill="#b66868" fill-opacity="0.92"/>
<circle cx="59.83" cy="503.45" r="1.3" fill="#56608a" fill-opacity="0.92"/>
<circle cx="115.40" cy="484.60" r="1.3" fill="#56608a" fill-opacity="0.92"/>
<circle cx="52.90" cy="510.60" r="1.3" fill="#56608a" fill-opacity="0.92"/>
<circle cx="190.80" cy="320.60" r="1.3" fill="#b66868" fill-opacity="0.92"/>
<circle cx="120.70" cy="475.50" r="1.3" fill="#b66868" fill-opacity="0.92"/>
<circle cx="135.10" cy="443.10" r="1.3" fill="#b66868" fill-opacity="0.92"/>
<circle cx="99.10" cy="436.80" r="1.3" fill="#56608a" fill-opacity="0.92"/>
<circle cx="138.50" cy="432.50" r="1.3" fill="#56608a" fill-opacity="0.92"/>
<circle cx="188.50" cy="460.40" r="1.3" fill="#b66868" fill-opacity="0.92"/>
<circle cx="55.46" cy="517.32" r="1.3" fill="#56608a" fill-opacity="0.92"/>
<circle cx="59.70" cy="516.30" r="1.3" fill="#56608a" fill-opacity="0.92"/>
<circle cx="99.60" cy="450.30" r="1.3" fill="#56608a" fill-opacity="0.92"/>
<circle cx="54.17" cy="497.75" r="1.3" fill="#56608a" fill-opacity="0.92"/>
<circle cx="73.10" cy="509.10" r="1.3" fill="#56608a" fill-opacity="0.92"/>
<circle cx="58.03" cy="489.80" r="1.3" fill="#56608a" fill-opacity="0.92"/>
<circle cx="66.40" cy="502.90" r="1.3" fill="#b66868" fill-opacity="0.92"/>
<circle cx="56.73" cy="500.51" r="1.3" fill="#56608a" fill-opacity="0.92"/>
<circle cx="154.50" cy="407.50" r="1.3" fill="#56608a" fill-opacity="0.92"/>
<circle cx="101.50" cy="480.80" r="1.3" fill="#b66868" fill-opacity="0.92"/>
<circle cx="145.79" cy="438.26" r="1.3" fill="#56608a" fill-opacity="0.92"/>
<circle cx="150.00" cy="482.70" r="1.3" fill="#56608a" fill-opacity="0.92"/>
<circle cx="61.55" cy="494.73" r="1.3" fill="#56608a" fill-opacity="0.92"/>
<circle cx="59.70" cy="498.10" r="1.3" fill="#56608a" fill-opacity="0.92"/>
<circle cx="109.70" cy="443.10" r="1.3" fill="#56608a" fill-opacity="0.92"/>
<circle cx="52.90" cy="482.70" r="1.3" fill="#56608a" fill-opacity="0.92"/>
<circle cx="116.40" cy="479.30" r="1.3" fill="#56608a" fill-opacity="0.92"/>
<circle cx="170.68" cy="438.09" r="1.3" fill="#b66868" fill-opacity="0.92"/>
<circle cx="66.11" cy="476.43" r="1.3" fill="#56608a" fill-opacity="0.92"/>
<circle cx="161.60" cy="392.70" r="1.3" fill="#b66868" fill-opacity="0.92"/>
<circle cx="91.40" cy="495.70" r="1.3" fill="#56608a" fill-opacity="0.92"/>
<circle cx="61.97" cy="508.68" r="1.3" fill="#b66868" fill-opacity="0.92"/>
<circle cx="121.14" cy="451.80" r="1.3" fill="#b66868" fill-opacity="0.92"/>
<circle cx="78.90" cy="501.00" r="1.3" fill="#b66868" fill-opacity="0.92"/>
<circle cx="190.40" cy="498.80" r="1.3" fill="#b66868" fill-opacity="0.92"/>
<circle cx="174.10" cy="422.90" r="1.3" fill="#b66868" fill-opacity="0.92"/>
<circle cx="169.50" cy="373.70" r="1.3" fill="#b66868" fill-opacity="0.92"/>
<circle cx="202.00" cy="453.70" r="1.3" fill="#b66868" fill-opacity="0.92"/>
<circle cx="68.30" cy="482.70" r="1.3" fill="#b66868" fill-opacity="0.92"/>
<circle cx="105.30" cy="437.80" r="1.3" fill="#b66868" fill-opacity="0.92"/>
<circle cx="65.25" cy="498.14" r="1.3" fill="#56608a" fill-opacity="0.92"/>
<circle cx="80.80" cy="499.50" r="1.3" fill="#b66868" fill-opacity="0.92"/>
<circle cx="172.50" cy="471.90" r="1.3" fill="#56608a" fill-opacity="0.92"/>
<circle cx="163.50" cy="424.80" r="1.3" fill="#56608a" fill-opacity="0.92"/>
<circle cx="156.05" cy="431.77" r="1.3" fill="#56608a" fill-opacity="0.92"/>
<circle cx="88.50" cy="445.00" r="1.3" fill="#56608a" fill-opacity="0.92"/>
<circle cx="108.20" cy="431.50" r="1.3" fill="#b66868" fill-opacity="0.92"/>
<circle cx="53.57" cy="494.85" r="1.3" fill="#b66868" fill-opacity="0.92"/>
<circle cx="89.45" cy="463.52" r="1.3" fill="#b66868" fill-opacity="0.92"/>
<circle cx="177.50" cy="411.40" r="1.3" fill="#b66868" fill-opacity="0.92"/>
<circle cx="58.18" cy="507.35" r="1.3" fill="#56608a" fill-opacity="0.92"/>
<circle cx="137.10" cy="420.50" r="1.3" fill="#56608a" fill-opacity="0.92"/>
<circle cx="68.80" cy="449.30" r="1.3" fill="#b66868" fill-opacity="0.92"/>
<circle cx="94.30" cy="405.60" r="1.3" fill="#56608a" fill-opacity="0.92"/>
<circle cx="79.80" cy="467.60" r="1.3" fill="#56608a" fill-opacity="0.92"/>
<circle cx="86.60" cy="455.10" r="1.3" fill="#b66868" fill-opacity="0.92"/>
<circle cx="140.00" cy="498.60" r="1.3" fill="#b66868" fill-opacity="0.92"/>
<circle cx="67.30" cy="464.20" r="1.3" fill="#56608a" fill-opacity="0.92"/>
<circle cx="57.70" cy="511.50" r="1.3" fill="#56608a" fill-opacity="0.92"/>
<circle cx="137.50" cy="434.90" r="1.3" fill="#56608a" fill-opacity="0.92"/>
<circle cx="73.15" cy="442.11" r="1.3" fill="#b66868" fill-opacity="0.92"/>
<circle cx="102.00" cy="445.50" r="1.3" fill="#56608a" fill-opacity="0.92"/>
<circle cx="78.40" cy="455.60" r="1.3" fill="#b66868" fill-opacity="0.92"/>
<circle cx="66.60" cy="510.70" r="1.3" fill="#56608a" fill-opacity="0.92"/>
<circle cx="184.70" cy="437.30" r="1.3" fill="#56608a" fill-opacity="0.92"/>
<circle cx="140.90" cy="470.00" r="1.3" fill="#56608a" fill-opacity="0.92"/>
<circle cx="85.60" cy="484.60" r="1.3" fill="#56608a" fill-opacity="0.92"/>
<circle cx="91.40" cy="477.90" r="1.3" fill="#56608a" fill-opacity="0.92"/>
<circle cx="178.90" cy="416.40" r="1.3" fill="#b66868" fill-opacity="0.92"/>
<circle cx="84.30" cy="390.20" r="1.3" fill="#56608a" fill-opacity="0.92"/>
<circle cx="67.38" cy="492.07" r="1.3" fill="#b66868" fill-opacity="0.92"/>
<circle cx="68.80" cy="498.28" r="1.3" fill="#56608a" fill-opacity="0.92"/>
<circle cx="59.95" cy="495.15" r="1.3" fill="#b66868" fill-opacity="0.92"/>
<circle cx="70.20" cy="495.20" r="1.3" fill="#56608a" fill-opacity="0.92"/>
<circle cx="102.90" cy="433.00" r="1.3" fill="#56608a" fill-opacity="0.92"/>
<circle cx="152.90" cy="382.50" r="1.3" fill="#b66868" fill-opacity="0.92"/>
<circle cx="90.00" cy="388.50" r="1.3" fill="#56608a" fill-opacity="0.92"/>
<circle cx="186.60" cy="458.50" r="1.3" fill="#56608a" fill-opacity="0.92"/>
<circle cx="75.00" cy="471.00" r="1.3" fill="#56608a" fill-opacity="0.92"/>
<circle cx="67.32" cy="457.77" r="1.3" fill="#56608a" fill-opacity="0.92"/>
<circle cx="179.80" cy="487.30" r="1.3" fill="#56608a" fill-opacity="0.92"/>
<circle cx="190.40" cy="464.20" r="1.3" fill="#b66868" fill-opacity="0.92"/>
<circle cx="101.50" cy="464.20" r="1.3" fill="#56608a" fill-opacity="0.92"/>
<circle cx="140.90" cy="428.20" r="1.3" fill="#56608a" fill-opacity="0.92"/>
<circle cx="158.79" cy="435.17" r="1.3" fill="#56608a" fill-opacity="0.92"/>
<circle cx="63.69" cy="501.73" r="1.3" fill="#b66868" fill-opacity="0.92"/>
<circle cx="84.21" cy="479.34" r="1.3" fill="#56608a" fill-opacity="0.92"/>
<circle cx="109.20" cy="454.10" r="1.3" fill="#56608a" fill-opacity="0.92"/>
<circle cx="154.80" cy="462.70" r="1.3" fill="#56608a" fill-opacity="0.92"/>
<circle cx="84.70" cy="502.90" r="1.3" fill="#b66868" fill-opacity="0.92"/>
<circle cx="174.10" cy="491.50" r="1.3" fill="#b66868" fill-opacity="0.92"/>
<circle cx="163.50" cy="477.70" r="1.3" fill="#b66868" fill-opacity="0.92"/>
<circle cx="125.00" cy="413.90" r="1.3" fill="#56608a" fill-opacity="0.92"/>
<circle cx="94.42" cy="465.33" r="1.3" fill="#b66868" fill-opacity="0.92"/>
<circle cx="99.60" cy="499.00" r="1.3" fill="#56608a" fill-opacity="0.92"/>
<circle cx="118.24" cy="452.32" r="1.3" fill="#56608a" fill-opacity="0.92"/>
<circle cx="73.10" cy="465.20" r="1.3" fill="#56608a" fill-opacity="0.92"/>
<circle cx="71.46" cy="494.18" r="1.3" fill="#56608a" fill-opacity="0.92"/>
<circle cx="96.67" cy="463.89" r="1.3" fill="#56608a" fill-opacity="0.92"/>
<circle cx="135.60" cy="517.30" r="1.3" fill="#b66868" fill-opacity="0.92"/>
<circle cx="91.90" cy="431.50" r="1.3" fill="#56608a" fill-opacity="0.92"/>
<circle cx="194.30" cy="486.30" r="1.3" fill="#56608a" fill-opacity="0.92"/>
<circle cx="116.40" cy="450.80" r="1.3" fill="#56608a" fill-opacity="0.92"/>
<circle cx="81.50" cy="449.61" r="1.3" fill="#56608a" fill-opacity="0.92"/>
<circle cx="186.60" cy="441.20" r="1.3" fill="#b66868" fill-opacity="0.92"/>
<circle cx="196.20" cy="411.00" r="1.3" fill="#56608a" fill-opacity="0.92"/>
<circle cx="68.53" cy="484.44" r="1.3" fill="#56608a" fill-opacity="0.92"/>
<circle cx="100.60" cy="345.00" r="1.3" fill="#56608a" fill-opacity="0.92"/>
<circle cx="165.01" cy="458.39" r="1.3" fill="#b66868" fill-opacity="0.92"/>
<circle cx="55.30" cy="473.80" r="1.3" fill="#b66868" fill-opacity="0.92"/>
<circle cx="149.60" cy="467.10" r="1.3" fill="#b66868" fill-opacity="0.92"/>
<circle cx="83.35" cy="489.20" r="1.3" fill="#56608a" fill-opacity="0.92"/>
<circle cx="106.80" cy="494.70" r="1.3" fill="#56608a" fill-opacity="0.92"/>
<circle cx="79.80" cy="493.30" r="1.3" fill="#56608a" fill-opacity="0.92"/>
<circle cx="72.20" cy="458.90" r="1.3" fill="#56608a" fill-opacity="0.92"/>
<circle cx="75.00" cy="502.40" r="1.3" fill="#56608a" fill-opacity="0.92"/>
<circle cx="133.26" cy="484.13" r="1.3" fill="#b66868" fill-opacity="0.92"/>
<circle cx="123.60" cy="440.20" r="1.3" fill="#b66868" fill-opacity="0.92"/>
<circle cx="166.00" cy="411.00" r="1.3" fill="#b66868" fill-opacity="0.92"/>
<circle cx="62.34" cy="507.15" r="1.3" fill="#56608a" fill-opacity="0.92"/>
<circle cx="153.90" cy="433.50" r="1.3" fill="#56608a" fill-opacity="0.92"/>
<circle cx="61.63" cy="503.15" r="1.3" fill="#56608a" fill-opacity="0.92"/>
<circle cx="68.30" cy="503.80" r="1.3" fill="#b66868" fill-opacity="0.92"/>
<circle cx="54.80" cy="506.70" r="1.3" fill="#56608a" fill-opacity="0.92"/>
<circle cx="154.80" cy="475.80" r="1.3" fill="#56608a" fill-opacity="0.92"/>
<circle cx="57.70" cy="505.33" r="1.3" fill="#b66868" fill-opacity="0.92"/>
<circle cx="111.60" cy="458.90" r="1.3" fill="#56608a" fill-opacity="0.92"/>
<circle cx="60.70" cy="512.51" r="1.3" fill="#b66868" fill-opacity="0.92"/>
<circle cx="81.62" cy="483.15" r="1.3" fill="#56608a" fill-opacity="0.92"/>
<circle cx="157.70" cy="517.10" r="1.3" fill="#b66868" fill-opacity="0.92"/>
<circle cx="89.50" cy="465.20" r="1.3" fill="#56608a" fill-opacity="0.92"/>
<circle cx="64.60" cy="501.32" r="1.3" fill="#b66868" fill-opacity="0.92"/>
<circle cx="58.27" cy="509.50" r="1.3" fill="#56608a" fill-opacity="0.92"/>
<circle cx="157.70" cy="471.50" r="1.3" fill="#b66868" fill-opacity="0.92"/>
<circle cx="71.00" cy="437.10" r="1.3" fill="#56608a" fill-opacity="0.92"/>
<circle cx="61.60" cy="500.00" r="1.3" fill="#56608a" fill-opacity="0.92"/>
<circle cx="52.53" cy="491.82" r="1.3" fill="#56608a" fill-opacity="0.92"/>
<circle cx="55.10" cy="503.00" r="1.3" fill="#56608a" fill-opacity="0.92"/>
<circle cx="76.32" cy="475.39" r="1.3" fill="#b66868" fill-opacity="0.92"/>
<circle cx="102.40" cy="440.20" r="1.3" fill="#56608a" fill-opacity="0.92"/>
<circle cx="125.00" cy="448.80" r="1.3" fill="#b66868" fill-opacity="0.92"/>
<circle cx="120.20" cy="421.00" r="1.3" fill="#b66868" fill-opacity="0.92"/>
<circle cx="132.70" cy="404.70" r="1.3" fill="#56608a" fill-opacity="0.92"/>
<circle cx="88.50" cy="458.50" r="1.3" fill="#56608a" fill-opacity="0.92"/>
<line x1="51.00" y1="499.74" x2="235.42" y2="407.27" stroke="#c0182e" stroke-width="1.6" stroke-linecap="butt"/>
<line x1="51.00" y1="493.37" x2="200.33" y2="418.41" stroke="#1d4775" stroke-width="1.6" stroke-linecap="butt"/>
<text x="278.40" y="305.10" font-size="10.5" text-anchor="middle" fill="#111" stroke="#111" stroke-width="0.22" font-weight="bold">D</text>
<line x1="319.00" y1="310.80" x2="319.00" y2="531.45" stroke="#262626" stroke-width="1.3" stroke-linecap="butt"/>
<line x1="318.35" y1="530.80" x2="513.00" y2="530.80" stroke="#262626" stroke-width="1.3" stroke-linecap="butt"/>
<line x1="315.80" y1="520.60" x2="319.00" y2="520.60" stroke="#262626" stroke-width="1.1" stroke-linecap="butt"/>
<text x="0" y="0" transform="translate(312.70,523.10) rotate(0) scale(0.9,1)" font-size="8.9" text-anchor="end" fill="#262626" stroke="#262626" stroke-width="0.15" font-weight="normal">0</text>
<line x1="315.80" y1="470.60" x2="319.00" y2="470.60" stroke="#262626" stroke-width="1.1" stroke-linecap="butt"/>
<text x="0" y="0" transform="translate(312.70,473.10) rotate(0) scale(0.9,1)" font-size="8.9" text-anchor="end" fill="#262626" stroke="#262626" stroke-width="0.15" font-weight="normal">100</text>
<line x1="315.80" y1="420.60" x2="319.00" y2="420.60" stroke="#262626" stroke-width="1.1" stroke-linecap="butt"/>
<text x="0" y="0" transform="translate(312.70,423.10) rotate(0) scale(0.9,1)" font-size="8.9" text-anchor="end" fill="#262626" stroke="#262626" stroke-width="0.15" font-weight="normal">200</text>
<line x1="315.80" y1="370.60" x2="319.00" y2="370.60" stroke="#262626" stroke-width="1.1" stroke-linecap="butt"/>
<text x="0" y="0" transform="translate(312.70,373.10) rotate(0) scale(0.9,1)" font-size="8.9" text-anchor="end" fill="#262626" stroke="#262626" stroke-width="0.15" font-weight="normal">300</text>
<line x1="315.80" y1="320.60" x2="319.00" y2="320.60" stroke="#262626" stroke-width="1.1" stroke-linecap="butt"/>
<text x="0" y="0" transform="translate(312.70,323.10) rotate(0) scale(0.9,1)" font-size="8.9" text-anchor="end" fill="#262626" stroke="#262626" stroke-width="0.15" font-weight="normal">400</text>
<line x1="317.00" y1="495.60" x2="319.00" y2="495.60" stroke="#262626" stroke-width="0.9" stroke-linecap="butt"/>
<line x1="317.00" y1="445.60" x2="319.00" y2="445.60" stroke="#262626" stroke-width="0.9" stroke-linecap="butt"/>
<line x1="317.00" y1="395.60" x2="319.00" y2="395.60" stroke="#262626" stroke-width="0.9" stroke-linecap="butt"/>
<line x1="317.00" y1="345.60" x2="319.00" y2="345.60" stroke="#262626" stroke-width="0.9" stroke-linecap="butt"/>
<line x1="319.00" y1="530.80" x2="319.00" y2="533.80" stroke="#262626" stroke-width="1.0" stroke-linecap="butt"/>
<text x="0" y="0" transform="translate(319.00,544.40) rotate(0) scale(0.9,1)" font-size="8.9" text-anchor="middle" fill="#262626" stroke="#262626" stroke-width="0.15" font-weight="normal">0</text>
<line x1="359.85" y1="530.80" x2="359.85" y2="533.80" stroke="#262626" stroke-width="1.0" stroke-linecap="butt"/>
<text x="0" y="0" transform="translate(359.85,544.40) rotate(0) scale(0.9,1)" font-size="8.9" text-anchor="middle" fill="#262626" stroke="#262626" stroke-width="0.15" font-weight="normal">5</text>
<line x1="400.70" y1="530.80" x2="400.70" y2="533.80" stroke="#262626" stroke-width="1.0" stroke-linecap="butt"/>
<text x="0" y="0" transform="translate(400.70,544.40) rotate(0) scale(0.9,1)" font-size="8.9" text-anchor="middle" fill="#262626" stroke="#262626" stroke-width="0.15" font-weight="normal">10</text>
<line x1="441.55" y1="530.80" x2="441.55" y2="533.80" stroke="#262626" stroke-width="1.0" stroke-linecap="butt"/>
<text x="0" y="0" transform="translate(441.55,544.40) rotate(0) scale(0.9,1)" font-size="8.9" text-anchor="middle" fill="#262626" stroke="#262626" stroke-width="0.15" font-weight="normal">15</text>
<line x1="482.40" y1="530.80" x2="482.40" y2="533.80" stroke="#262626" stroke-width="1.0" stroke-linecap="butt"/>
<text x="0" y="0" transform="translate(482.40,544.40) rotate(0) scale(0.9,1)" font-size="8.9" text-anchor="middle" fill="#262626" stroke="#262626" stroke-width="0.15" font-weight="normal">20</text>
<line x1="339.43" y1="530.80" x2="339.43" y2="532.80" stroke="#262626" stroke-width="0.9" stroke-linecap="butt"/>
<line x1="380.27" y1="530.80" x2="380.27" y2="532.80" stroke="#262626" stroke-width="0.9" stroke-linecap="butt"/>
<line x1="421.12" y1="530.80" x2="421.12" y2="532.80" stroke="#262626" stroke-width="0.9" stroke-linecap="butt"/>
<line x1="461.98" y1="530.80" x2="461.98" y2="532.80" stroke="#262626" stroke-width="0.9" stroke-linecap="butt"/>
<line x1="502.82" y1="530.80" x2="502.82" y2="532.80" stroke="#262626" stroke-width="0.9" stroke-linecap="butt"/>
<text x="0" y="0" transform="translate(293.40,421.00) rotate(-90) scale(0.72,1)" font-size="8.8" text-anchor="middle" fill="#262626" stroke="#262626" stroke-width="0.4" font-weight="normal">IgM value</text>
<text x="0" y="0" transform="translate(416.30,557.00) rotate(0) scale(0.727,1)" font-size="8.8" text-anchor="middle" fill="#262626" stroke="#262626" stroke-width="0.4" font-weight="normal">Age at diagnosis</text>
<circle cx="393.00" cy="463.80" r="1.3" fill="#b66868" fill-opacity="0.92"/>
<circle cx="336.83" cy="461.05" r="1.3" fill="#56608a" fill-opacity="0.92"/>
<circle cx="324.18" cy="454.16" r="1.3" fill="#56608a" fill-opacity="0.92"/>
<circle cx="421.30" cy="509.40" r="1.3" fill="#b66868" fill-opacity="0.92"/>
<circle cx="341.12" cy="458.22" r="1.3" fill="#56608a" fill-opacity="0.92"/>
<circle cx="381.50" cy="384.50" r="1.3" fill="#56608a" fill-opacity="0.92"/>
<circle cx="392.14" cy="468.69" r="1.3" fill="#b66868" fill-opacity="0.92"/>
<circle cx="459.40" cy="472.90" r="1.3" fill="#b66868" fill-opacity="0.92"/>
<circle cx="324.80" cy="496.20" r="1.3" fill="#56608a" fill-opacity="0.92"/>
<circle cx="356.00" cy="441.60" r="1.3" fill="#56608a" fill-opacity="0.92"/>
<circle cx="384.40" cy="458.50" r="1.3" fill="#56608a" fill-opacity="0.92"/>
<circle cx="425.70" cy="498.80" r="1.3" fill="#b66868" fill-opacity="0.92"/>
<circle cx="331.50" cy="479.80" r="1.3" fill="#56608a" fill-opacity="0.92"/>
<circle cx="396.90" cy="447.90" r="1.3" fill="#b66868" fill-opacity="0.92"/>
<circle cx="342.56" cy="486.31" r="1.3" fill="#56608a" fill-opacity="0.92"/>
<circle cx="435.30" cy="444.00" r="1.3" fill="#b66868" fill-opacity="0.92"/>
<circle cx="353.60" cy="476.90" r="1.3" fill="#b66868" fill-opacity="0.92"/>
<circle cx="330.50" cy="498.10" r="1.3" fill="#b66868" fill-opacity="0.92"/>
<circle cx="320.80" cy="499.07" r="1.3" fill="#b66868" fill-opacity="0.92"/>
<circle cx="484.40" cy="496.00" r="1.3" fill="#b66868" fill-opacity="0.92"/>
<circle cx="344.00" cy="451.70" r="1.3" fill="#56608a" fill-opacity="0.92"/>
<circle cx="445.50" cy="415.80" r="1.3" fill="#56608a" fill-opacity="0.92"/>
<circle cx="346.40" cy="430.10" r="1.3" fill="#56608a" fill-opacity="0.92"/>
<circle cx="460.30" cy="456.50" r="1.3" fill="#b66868" fill-opacity="0.92"/>
<circle cx="385.80" cy="467.10" r="1.3" fill="#56608a" fill-opacity="0.92"/>
<circle cx="347.80" cy="480.80" r="1.3" fill="#56608a" fill-opacity="0.92"/>
<circle cx="400.70" cy="445.80" r="1.3" fill="#b66868" fill-opacity="0.92"/>
<circle cx="346.90" cy="489.00" r="1.3" fill="#56608a" fill-opacity="0.92"/>
<circle cx="434.40" cy="476.70" r="1.3" fill="#b66868" fill-opacity="0.92"/>
<circle cx="430.78" cy="438.13" r="1.3" fill="#b66868" fill-opacity="0.92"/>
<circle cx="441.70" cy="508.50" r="1.3" fill="#b66868" fill-opacity="0.92"/>
<circle cx="453.60" cy="485.40" r="1.3" fill="#b66868" fill-opacity="0.92"/>
<circle cx="333.36" cy="445.35" r="1.3" fill="#56608a" fill-opacity="0.92"/>
<circle cx="470.00" cy="485.40" r="1.3" fill="#b66868" fill-opacity="0.92"/>
<circle cx="446.90" cy="429.60" r="1.3" fill="#b66868" fill-opacity="0.92"/>
<circle cx="353.60" cy="400.40" r="1.3" fill="#56608a" fill-opacity="0.92"/>
<circle cx="385.43" cy="475.57" r="1.3" fill="#b66868" fill-opacity="0.92"/>
<circle cx="339.20" cy="469.00" r="1.3" fill="#56608a" fill-opacity="0.92"/>
<circle cx="343.00" cy="467.10" r="1.3" fill="#b66868" fill-opacity="0.92"/>
<circle cx="360.30" cy="451.70" r="1.3" fill="#56608a" fill-opacity="0.92"/>
<circle cx="374.80" cy="502.90" r="1.3" fill="#56608a" fill-opacity="0.92"/>
<circle cx="386.64" cy="498.71" r="1.3" fill="#b66868" fill-opacity="0.92"/>
<circle cx="322.21" cy="474.88" r="1.3" fill="#b66868" fill-opacity="0.92"/>
<circle cx="341.10" cy="495.70" r="1.3" fill="#56608a" fill-opacity="0.92"/>
<circle cx="324.80" cy="492.30" r="1.3" fill="#56608a" fill-opacity="0.92"/>
<circle cx="430.50" cy="483.50" r="1.3" fill="#b66868" fill-opacity="0.92"/>
<circle cx="376.20" cy="474.30" r="1.3" fill="#56608a" fill-opacity="0.92"/>
<circle cx="467.50" cy="434.00" r="1.3" fill="#b66868" fill-opacity="0.92"/>
<circle cx="409.40" cy="494.70" r="1.3" fill="#b66868" fill-opacity="0.92"/>
<circle cx="462.80" cy="477.30" r="1.3" fill="#b66868" fill-opacity="0.92"/>
<circle cx="362.80" cy="494.70" r="1.3" fill="#56608a" fill-opacity="0.92"/>
<circle cx="403.60" cy="499.00" r="1.3" fill="#56608a" fill-opacity="0.92"/>
<circle cx="349.80" cy="461.30" r="1.3" fill="#56608a" fill-opacity="0.92"/>
<circle cx="462.30" cy="412.50" r="1.3" fill="#56608a" fill-opacity="0.92"/>
<circle cx="382.50" cy="454.10" r="1.3" fill="#56608a" fill-opacity="0.92"/>
<circle cx="350.70" cy="501.00" r="1.3" fill="#b66868" fill-opacity="0.92"/>
<circle cx="450.70" cy="440.20" r="1.3" fill="#56608a" fill-opacity="0.92"/>
<circle cx="328.60" cy="469.00" r="1.3" fill="#56608a" fill-opacity="0.92"/>
<circle cx="365.20" cy="473.80" r="1.3" fill="#56608a" fill-opacity="0.92"/>
<circle cx="370.40" cy="443.60" r="1.3" fill="#56608a" fill-opacity="0.92"/>
<circle cx="345.00" cy="411.60" r="1.3" fill="#56608a" fill-opacity="0.92"/>
<circle cx="425.70" cy="460.40" r="1.3" fill="#56608a" fill-opacity="0.92"/>
<circle cx="407.50" cy="472.40" r="1.3" fill="#b66868" fill-opacity="0.92"/>
<circle cx="432.05" cy="481.72" r="1.3" fill="#b66868" fill-opacity="0.92"/>
<circle cx="420.90" cy="450.80" r="1.3" fill="#b66868" fill-opacity="0.92"/>
<circle cx="380.55" cy="465.18" r="1.3" fill="#56608a" fill-opacity="0.92"/>
<circle cx="397.18" cy="464.32" r="1.3" fill="#b66868" fill-opacity="0.92"/>
<circle cx="469.00" cy="460.00" r="1.3" fill="#56608a" fill-opacity="0.92"/>
<circle cx="334.40" cy="447.90" r="1.3" fill="#b66868" fill-opacity="0.92"/>
<circle cx="391.71" cy="493.72" r="1.3" fill="#b66868" fill-opacity="0.92"/>
<circle cx="322.80" cy="505.80" r="1.3" fill="#56608a" fill-opacity="0.92"/>
<circle cx="393.00" cy="471.00" r="1.3" fill="#56608a" fill-opacity="0.92"/>
<circle cx="320.90" cy="470.00" r="1.3" fill="#56608a" fill-opacity="0.92"/>
<circle cx="320.20" cy="466.67" r="1.3" fill="#56608a" fill-opacity="0.92"/>
<circle cx="336.80" cy="458.50" r="1.3" fill="#b66868" fill-opacity="0.92"/>
<circle cx="406.50" cy="478.80" r="1.3" fill="#56608a" fill-opacity="0.92"/>
<circle cx="426.70" cy="478.70" r="1.3" fill="#56608a" fill-opacity="0.92"/>
<circle cx="416.10" cy="503.40" r="1.3" fill="#56608a" fill-opacity="0.92"/>
<circle cx="442.10" cy="476.70" r="1.3" fill="#b66868" fill-opacity="0.92"/>
<circle cx="328.60" cy="504.30" r="1.3" fill="#b66868" fill-opacity="0.92"/>
<circle cx="410.80" cy="467.10" r="1.3" fill="#b66868" fill-opacity="0.92"/>
<circle cx="359.40" cy="489.40" r="1.3" fill="#b66868" fill-opacity="0.92"/>
<circle cx="382.00" cy="494.70" r="1.3" fill="#56608a" fill-opacity="0.92"/>
<circle cx="383.40" cy="503.40" r="1.3" fill="#56608a" fill-opacity="0.92"/>
<circle cx="450.70" cy="464.20" r="1.3" fill="#b66868" fill-opacity="0.92"/>
<circle cx="327.70" cy="478.80" r="1.3" fill="#56608a" fill-opacity="0.92"/>
<circle cx="379.60" cy="482.70" r="1.3" fill="#56608a" fill-opacity="0.92"/>
<circle cx="332.77" cy="488.97" r="1.3" fill="#56608a" fill-opacity="0.92"/>
<circle cx="450.70" cy="446.00" r="1.3" fill="#56608a" fill-opacity="0.92"/>
<circle cx="326.70" cy="455.60" r="1.3" fill="#56608a" fill-opacity="0.92"/>
<circle cx="414.60" cy="395.60" r="1.3" fill="#56608a" fill-opacity="0.92"/>
<circle cx="352.20" cy="451.30" r="1.3" fill="#b66868" fill-opacity="0.92"/>
<circle cx="445.90" cy="460.40" r="1.3" fill="#b66868" fill-opacity="0.92"/>
<circle cx="329.42" cy="485.57" r="1.3" fill="#b66868" fill-opacity="0.92"/>
<circle cx="377.70" cy="462.80" r="1.3" fill="#56608a" fill-opacity="0.92"/>
<circle cx="359.77" cy="511.21" r="1.3" fill="#b66868" fill-opacity="0.92"/>
<circle cx="420.90" cy="461.30" r="1.3" fill="#b66868" fill-opacity="0.92"/>
<circle cx="425.70" cy="430.00" r="1.3" fill="#b66868" fill-opacity="0.92"/>
<circle cx="417.60" cy="499.00" r="1.3" fill="#b66868" fill-opacity="0.92"/>
<circle cx="344.00" cy="484.60" r="1.3" fill="#56608a" fill-opacity="0.92"/>
<circle cx="360.30" cy="482.70" r="1.3" fill="#b66868" fill-opacity="0.92"/>
<circle cx="337.80" cy="492.30" r="1.3" fill="#56608a" fill-opacity="0.92"/>
<circle cx="354.10" cy="502.90" r="1.3" fill="#56608a" fill-opacity="0.92"/>
<circle cx="437.66" cy="479.89" r="1.3" fill="#b66868" fill-opacity="0.92"/>
<circle cx="396.90" cy="452.70" r="1.3" fill="#b66868" fill-opacity="0.92"/>
<circle cx="325.70" cy="445.00" r="1.3" fill="#b66868" fill-opacity="0.92"/>
<circle cx="320.50" cy="485.58" r="1.3" fill="#56608a" fill-opacity="0.92"/>
<circle cx="377.70" cy="459.90" r="1.3" fill="#56608a" fill-opacity="0.92"/>
<circle cx="350.70" cy="421.00" r="1.3" fill="#56608a" fill-opacity="0.92"/>
<circle cx="334.10" cy="512.22" r="1.3" fill="#56608a" fill-opacity="0.92"/>
<circle cx="351.70" cy="464.70" r="1.3" fill="#b66868" fill-opacity="0.92"/>
<circle cx="376.20" cy="483.70" r="1.3" fill="#b66868" fill-opacity="0.92"/>
<circle cx="409.40" cy="369.70" r="1.3" fill="#b66868" fill-opacity="0.92"/>
<circle cx="320.90" cy="500.00" r="1.3" fill="#56608a" fill-opacity="0.92"/>
<circle cx="393.50" cy="488.50" r="1.3" fill="#56608a" fill-opacity="0.92"/>
<circle cx="455.50" cy="451.70" r="1.3" fill="#b66868" fill-opacity="0.92"/>
<circle cx="352.20" cy="460.90" r="1.3" fill="#b66868" fill-opacity="0.92"/>
<circle cx="392.10" cy="512.00" r="1.3" fill="#b66868" fill-opacity="0.92"/>
<circle cx="322.07" cy="478.87" r="1.3" fill="#56608a" fill-opacity="0.92"/>
<circle cx="323.30" cy="458.00" r="1.3" fill="#b66868" fill-opacity="0.92"/>
<circle cx="346.90" cy="477.90" r="1.3" fill="#56608a" fill-opacity="0.92"/>
<circle cx="431.50" cy="490.20" r="1.3" fill="#b66868" fill-opacity="0.92"/>
<circle cx="408.90" cy="426.70" r="1.3" fill="#56608a" fill-opacity="0.92"/>
<circle cx="364.70" cy="451.30" r="1.3" fill="#56608a" fill-opacity="0.92"/>
<circle cx="359.00" cy="401.80" r="1.3" fill="#b66868" fill-opacity="0.92"/>
<circle cx="323.80" cy="483.70" r="1.3" fill="#56608a" fill-opacity="0.92"/>
<circle cx="384.90" cy="491.30" r="1.3" fill="#b66868" fill-opacity="0.92"/>
<circle cx="429.35" cy="440.88" r="1.3" fill="#b66868" fill-opacity="0.92"/>
<circle cx="367.10" cy="488.50" r="1.3" fill="#56608a" fill-opacity="0.92"/>
<circle cx="334.90" cy="504.80" r="1.3" fill="#b66868" fill-opacity="0.92"/>
<circle cx="359.40" cy="495.20" r="1.3" fill="#b66868" fill-opacity="0.92"/>
<circle cx="350.70" cy="442.10" r="1.3" fill="#56608a" fill-opacity="0.92"/>
<circle cx="373.30" cy="468.10" r="1.3" fill="#56608a" fill-opacity="0.92"/>
<circle cx="390.10" cy="478.69" r="1.3" fill="#56608a" fill-opacity="0.92"/>
<circle cx="405.10" cy="485.60" r="1.3" fill="#56608a" fill-opacity="0.92"/>
<circle cx="332.83" cy="485.81" r="1.3" fill="#b66868" fill-opacity="0.92"/>
<circle cx="350.98" cy="482.91" r="1.3" fill="#56608a" fill-opacity="0.92"/>
<circle cx="452.14" cy="478.17" r="1.3" fill="#56608a" fill-opacity="0.92"/>
<circle cx="365.93" cy="463.28" r="1.3" fill="#56608a" fill-opacity="0.92"/>
<circle cx="440.70" cy="367.70" r="1.3" fill="#b66868" fill-opacity="0.92"/>
<circle cx="388.70" cy="469.50" r="1.3" fill="#b66868" fill-opacity="0.92"/>
<circle cx="432.69" cy="469.03" r="1.3" fill="#b66868" fill-opacity="0.92"/>
<circle cx="402.10" cy="411.00" r="1.3" fill="#b66868" fill-opacity="0.92"/>
<circle cx="415.60" cy="485.60" r="1.3" fill="#b66868" fill-opacity="0.92"/>
<circle cx="353.60" cy="485.60" r="1.3" fill="#b66868" fill-opacity="0.92"/>
<circle cx="350.70" cy="472.40" r="1.3" fill="#b66868" fill-opacity="0.92"/>
<circle cx="337.30" cy="432.50" r="1.3" fill="#56608a" fill-opacity="0.92"/>
<circle cx="338.20" cy="500.50" r="1.3" fill="#56608a" fill-opacity="0.92"/>
<circle cx="430.90" cy="428.70" r="1.3" fill="#56608a" fill-opacity="0.92"/>
<circle cx="381.00" cy="474.30" r="1.3" fill="#b66868" fill-opacity="0.92"/>
<circle cx="444.00" cy="467.10" r="1.3" fill="#b66868" fill-opacity="0.92"/>
<circle cx="347.80" cy="493.30" r="1.3" fill="#b66868" fill-opacity="0.92"/>
<circle cx="448.80" cy="481.50" r="1.3" fill="#b66868" fill-opacity="0.92"/>
<circle cx="445.50" cy="329.30" r="1.3" fill="#56608a" fill-opacity="0.92"/>
<circle cx="366.10" cy="454.10" r="1.3" fill="#b66868" fill-opacity="0.92"/>
<circle cx="376.70" cy="413.90" r="1.3" fill="#56608a" fill-opacity="0.92"/>
<circle cx="338.20" cy="502.40" r="1.3" fill="#56608a" fill-opacity="0.92"/>
<circle cx="345.02" cy="458.94" r="1.3" fill="#b66868" fill-opacity="0.92"/>
<circle cx="447.80" cy="487.30" r="1.3" fill="#b66868" fill-opacity="0.92"/>
<circle cx="390.50" cy="414.80" r="1.3" fill="#56608a" fill-opacity="0.92"/>
<circle cx="411.80" cy="420.50" r="1.3" fill="#b66868" fill-opacity="0.92"/>
<circle cx="437.30" cy="461.30" r="1.3" fill="#b66868" fill-opacity="0.92"/>
<circle cx="393.00" cy="477.40" r="1.3" fill="#b66868" fill-opacity="0.92"/>
<circle cx="331.50" cy="461.80" r="1.3" fill="#56608a" fill-opacity="0.92"/>
<circle cx="361.30" cy="476.40" r="1.3" fill="#56608a" fill-opacity="0.92"/>
<circle cx="328.10" cy="440.70" r="1.3" fill="#56608a" fill-opacity="0.92"/>
<circle cx="403.10" cy="452.20" r="1.3" fill="#b66868" fill-opacity="0.92"/>
<circle cx="421.90" cy="440.80" r="1.3" fill="#56608a" fill-opacity="0.92"/>
<circle cx="347.80" cy="455.10" r="1.3" fill="#56608a" fill-opacity="0.92"/>
<circle cx="444.00" cy="444.00" r="1.3" fill="#b66868" fill-opacity="0.92"/>
<circle cx="401.23" cy="465.16" r="1.3" fill="#b66868" fill-opacity="0.92"/>
<circle cx="329.63" cy="458.93" r="1.3" fill="#b66868" fill-opacity="0.92"/>
<circle cx="437.30" cy="469.02" r="1.3" fill="#b66868" fill-opacity="0.92"/>
<circle cx="432.50" cy="450.80" r="1.3" fill="#b66868" fill-opacity="0.92"/>
<circle cx="361.30" cy="461.30" r="1.3" fill="#56608a" fill-opacity="0.92"/>
<circle cx="321.47" cy="470.87" r="1.3" fill="#b66868" fill-opacity="0.92"/>
<circle cx="447.50" cy="434.40" r="1.3" fill="#56608a" fill-opacity="0.92"/>
<circle cx="418.00" cy="462.30" r="1.3" fill="#56608a" fill-opacity="0.92"/>
<circle cx="442.10" cy="481.50" r="1.3" fill="#56608a" fill-opacity="0.92"/>
<circle cx="319.84" cy="472.20" r="1.3" fill="#56608a" fill-opacity="0.92"/>
<circle cx="322.46" cy="506.80" r="1.3" fill="#b66868" fill-opacity="0.92"/>
<circle cx="365.20" cy="482.70" r="1.3" fill="#56608a" fill-opacity="0.92"/>
<circle cx="357.50" cy="490.90" r="1.3" fill="#56608a" fill-opacity="0.92"/>
<circle cx="334.40" cy="491.80" r="1.3" fill="#56608a" fill-opacity="0.92"/>
<circle cx="434.40" cy="471.90" r="1.3" fill="#b66868" fill-opacity="0.92"/>
<circle cx="328.10" cy="459.90" r="1.3" fill="#56608a" fill-opacity="0.92"/>
<circle cx="345.50" cy="363.30" r="1.3" fill="#b66868" fill-opacity="0.92"/>
<circle cx="346.90" cy="498.10" r="1.3" fill="#56608a" fill-opacity="0.92"/>
<circle cx="409.40" cy="487.00" r="1.3" fill="#b66868" fill-opacity="0.92"/>
<circle cx="366.10" cy="476.90" r="1.3" fill="#56608a" fill-opacity="0.92"/>
<circle cx="328.10" cy="500.00" r="1.3" fill="#56608a" fill-opacity="0.92"/>
<circle cx="369.50" cy="503.40" r="1.3" fill="#56608a" fill-opacity="0.92"/>
<circle cx="347.85" cy="470.86" r="1.3" fill="#56608a" fill-opacity="0.92"/>
<circle cx="370.40" cy="429.60" r="1.3" fill="#56608a" fill-opacity="0.92"/>
<circle cx="327.31" cy="455.33" r="1.3" fill="#b66868" fill-opacity="0.92"/>
<circle cx="340.60" cy="445.80" r="1.3" fill="#56608a" fill-opacity="0.92"/>
<circle cx="406.00" cy="437.80" r="1.3" fill="#56608a" fill-opacity="0.92"/>
<circle cx="436.30" cy="490.20" r="1.3" fill="#b66868" fill-opacity="0.92"/>
<circle cx="344.00" cy="490.90" r="1.3" fill="#b66868" fill-opacity="0.92"/>
<circle cx="426.70" cy="472.90" r="1.3" fill="#b66868" fill-opacity="0.92"/>
<circle cx="430.50" cy="493.10" r="1.3" fill="#56608a" fill-opacity="0.92"/>
<circle cx="368.00" cy="448.40" r="1.3" fill="#56608a" fill-opacity="0.92"/>
<circle cx="425.30" cy="375.00" r="1.3" fill="#56608a" fill-opacity="0.92"/>
<circle cx="364.20" cy="485.60" r="1.3" fill="#b66868" fill-opacity="0.92"/>
<circle cx="375.30" cy="498.10" r="1.3" fill="#56608a" fill-opacity="0.92"/>
<circle cx="343.50" cy="432.50" r="1.3" fill="#56608a" fill-opacity="0.92"/>
<circle cx="359.75" cy="489.55" r="1.3" fill="#b66868" fill-opacity="0.92"/>
<circle cx="434.40" cy="467.10" r="1.3" fill="#b66868" fill-opacity="0.92"/>
<circle cx="349.30" cy="507.20" r="1.3" fill="#56608a" fill-opacity="0.92"/>
<circle cx="357.50" cy="425.30" r="1.3" fill="#56608a" fill-opacity="0.92"/>
<circle cx="335.80" cy="452.70" r="1.3" fill="#b66868" fill-opacity="0.92"/>
<circle cx="331.50" cy="490.40" r="1.3" fill="#56608a" fill-opacity="0.92"/>
<circle cx="391.10" cy="492.30" r="1.3" fill="#56608a" fill-opacity="0.92"/>
<circle cx="388.20" cy="419.70" r="1.3" fill="#56608a" fill-opacity="0.92"/>
<circle cx="390.66" cy="487.73" r="1.3" fill="#b66868" fill-opacity="0.92"/>
<circle cx="328.10" cy="477.03" r="1.3" fill="#b66868" fill-opacity="0.92"/>
<circle cx="327.40" cy="506.64" r="1.3" fill="#56608a" fill-opacity="0.92"/>
<circle cx="356.00" cy="449.30" r="1.3" fill="#56608a" fill-opacity="0.92"/>
<circle cx="393.50" cy="485.60" r="1.3" fill="#b66868" fill-opacity="0.92"/>
<circle cx="327.70" cy="489.40" r="1.3" fill="#56608a" fill-opacity="0.92"/>
<circle cx="417.60" cy="443.60" r="1.3" fill="#b66868" fill-opacity="0.92"/>
<circle cx="344.50" cy="453.70" r="1.3" fill="#56608a" fill-opacity="0.92"/>
<circle cx="373.30" cy="434.90" r="1.3" fill="#56608a" fill-opacity="0.92"/>
<circle cx="345.00" cy="463.30" r="1.3" fill="#56608a" fill-opacity="0.92"/>
<circle cx="451.70" cy="470.40" r="1.3" fill="#56608a" fill-opacity="0.92"/>
<circle cx="455.00" cy="493.98" r="1.3" fill="#b66868" fill-opacity="0.92"/>
<circle cx="329.60" cy="456.10" r="1.3" fill="#56608a" fill-opacity="0.92"/>
<circle cx="330.19" cy="495.32" r="1.3" fill="#b66868" fill-opacity="0.92"/>
<circle cx="333.19" cy="466.93" r="1.3" fill="#56608a" fill-opacity="0.92"/>
<circle cx="333.60" cy="491.00" r="1.3" fill="#56608a" fill-opacity="0.92"/>
<circle cx="442.10" cy="453.70" r="1.3" fill="#56608a" fill-opacity="0.92"/>
<circle cx="367.60" cy="443.60" r="1.3" fill="#56608a" fill-opacity="0.92"/>
<circle cx="352.70" cy="491.80" r="1.3" fill="#56608a" fill-opacity="0.92"/>
<circle cx="440.50" cy="360.00" r="1.3" fill="#56608a" fill-opacity="0.92"/>
<circle cx="321.90" cy="479.80" r="1.3" fill="#56608a" fill-opacity="0.92"/>
<circle cx="372.80" cy="487.50" r="1.3" fill="#56608a" fill-opacity="0.92"/>
<circle cx="414.20" cy="478.40" r="1.3" fill="#56608a" fill-opacity="0.92"/>
<circle cx="350.70" cy="487.00" r="1.3" fill="#56608a" fill-opacity="0.92"/>
<circle cx="455.50" cy="482.50" r="1.3" fill="#56608a" fill-opacity="0.92"/>
<circle cx="384.40" cy="482.70" r="1.3" fill="#56608a" fill-opacity="0.92"/>
<circle cx="331.00" cy="503.40" r="1.3" fill="#56608a" fill-opacity="0.92"/>
<circle cx="390.00" cy="499.02" r="1.3" fill="#56608a" fill-opacity="0.92"/>
<circle cx="327.20" cy="450.30" r="1.3" fill="#56608a" fill-opacity="0.92"/>
<circle cx="439.20" cy="504.60" r="1.3" fill="#b66868" fill-opacity="0.92"/>
<circle cx="389.70" cy="484.10" r="1.3" fill="#56608a" fill-opacity="0.92"/>
<circle cx="352.70" cy="425.30" r="1.3" fill="#56608a" fill-opacity="0.92"/>
<circle cx="321.90" cy="502.90" r="1.3" fill="#56608a" fill-opacity="0.92"/>
<circle cx="373.55" cy="483.51" r="1.3" fill="#b66868" fill-opacity="0.92"/>
<circle cx="360.30" cy="445.80" r="1.3" fill="#56608a" fill-opacity="0.92"/>
<circle cx="454.60" cy="501.70" r="1.3" fill="#b66868" fill-opacity="0.92"/>
<circle cx="412.30" cy="419.10" r="1.3" fill="#b66868" fill-opacity="0.92"/>
<circle cx="377.70" cy="478.80" r="1.3" fill="#56608a" fill-opacity="0.92"/>
<circle cx="388.20" cy="476.40" r="1.3" fill="#56608a" fill-opacity="0.92"/>
<circle cx="458.40" cy="450.80" r="1.3" fill="#b66868" fill-opacity="0.92"/>
<circle cx="387.80" cy="423.40" r="1.3" fill="#56608a" fill-opacity="0.92"/>
<circle cx="396.90" cy="487.50" r="1.3" fill="#56608a" fill-opacity="0.92"/>
<circle cx="408.00" cy="498.10" r="1.3" fill="#b66868" fill-opacity="0.92"/>
<circle cx="352.20" cy="483.20" r="1.3" fill="#56608a" fill-opacity="0.92"/>
<circle cx="330.50" cy="472.90" r="1.3" fill="#56608a" fill-opacity="0.92"/>
<circle cx="337.30" cy="406.80" r="1.3" fill="#56608a" fill-opacity="0.92"/>
<circle cx="395.90" cy="503.80" r="1.3" fill="#56608a" fill-opacity="0.92"/>
<circle cx="345.90" cy="471.00" r="1.3" fill="#56608a" fill-opacity="0.92"/>
<circle cx="359.40" cy="471.90" r="1.3" fill="#56608a" fill-opacity="0.92"/>
<circle cx="347.80" cy="467.10" r="1.3" fill="#56608a" fill-opacity="0.92"/>
<circle cx="325.70" cy="485.60" r="1.3" fill="#56608a" fill-opacity="0.92"/>
<circle cx="434.40" cy="484.40" r="1.3" fill="#b66868" fill-opacity="0.92"/>
<circle cx="373.80" cy="456.50" r="1.3" fill="#b66868" fill-opacity="0.92"/>
<circle cx="409.40" cy="417.20" r="1.3" fill="#56608a" fill-opacity="0.92"/>
<circle cx="423.20" cy="496.00" r="1.3" fill="#b66868" fill-opacity="0.92"/>
<circle cx="417.10" cy="492.80" r="1.3" fill="#56608a" fill-opacity="0.92"/>
<circle cx="386.53" cy="500.33" r="1.3" fill="#b66868" fill-opacity="0.92"/>
<circle cx="333.40" cy="494.70" r="1.3" fill="#56608a" fill-opacity="0.92"/>
<circle cx="426.63" cy="463.28" r="1.3" fill="#b66868" fill-opacity="0.92"/>
<circle cx="349.80" cy="419.70" r="1.3" fill="#56608a" fill-opacity="0.92"/>
<circle cx="428.62" cy="493.85" r="1.3" fill="#b66868" fill-opacity="0.92"/>
<circle cx="328.60" cy="452.70" r="1.3" fill="#56608a" fill-opacity="0.92"/>
<circle cx="333.40" cy="456.10" r="1.3" fill="#b66868" fill-opacity="0.92"/>
<circle cx="320.88" cy="478.60" r="1.3" fill="#56608a" fill-opacity="0.92"/>
<circle cx="351.70" cy="440.20" r="1.3" fill="#b66868" fill-opacity="0.92"/>
<circle cx="356.50" cy="498.60" r="1.3" fill="#56608a" fill-opacity="0.92"/>
<circle cx="445.97" cy="475.30" r="1.3" fill="#b66868" fill-opacity="0.92"/>
<circle cx="340.81" cy="461.46" r="1.3" fill="#56608a" fill-opacity="0.92"/>
<circle cx="357.50" cy="409.50" r="1.3" fill="#56608a" fill-opacity="0.92"/>
<circle cx="451.70" cy="450.80" r="1.3" fill="#b66868" fill-opacity="0.92"/>
<circle cx="349.80" cy="495.20" r="1.3" fill="#b66868" fill-opacity="0.92"/>
<circle cx="366.60" cy="427.20" r="1.3" fill="#b66868" fill-opacity="0.92"/>
<circle cx="320.90" cy="495.20" r="1.3" fill="#56608a" fill-opacity="0.92"/>
<circle cx="388.95" cy="509.65" r="1.3" fill="#b66868" fill-opacity="0.92"/>
<circle cx="386.80" cy="482.70" r="1.3" fill="#56608a" fill-opacity="0.92"/>
<circle cx="457.50" cy="498.80" r="1.3" fill="#b66868" fill-opacity="0.92"/>
<circle cx="343.50" cy="478.80" r="1.3" fill="#56608a" fill-opacity="0.92"/>
<circle cx="327.89" cy="469.38" r="1.3" fill="#b66868" fill-opacity="0.92"/>
<circle cx="371.90" cy="495.70" r="1.3" fill="#56608a" fill-opacity="0.92"/>
<circle cx="418.00" cy="479.30" r="1.3" fill="#56608a" fill-opacity="0.92"/>
<circle cx="401.70" cy="419.70" r="1.3" fill="#56608a" fill-opacity="0.92"/>
<circle cx="409.40" cy="488.50" r="1.3" fill="#b66868" fill-opacity="0.92"/>
<circle cx="414.20" cy="464.70" r="1.3" fill="#56608a" fill-opacity="0.92"/>
<circle cx="349.80" cy="450.80" r="1.3" fill="#56608a" fill-opacity="0.92"/>
<circle cx="374.80" cy="449.80" r="1.3" fill="#56608a" fill-opacity="0.92"/>
<circle cx="325.15" cy="487.96" r="1.3" fill="#b66868" fill-opacity="0.92"/>
<circle cx="392.10" cy="481.70" r="1.3" fill="#56608a" fill-opacity="0.92"/>
<circle cx="355.10" cy="454.60" r="1.3" fill="#b66868" fill-opacity="0.92"/>
<circle cx="429.60" cy="479.20" r="1.3" fill="#56608a" fill-opacity="0.92"/>
<circle cx="410.30" cy="476.90" r="1.3" fill="#56608a" fill-opacity="0.92"/>
<circle cx="322.80" cy="508.20" r="1.3" fill="#56608a" fill-opacity="0.92"/>
<circle cx="437.25" cy="463.69" r="1.3" fill="#b66868" fill-opacity="0.92"/>
<circle cx="326.70" cy="437.80" r="1.3" fill="#56608a" fill-opacity="0.92"/>
<circle cx="408.90" cy="492.30" r="1.3" fill="#56608a" fill-opacity="0.92"/>
<circle cx="442.25" cy="482.76" r="1.3" fill="#b66868" fill-opacity="0.92"/>
<circle cx="383.90" cy="497.60" r="1.3" fill="#56608a" fill-opacity="0.92"/>
<circle cx="337.62" cy="498.45" r="1.3" fill="#56608a" fill-opacity="0.92"/>
<circle cx="340.60" cy="501.00" r="1.3" fill="#56608a" fill-opacity="0.92"/>
<circle cx="391.10" cy="459.40" r="1.3" fill="#56608a" fill-opacity="0.92"/>
<circle cx="338.20" cy="488.50" r="1.3" fill="#b66868" fill-opacity="0.92"/>
<circle cx="403.10" cy="490.90" r="1.3" fill="#b66868" fill-opacity="0.92"/>
<circle cx="372.47" cy="494.53" r="1.3" fill="#b66868" fill-opacity="0.92"/>
<circle cx="336.80" cy="421.00" r="1.3" fill="#56608a" fill-opacity="0.92"/>
<circle cx="333.40" cy="500.50" r="1.3" fill="#b66868" fill-opacity="0.92"/>
<circle cx="326.92" cy="463.87" r="1.3" fill="#56608a" fill-opacity="0.92"/>
<circle cx="348.30" cy="510.60" r="1.3" fill="#b66868" fill-opacity="0.92"/>
<circle cx="438.20" cy="443.10" r="1.3" fill="#b66868" fill-opacity="0.92"/>
<circle cx="454.00" cy="371.20" r="1.3" fill="#56608a" fill-opacity="0.92"/>
<circle cx="442.10" cy="470.40" r="1.3" fill="#b66868" fill-opacity="0.92"/>
<circle cx="356.50" cy="488.50" r="1.3" fill="#b66868" fill-opacity="0.92"/>
<circle cx="414.20" cy="451.30" r="1.3" fill="#56608a" fill-opacity="0.92"/>
<circle cx="331.32" cy="482.36" r="1.3" fill="#56608a" fill-opacity="0.92"/>
<circle cx="346.90" cy="502.90" r="1.3" fill="#56608a" fill-opacity="0.92"/>
<circle cx="463.20" cy="482.50" r="1.3" fill="#56608a" fill-opacity="0.92"/>
<circle cx="427.70" cy="445.00" r="1.3" fill="#b66868" fill-opacity="0.92"/>
<circle cx="387.47" cy="478.48" r="1.3" fill="#b66868" fill-opacity="0.92"/>
<circle cx="331.00" cy="452.70" r="1.3" fill="#b66868" fill-opacity="0.92"/>
<circle cx="406.50" cy="434.90" r="1.3" fill="#56608a" fill-opacity="0.92"/>
<circle cx="327.28" cy="480.88" r="1.3" fill="#56608a" fill-opacity="0.92"/>
<circle cx="339.20" cy="438.30" r="1.3" fill="#56608a" fill-opacity="0.92"/>
<circle cx="342.25" cy="467.08" r="1.3" fill="#56608a" fill-opacity="0.92"/>
<circle cx="401.70" cy="420.50" r="1.3" fill="#56608a" fill-opacity="0.92"/>
<circle cx="360.30" cy="453.70" r="1.3" fill="#b66868" fill-opacity="0.92"/>
<circle cx="392.50" cy="399.50" r="1.3" fill="#56608a" fill-opacity="0.92"/>
<circle cx="355.50" cy="467.10" r="1.3" fill="#56608a" fill-opacity="0.92"/>
<circle cx="346.40" cy="458.00" r="1.3" fill="#56608a" fill-opacity="0.92"/>
<circle cx="442.10" cy="431.90" r="1.3" fill="#b66868" fill-opacity="0.92"/>
<circle cx="363.20" cy="462.80" r="1.3" fill="#56608a" fill-opacity="0.92"/>
<circle cx="406.50" cy="481.30" r="1.3" fill="#b66868" fill-opacity="0.92"/>
<circle cx="378.60" cy="452.20" r="1.3" fill="#56608a" fill-opacity="0.92"/>
<circle cx="405.40" cy="485.31" r="1.3" fill="#b66868" fill-opacity="0.92"/>
<circle cx="386.30" cy="461.80" r="1.3" fill="#56608a" fill-opacity="0.92"/>
<circle cx="332.50" cy="457.50" r="1.3" fill="#56608a" fill-opacity="0.92"/>
<circle cx="323.49" cy="494.12" r="1.3" fill="#b66868" fill-opacity="0.92"/>
<circle cx="433.40" cy="456.50" r="1.3" fill="#b66868" fill-opacity="0.92"/>
<circle cx="333.40" cy="485.10" r="1.3" fill="#b66868" fill-opacity="0.92"/>
<circle cx="329.60" cy="491.30" r="1.3" fill="#56608a" fill-opacity="0.92"/>
<circle cx="364.20" cy="490.40" r="1.3" fill="#b66868" fill-opacity="0.92"/>
<circle cx="345.40" cy="440.70" r="1.3" fill="#56608a" fill-opacity="0.92"/>
<circle cx="358.00" cy="395.00" r="1.3" fill="#56608a" fill-opacity="0.92"/>
<circle cx="352.70" cy="497.60" r="1.3" fill="#b66868" fill-opacity="0.92"/>
<circle cx="390.90" cy="442.10" r="1.3" fill="#56608a" fill-opacity="0.92"/>
<circle cx="463.20" cy="390.40" r="1.3" fill="#b66868" fill-opacity="0.92"/>
<circle cx="342.10" cy="402.30" r="1.3" fill="#56608a" fill-opacity="0.92"/>
<circle cx="458.40" cy="477.30" r="1.3" fill="#b66868" fill-opacity="0.92"/>
<circle cx="359.40" cy="465.20" r="1.3" fill="#56608a" fill-opacity="0.92"/>
<circle cx="401.67" cy="478.06" r="1.3" fill="#56608a" fill-opacity="0.92"/>
<circle cx="444.00" cy="494.00" r="1.3" fill="#b66868" fill-opacity="0.92"/>
<circle cx="422.50" cy="482.50" r="1.3" fill="#56608a" fill-opacity="0.92"/>
<circle cx="336.30" cy="481.70" r="1.3" fill="#56608a" fill-opacity="0.92"/>
<circle cx="391.60" cy="429.10" r="1.3" fill="#56608a" fill-opacity="0.92"/>
<circle cx="394.50" cy="510.03" r="1.3" fill="#56608a" fill-opacity="0.92"/>
<circle cx="353.09" cy="489.22" r="1.3" fill="#b66868" fill-opacity="0.92"/>
<circle cx="399.80" cy="472.40" r="1.3" fill="#b66868" fill-opacity="0.92"/>
<circle cx="420.90" cy="478.70" r="1.3" fill="#56608a" fill-opacity="0.92"/>
<circle cx="353.60" cy="512.00" r="1.3" fill="#b66868" fill-opacity="0.92"/>
<circle cx="456.50" cy="496.90" r="1.3" fill="#b66868" fill-opacity="0.92"/>
<circle cx="422.50" cy="488.30" r="1.3" fill="#56608a" fill-opacity="0.92"/>
<circle cx="336.30" cy="419.70" r="1.3" fill="#56608a" fill-opacity="0.92"/>
<circle cx="402.00" cy="492.72" r="1.3" fill="#b66868" fill-opacity="0.92"/>
<circle cx="368.00" cy="503.40" r="1.3" fill="#56608a" fill-opacity="0.92"/>
<circle cx="397.04" cy="466.04" r="1.3" fill="#b66868" fill-opacity="0.92"/>
<circle cx="339.20" cy="464.70" r="1.3" fill="#b66868" fill-opacity="0.92"/>
<circle cx="449.80" cy="433.50" r="1.3" fill="#56608a" fill-opacity="0.92"/>
<circle cx="333.90" cy="445.00" r="1.3" fill="#b66868" fill-opacity="0.92"/>
<circle cx="449.80" cy="495.00" r="1.3" fill="#b66868" fill-opacity="0.92"/>
<circle cx="384.40" cy="471.40" r="1.3" fill="#56608a" fill-opacity="0.92"/>
<circle cx="346.99" cy="471.22" r="1.3" fill="#56608a" fill-opacity="0.92"/>
<circle cx="449.80" cy="456.50" r="1.3" fill="#b66868" fill-opacity="0.92"/>
<circle cx="342.60" cy="437.30" r="1.3" fill="#56608a" fill-opacity="0.92"/>
<circle cx="330.75" cy="471.66" r="1.3" fill="#56608a" fill-opacity="0.92"/>
<circle cx="359.80" cy="351.40" r="1.3" fill="#56608a" fill-opacity="0.92"/>
<circle cx="450.95" cy="467.29" r="1.3" fill="#56608a" fill-opacity="0.92"/>
<circle cx="336.30" cy="472.90" r="1.3" fill="#b66868" fill-opacity="0.92"/>
<circle cx="341.10" cy="480.80" r="1.3" fill="#b66868" fill-opacity="0.92"/>
<circle cx="398.30" cy="503.80" r="1.3" fill="#b66868" fill-opacity="0.92"/>
<circle cx="326.70" cy="498.10" r="1.3" fill="#56608a" fill-opacity="0.92"/>
<circle cx="337.30" cy="459.40" r="1.3" fill="#b66868" fill-opacity="0.92"/>
<circle cx="355.50" cy="507.70" r="1.3" fill="#56608a" fill-opacity="0.92"/>
<circle cx="380.28" cy="446.33" r="1.3" fill="#56608a" fill-opacity="0.92"/>
<circle cx="378.60" cy="457.00" r="1.3" fill="#56608a" fill-opacity="0.92"/>
<circle cx="335.30" cy="437.30" r="1.3" fill="#56608a" fill-opacity="0.92"/>
<circle cx="333.12" cy="451.68" r="1.3" fill="#56608a" fill-opacity="0.92"/>
<circle cx="440.20" cy="448.50" r="1.3" fill="#56608a" fill-opacity="0.92"/>
<circle cx="343.64" cy="471.51" r="1.3" fill="#b66868" fill-opacity="0.92"/>
<circle cx="338.20" cy="507.20" r="1.3" fill="#b66868" fill-opacity="0.92"/>
<circle cx="373.80" cy="479.30" r="1.3" fill="#56608a" fill-opacity="0.92"/>
<circle cx="450.70" cy="486.30" r="1.3" fill="#b66868" fill-opacity="0.92"/>
<circle cx="333.23" cy="477.32" r="1.3" fill="#56608a" fill-opacity="0.92"/>
<circle cx="417.10" cy="471.90" r="1.3" fill="#b66868" fill-opacity="0.92"/>
<circle cx="323.75" cy="504.08" r="1.3" fill="#56608a" fill-opacity="0.92"/>
<circle cx="504.00" cy="520.40" r="1.3" fill="#b66868" fill-opacity="0.92"/>
<circle cx="320.90" cy="466.20" r="1.3" fill="#56608a" fill-opacity="0.92"/>
<circle cx="425.77" cy="489.01" r="1.3" fill="#b66868" fill-opacity="0.92"/>
<circle cx="341.73" cy="489.35" r="1.3" fill="#b66868" fill-opacity="0.92"/>
<circle cx="459.40" cy="481.90" r="1.3" fill="#56608a" fill-opacity="0.92"/>
<circle cx="321.40" cy="447.40" r="1.3" fill="#56608a" fill-opacity="0.92"/>
<circle cx="359.90" cy="504.80" r="1.3" fill="#56608a" fill-opacity="0.92"/>
<circle cx="326.52" cy="485.37" r="1.3" fill="#b66868" fill-opacity="0.92"/>
<circle cx="386.62" cy="508.31" r="1.3" fill="#b66868" fill-opacity="0.92"/>
<circle cx="370.90" cy="454.60" r="1.3" fill="#56608a" fill-opacity="0.92"/>
<circle cx="398.80" cy="468.60" r="1.3" fill="#b66868" fill-opacity="0.92"/>
<circle cx="388.20" cy="420.50" r="1.3" fill="#56608a" fill-opacity="0.92"/>
<circle cx="410.30" cy="412.90" r="1.3" fill="#56608a" fill-opacity="0.92"/>
<circle cx="360.80" cy="457.00" r="1.3" fill="#56608a" fill-opacity="0.92"/>
<line x1="319.00" y1="489.80" x2="503.64" y2="450.36" stroke="#c0182e" stroke-width="1.6" stroke-linecap="butt"/>
<line x1="319.00" y1="478.30" x2="468.51" y2="446.64" stroke="#1d4775" stroke-width="1.6" stroke-linecap="butt"/>
<text x="215.20" y="569.00" font-size="7.0" text-anchor="start" fill="#262626" stroke="#262626" stroke-width="0.1" font-weight="normal">ITP Type</text>
<line x1="215.20" y1="580.60" x2="223.30" y2="580.60" stroke="#c0182e" stroke-width="1.6" stroke-linecap="butt"/>
<text x="227.10" y="583.20" font-size="7.05" text-anchor="start" fill="#262626" stroke="#262626" stroke-width="0.1" font-weight="normal">Chronic</text>
<line x1="258.90" y1="580.60" x2="267.00" y2="580.60" stroke="#1d4775" stroke-width="1.6" stroke-linecap="butt"/>
<text x="269.70" y="583.20" font-size="7.0" text-anchor="start" fill="#262626" stroke="#262626" stroke-width="0.1" font-weight="normal">Spontaneously Resolving</text>
<rect x="0.5" y="0.5" width="519" height="590" fill="none" stroke="#474747" stroke-width="1"/>
</svg></body></html>
